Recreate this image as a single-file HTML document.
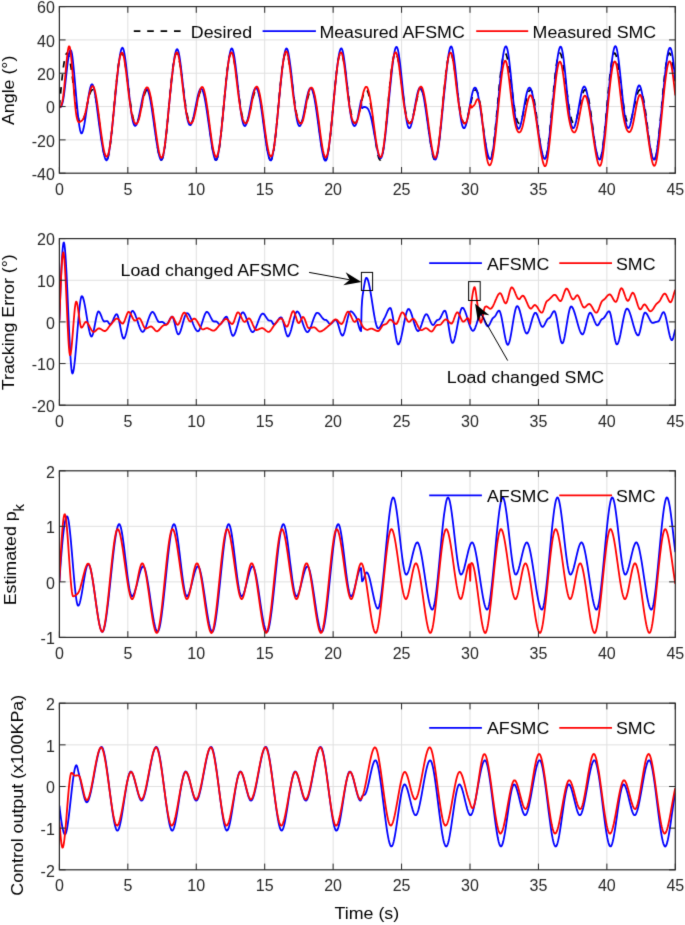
<!DOCTYPE html>
<html><head><meta charset="utf-8"><style>
html,body{margin:0;padding:0;background:#fff;overflow:hidden}
svg{display:block;will-change:transform;font-family:"Liberation Sans",sans-serif}
</style></head><body>
<svg width="685" height="925" viewBox="0 0 685 925">
<filter id="bl" x="0" y="0" width="685" height="925" filterUnits="userSpaceOnUse" color-interpolation-filters="sRGB"><feConvolveMatrix order="3" kernelMatrix="0.01134 0.08382 0.01134 0.08382 0.61935 0.08382 0.01134 0.08382 0.01134" edgeMode="duplicate" preserveAlpha="true"/></filter>
<rect width="685" height="925" fill="#fff"/><g filter="url(#bl)"><rect width="685" height="925" fill="#fff"/>
<defs><clipPath id="c0"><rect x="59.40" y="6.60" width="615.90" height="166.60"/></clipPath></defs>
<path d="M127.83 6.60V173.20M196.27 6.60V173.20M264.70 6.60V173.20M333.13 6.60V173.20M401.57 6.60V173.20M470.00 6.60V173.20M538.43 6.60V173.20M606.87 6.60V173.20M59.40 139.88H675.30M59.40 106.56H675.30M59.40 73.24H675.30M59.40 39.92H675.30" stroke="#e0e0e0" stroke-width="1" fill="none"/>
<path d="M59.4,106.6 L59.9,101.0 L60.4,95.5 L60.9,90.2 L61.4,85.0 L61.9,80.0 L62.4,75.4 L62.9,71.1 L63.4,67.2 L63.9,63.7 L64.4,60.7 L64.9,58.1 L65.4,56.1 L65.9,54.6 L66.4,53.6 L66.9,53.2 L67.4,53.3 L67.9,53.9 L68.4,54.9 L68.9,56.5 L69.4,58.5 L69.9,60.9 L70.4,63.7 L70.9,66.7 L71.4,70.1 L71.9,73.6 L72.4,77.4 L72.9,81.3 L73.4,85.2 L73.9,89.1 L74.4,93.0 L74.9,96.9 L75.4,100.6 L75.9,104.1 L76.4,107.4 L76.9,110.5 L77.4,113.2 L77.9,115.7 L78.4,117.9 L78.9,119.7 L79.4,121.1 L79.9,122.2 L80.4,122.9 L80.9,123.2 L81.4,123.2 L81.9,122.9 L82.4,122.2 L82.9,121.2 L83.4,119.9 L83.9,118.4 L84.4,116.6 L84.9,114.7 L85.4,112.6 L85.9,110.4 L86.4,108.2 L86.9,105.9 L87.4,103.6 L87.9,101.4 L88.4,99.3 L88.9,97.3 L89.4,95.4 L89.9,93.8 L90.4,92.4 L90.9,91.3 L91.4,90.5 L91.9,90.0 L92.4,89.8 L92.9,90.0 L93.4,90.6 L93.9,91.5 L94.4,92.8 L94.9,94.4 L95.4,96.4 L95.9,98.8 L96.4,101.4 L96.9,104.4 L97.4,107.6 L97.9,111.0 L98.4,114.7 L98.9,118.5 L99.4,122.3 L99.9,126.3 L100.4,130.2 L100.9,134.1 L101.4,137.9 L101.9,141.6 L102.4,145.0 L102.9,148.2 L103.4,151.1 L103.9,153.7 L104.4,155.8 L104.9,157.6 L105.4,158.9 L105.9,159.7 L106.4,160.0 L106.9,159.8 L107.4,159.0 L107.9,157.7 L108.4,155.9 L108.9,153.6 L109.4,150.8 L109.9,147.5 L110.4,143.7 L110.9,139.6 L111.4,135.1 L111.9,130.3 L112.4,125.2 L112.9,119.9 L113.4,114.4 L113.9,108.9 L114.4,103.4 L114.9,97.8 L115.4,92.4 L115.9,87.1 L116.4,82.1 L116.9,77.3 L117.4,72.9 L117.9,68.8 L118.4,65.1 L118.9,61.9 L119.4,59.1 L119.9,56.9 L120.4,55.2 L120.9,54.0 L121.4,53.3 L121.9,53.2 L122.4,53.5 L122.9,54.4 L123.4,55.8 L123.9,57.6 L124.4,59.8 L124.9,62.4 L125.4,65.4 L125.9,68.6 L126.4,72.1 L126.9,75.8 L127.4,79.6 L127.9,83.5 L128.4,87.5 L128.9,91.4 L129.4,95.3 L129.9,99.0 L130.4,102.6 L130.9,106.0 L131.4,109.2 L131.9,112.1 L132.4,114.7 L132.9,117.0 L133.4,119.0 L133.9,120.6 L134.4,121.8 L134.9,122.6 L135.4,123.1 L135.9,123.3 L136.5,123.1 L137.0,122.5 L137.5,121.6 L138.0,120.5 L138.5,119.1 L139.0,117.4 L139.5,115.5 L140.0,113.5 L140.5,111.4 L141.0,109.1 L141.5,106.9 L142.0,104.6 L142.5,102.3 L143.0,100.2 L143.5,98.1 L144.0,96.2 L144.5,94.5 L145.0,93.0 L145.5,91.8 L146.0,90.8 L146.5,90.2 L147.0,89.9 L147.5,89.9 L148.0,90.3 L148.5,91.1 L149.0,92.2 L149.5,93.7 L150.0,95.6 L150.5,97.8 L151.0,100.3 L151.5,103.1 L152.0,106.2 L152.5,109.6 L153.0,113.1 L153.5,116.8 L154.0,120.7 L154.5,124.6 L155.0,128.6 L155.5,132.5 L156.0,136.3 L156.5,140.0 L157.0,143.6 L157.5,146.9 L158.0,149.9 L158.5,152.6 L159.0,155.0 L159.5,156.9 L160.0,158.4 L160.5,159.4 L161.0,159.9 L161.5,159.9 L162.0,159.4 L162.5,158.3 L163.0,156.7 L163.5,154.6 L164.0,152.0 L164.5,148.9 L165.0,145.4 L165.5,141.4 L166.0,137.0 L166.5,132.3 L167.0,127.3 L167.5,122.1 L168.0,116.7 L168.5,111.2 L169.0,105.7 L169.5,100.2 L170.0,94.7 L170.5,89.3 L171.0,84.2 L171.5,79.3 L172.0,74.7 L172.5,70.5 L173.0,66.6 L173.5,63.2 L174.0,60.2 L174.5,57.8 L175.0,55.8 L175.5,54.4 L176.0,53.5 L176.5,53.2 L177.0,53.3 L177.5,54.0 L178.0,55.2 L178.5,56.8 L179.0,58.8 L179.5,61.3 L180.0,64.1 L180.5,67.2 L181.0,70.6 L181.5,74.2 L182.0,78.0 L182.5,81.9 L183.0,85.8 L183.5,89.7 L184.0,93.6 L184.5,97.4 L185.0,101.1 L185.5,104.6 L186.0,107.9 L186.5,110.9 L187.0,113.7 L187.5,116.1 L188.0,118.2 L188.5,119.9 L189.0,121.3 L189.5,122.3 L190.0,123.0 L190.5,123.3 L191.0,123.2 L191.5,122.8 L192.0,122.0 L192.5,121.0 L193.0,119.7 L193.5,118.1 L194.0,116.4 L194.5,114.4 L195.0,112.3 L195.5,110.1 L196.0,107.8 L196.5,105.5 L197.0,103.3 L197.5,101.1 L198.0,98.9 L198.5,97.0 L199.0,95.2 L199.5,93.6 L200.0,92.2 L200.5,91.2 L201.0,90.4 L201.5,90.0 L202.0,89.9 L202.5,90.1 L203.0,90.7 L203.5,91.7 L204.0,93.0 L204.5,94.7 L205.0,96.8 L205.5,99.2 L206.0,101.9 L206.5,104.9 L207.0,108.1 L207.5,111.6 L208.0,115.3 L208.5,119.1 L209.0,122.9 L209.5,126.9 L210.0,130.8 L210.5,134.7 L211.0,138.5 L211.5,142.1 L212.0,145.5 L212.5,148.7 L213.0,151.5 L213.5,154.0 L214.0,156.1 L214.5,157.8 L215.0,159.0 L215.5,159.8 L216.0,160.0 L216.5,159.7 L217.0,158.8 L217.5,157.5 L218.0,155.6 L218.5,153.2 L219.0,150.3 L219.5,146.9 L220.0,143.1 L220.5,138.9 L221.0,134.3 L221.5,129.5 L222.0,124.4 L222.5,119.0 L223.0,113.6 L223.5,108.0 L224.0,102.5 L224.5,97.0 L225.0,91.6 L225.5,86.3 L226.0,81.3 L226.5,76.6 L227.0,72.2 L227.5,68.2 L228.0,64.6 L228.5,61.4 L229.0,58.7 L229.5,56.6 L230.0,54.9 L230.5,53.8 L231.0,53.2 L231.5,53.2 L232.0,53.6 L232.5,54.6 L233.0,56.0 L233.5,57.9 L234.0,60.2 L234.5,62.9 L235.0,65.9 L235.5,69.2 L236.0,72.7 L236.5,76.4 L237.0,80.2 L237.5,84.1 L238.0,88.1 L238.5,92.0 L239.0,95.9 L239.5,99.6 L240.0,103.2 L240.5,106.5 L241.0,109.7 L241.5,112.5 L242.0,115.1 L242.5,117.3 L243.0,119.2 L243.5,120.8 L244.0,121.9 L244.5,122.7 L245.0,123.2 L245.5,123.3 L246.0,123.0 L246.5,122.4 L247.0,121.5 L247.5,120.3 L248.0,118.8 L248.5,117.1 L249.0,115.2 L249.5,113.2 L250.0,111.0 L250.5,108.8 L251.0,106.5 L251.5,104.2 L252.0,102.0 L252.5,99.8 L253.0,97.8 L253.5,95.9 L254.0,94.2 L254.5,92.8 L255.0,91.6 L255.5,90.7 L256.0,90.1 L256.5,89.9 L257.0,89.9 L257.5,90.4 L258.0,91.2 L258.5,92.4 L259.0,94.0 L259.5,95.9 L260.0,98.1 L260.5,100.7 L261.0,103.6 L261.5,106.7 L262.0,110.1 L262.5,113.7 L263.0,117.4 L263.5,121.3 L264.0,125.2 L264.5,129.2 L265.0,133.1 L265.5,136.9 L266.0,140.6 L266.5,144.1 L267.0,147.4 L267.5,150.4 L268.0,153.0 L268.5,155.3 L269.0,157.2 L269.5,158.6 L270.0,159.5 L270.5,159.9 L271.0,159.9 L271.5,159.3 L272.0,158.1 L272.5,156.5 L273.0,154.3 L273.5,151.6 L274.0,148.4 L274.5,144.8 L275.0,140.7 L275.5,136.3 L276.0,131.6 L276.5,126.5 L277.0,121.3 L277.5,115.9 L278.0,110.4 L278.5,104.8 L279.0,99.3 L279.5,93.8 L280.0,88.5 L280.5,83.4 L281.0,78.6 L281.5,74.0 L282.0,69.8 L282.5,66.0 L283.0,62.7 L283.5,59.8 L284.0,57.4 L284.5,55.6 L285.0,54.2 L285.5,53.4 L286.0,53.1 L286.5,53.4 L287.0,54.1 L287.5,55.4 L288.0,57.1 L288.5,59.2 L289.0,61.7 L289.5,64.6 L290.0,67.7 L290.6,71.2 L291.1,74.8 L291.6,78.6 L292.1,82.5 L292.6,86.4 L293.1,90.3 L293.6,94.2 L294.1,98.0 L294.6,101.7 L295.1,105.1 L295.6,108.4 L296.1,111.4 L296.6,114.1 L297.1,116.4 L297.6,118.5 L298.1,120.2 L298.6,121.5 L299.1,122.4 L299.6,123.0 L300.1,123.3 L300.6,123.1 L301.1,122.7 L301.6,121.9 L302.1,120.8 L302.6,119.5 L303.1,117.9 L303.6,116.1 L304.1,114.1 L304.6,112.0 L305.1,109.7 L305.6,107.5 L306.1,105.2 L306.6,102.9 L307.1,100.7 L307.6,98.6 L308.1,96.7 L308.6,94.9 L309.1,93.4 L309.6,92.1 L310.1,91.0 L310.6,90.3 L311.1,89.9 L311.6,89.9 L312.1,90.2 L312.6,90.8 L313.1,91.9 L313.6,93.3 L314.1,95.0 L314.6,97.1 L315.1,99.6 L315.6,102.3 L316.1,105.4 L316.6,108.7 L317.1,112.2 L317.6,115.8 L318.1,119.7 L318.6,123.6 L319.1,127.5 L319.6,131.4 L320.1,135.3 L320.6,139.1 L321.1,142.7 L321.6,146.0 L322.1,149.1 L322.6,151.9 L323.1,154.4 L323.6,156.4 L324.1,158.0 L324.6,159.2 L325.1,159.8 L325.6,160.0 L326.1,159.6 L326.6,158.7 L327.1,157.2 L327.6,155.2 L328.1,152.8 L328.6,149.8 L329.1,146.4 L329.6,142.5 L330.1,138.2 L330.6,133.6 L331.1,128.7 L331.6,123.5 L332.1,118.2 L332.6,112.7 L333.1,107.2 L333.6,101.6 L334.1,96.1 L334.6,90.8 L335.1,85.5 L335.6,80.6 L336.1,75.9 L336.6,71.6 L337.1,67.6 L337.6,64.1 L338.1,61.0 L338.6,58.4 L339.1,56.3 L339.6,54.7 L340.1,53.7 L340.6,53.2 L341.1,53.2 L341.6,53.8 L342.1,54.8 L342.6,56.3 L343.1,58.3 L343.6,60.6 L344.1,63.3 L344.6,66.4 L345.1,69.7 L345.6,73.2 L346.1,77.0 L346.6,80.8 L347.1,84.7 L347.6,88.7 L348.1,92.6 L348.6,96.4 L349.1,100.2 L349.6,103.7 L350.1,107.0 L350.6,110.1 L351.1,113.0 L351.6,115.5 L352.1,117.7 L352.6,119.5 L353.1,121.0 L353.6,122.1 L354.1,122.8 L354.6,123.2 L355.1,123.2 L355.6,122.9 L356.1,122.3 L356.6,121.3 L357.1,120.1 L357.6,118.6 L358.1,116.8 L358.6,114.9 L359.1,112.9 L359.6,110.7 L360.1,108.4 L360.6,106.2 L361.1,103.9 L361.6,101.6 L362.1,99.5 L362.6,97.5 L363.1,95.6 L363.6,94.0 L364.1,92.6 L364.6,91.4 L365.1,90.6 L365.6,90.0 L366.1,89.8 L366.6,90.0 L367.1,90.5 L367.6,91.4 L368.1,92.6 L368.6,94.2 L369.1,96.2 L369.6,98.5 L370.1,101.1 L370.6,104.1 L371.1,107.2 L371.6,110.7 L372.1,114.3 L372.6,118.0 L373.1,121.9 L373.6,125.8 L374.1,129.8 L374.6,133.7 L375.1,137.5 L375.6,141.2 L376.1,144.6 L376.6,147.9 L377.1,150.8 L377.6,153.4 L378.1,155.6 L378.6,157.4 L379.1,158.7 L379.6,159.6 L380.1,160.0 L380.6,159.8 L381.1,159.1 L381.6,157.9 L382.1,156.1 L382.6,153.9 L383.1,151.1 L383.6,147.9 L384.1,144.2 L384.6,140.1 L385.1,135.6 L385.6,130.8 L386.1,125.7 L386.6,120.5 L387.1,115.0 L387.6,109.5 L388.1,104.0 L388.6,98.4 L389.1,93.0 L389.6,87.7 L390.1,82.6 L390.6,77.8 L391.1,73.3 L391.6,69.2 L392.1,65.5 L392.6,62.2 L393.1,59.4 L393.6,57.1 L394.1,55.3 L394.6,54.1 L395.1,53.3 L395.6,53.1 L396.1,53.5 L396.6,54.3 L397.1,55.6 L397.6,57.4 L398.1,59.6 L398.6,62.1 L399.1,65.1 L399.6,68.3 L400.1,71.7 L400.6,75.4 L401.1,79.2 L401.6,83.1 L402.1,87.0 L402.6,91.0 L403.1,94.8 L403.6,98.6 L404.1,102.2 L404.6,105.7 L405.1,108.9 L405.6,111.8 L406.1,114.4 L406.6,116.8 L407.1,118.8 L407.6,120.4 L408.1,121.7 L408.6,122.6 L409.1,123.1 L409.6,123.3 L410.1,123.1 L410.6,122.6 L411.1,121.8 L411.6,120.6 L412.1,119.2 L412.6,117.6 L413.1,115.8 L413.6,113.8 L414.1,111.6 L414.6,109.4 L415.1,107.1 L415.6,104.8 L416.1,102.6 L416.6,100.4 L417.1,98.3 L417.6,96.4 L418.1,94.7 L418.6,93.1 L419.1,91.9 L419.6,90.9 L420.1,90.2 L420.6,89.9 L421.1,89.9 L421.6,90.2 L422.1,91.0 L422.6,92.1 L423.1,93.5 L423.6,95.3 L424.1,97.5 L424.6,100.0 L425.1,102.8 L425.6,105.9 L426.1,109.2 L426.6,112.7 L427.1,116.4 L427.6,120.3 L428.1,124.2 L428.6,128.1 L429.1,132.0 L429.6,135.9 L430.1,139.6 L430.6,143.2 L431.1,146.5 L431.6,149.6 L432.1,152.3 L432.6,154.7 L433.1,156.7 L433.6,158.2 L434.1,159.3 L434.6,159.9 L435.1,159.9 L435.6,159.5 L436.1,158.5 L436.6,156.9 L437.1,154.9 L437.6,152.3 L438.1,149.3 L438.6,145.8 L439.1,141.8 L439.6,137.5 L440.1,132.9 L440.6,127.9 L441.1,122.7 L441.6,117.4 L442.1,111.9 L442.6,106.3 L443.1,100.8 L443.6,95.3 L444.1,89.9 L444.7,84.8 L445.2,79.8 L445.7,75.2 L446.2,70.9 L446.7,67.0 L447.2,63.5 L447.7,60.5 L448.2,58.0 L448.7,56.0 L449.2,54.5 L449.7,53.6 L450.2,53.2 L450.7,53.3 L451.2,53.9 L451.7,55.0 L452.2,56.6 L452.7,58.6 L453.2,61.0 L453.7,63.8 L454.2,66.9 L454.7,70.2 L455.2,73.8 L455.7,77.6 L456.2,81.4 L456.7,85.4 L457.2,89.3 L457.7,93.2 L458.2,97.0 L458.7,100.7 L459.2,104.2 L459.7,107.5 L460.2,110.6 L460.7,113.4 L461.2,115.8 L461.7,118.0 L462.2,119.7 L462.7,121.2 L463.2,122.2 L463.7,122.9 L464.2,123.2 L464.7,123.2 L465.2,122.8 L465.7,122.1 L466.2,121.1 L466.7,119.9 L467.2,118.3 L467.7,116.6 L468.2,114.6 L468.7,112.5 L469.2,110.3 L469.7,108.1 L470.2,105.8 L470.7,103.5 L471.2,101.3 L471.7,99.2 L472.2,97.2 L472.7,95.4 L473.2,93.8 L473.7,92.4 L474.2,91.3 L474.7,90.5 L475.2,90.0 L475.7,89.8 L476.2,90.1 L476.7,90.6 L477.2,91.6 L477.7,92.9 L478.2,94.5 L478.7,96.5 L479.2,98.9 L479.7,101.6 L480.2,104.5 L480.7,107.8 L481.2,111.2 L481.7,114.8 L482.2,118.6 L482.7,122.5 L483.2,126.4 L483.7,130.4 L484.2,134.3 L484.7,138.1 L485.2,141.7 L485.7,145.2 L486.2,148.3 L486.7,151.2 L487.2,153.8 L487.7,155.9 L488.2,157.6 L488.7,158.9 L489.2,159.7 L489.7,160.0 L490.2,159.7 L490.7,159.0 L491.2,157.7 L491.7,155.8 L492.2,153.5 L492.7,150.6 L493.2,147.3 L493.7,143.6 L494.2,139.4 L494.7,134.9 L495.2,130.0 L495.7,124.9 L496.2,119.6 L496.7,114.2 L497.2,108.7 L497.7,103.1 L498.2,97.6 L498.7,92.2 L499.2,86.9 L499.7,81.9 L500.2,77.1 L500.7,72.7 L501.2,68.6 L501.7,65.0 L502.2,61.7 L502.7,59.0 L503.2,56.8 L503.7,55.1 L504.2,53.9 L504.7,53.3 L505.2,53.2 L505.7,53.6 L506.2,54.5 L506.7,55.9 L507.2,57.7 L507.7,59.9 L508.2,62.6 L508.7,65.5 L509.2,68.8 L509.7,72.3 L510.2,76.0 L510.7,79.8 L511.2,83.7 L511.7,87.6 L512.2,91.6 L512.7,95.4 L513.2,99.2 L513.7,102.8 L514.2,106.2 L514.7,109.3 L515.2,112.2 L515.7,114.8 L516.2,117.1 L516.7,119.0 L517.2,120.6 L517.7,121.8 L518.2,122.7 L518.7,123.2 L519.2,123.3 L519.7,123.0 L520.2,122.5 L520.7,121.6 L521.2,120.4 L521.7,119.0 L522.2,117.3 L522.7,115.5 L523.2,113.4 L523.7,111.3 L524.2,109.0 L524.7,106.8 L525.2,104.5 L525.7,102.2 L526.2,100.1 L526.7,98.0 L527.2,96.1 L527.7,94.4 L528.2,92.9 L528.7,91.7 L529.2,90.8 L529.7,90.2 L530.2,89.9 L530.7,89.9 L531.2,90.3 L531.7,91.1 L532.2,92.3 L532.7,93.8 L533.2,95.6 L533.7,97.9 L534.2,100.4 L534.7,103.2 L535.2,106.4 L535.7,109.7 L536.2,113.3 L536.7,117.0 L537.2,120.9 L537.7,124.8 L538.2,128.7 L538.7,132.6 L539.2,136.5 L539.7,140.2 L540.2,143.7 L540.7,147.0 L541.2,150.0 L541.7,152.7 L542.2,155.1 L542.7,157.0 L543.2,158.4 L543.7,159.4 L544.2,159.9 L544.7,159.9 L545.2,159.4 L545.7,158.3 L546.2,156.7 L546.7,154.5 L547.2,151.9 L547.7,148.8 L548.2,145.2 L548.7,141.2 L549.2,136.8 L549.7,132.1 L550.2,127.1 L550.7,121.9 L551.2,116.5 L551.7,111.0 L552.2,105.4 L552.7,99.9 L553.2,94.4 L553.7,89.1 L554.2,84.0 L554.7,79.1 L555.2,74.5 L555.7,70.3 L556.2,66.4 L556.7,63.0 L557.2,60.1 L557.7,57.7 L558.2,55.7 L558.7,54.4 L559.2,53.5 L559.7,53.1 L560.2,53.3 L560.7,54.0 L561.2,55.2 L561.7,56.9 L562.2,58.9 L562.7,61.4 L563.2,64.2 L563.7,67.4 L564.2,70.8 L564.7,74.4 L565.2,78.2 L565.7,82.0 L566.2,86.0 L566.7,89.9 L567.2,93.8 L567.7,97.6 L568.2,101.3 L568.7,104.8 L569.2,108.0 L569.7,111.0 L570.2,113.8 L570.7,116.2 L571.2,118.3 L571.7,120.0 L572.2,121.4 L572.7,122.4 L573.2,123.0 L573.7,123.3 L574.2,123.2 L574.7,122.8 L575.2,122.0 L575.7,121.0 L576.2,119.6 L576.7,118.1 L577.2,116.3 L577.7,114.3 L578.2,112.2 L578.7,110.0 L579.2,107.7 L579.7,105.4 L580.2,103.2 L580.7,101.0 L581.2,98.9 L581.7,96.9 L582.2,95.1 L582.7,93.5 L583.2,92.2 L583.7,91.1 L584.2,90.4 L584.7,89.9 L585.2,89.9 L585.7,90.1 L586.2,90.7 L586.7,91.7 L587.2,93.1 L587.7,94.8 L588.2,96.9 L588.7,99.3 L589.2,102.0 L589.7,105.0 L590.2,108.3 L590.7,111.8 L591.2,115.4 L591.7,119.2 L592.2,123.1 L592.7,127.1 L593.2,131.0 L593.7,134.9 L594.2,138.7 L594.7,142.3 L595.2,145.7 L595.7,148.8 L596.2,151.6 L596.7,154.1 L597.2,156.2 L597.7,157.9 L598.2,159.1 L598.8,159.8 L599.3,160.0 L599.8,159.6 L600.3,158.8 L600.8,157.4 L601.3,155.5 L601.8,153.1 L602.3,150.1 L602.8,146.8 L603.3,142.9 L603.8,138.7 L604.3,134.1 L604.8,129.3 L605.3,124.1 L605.8,118.8 L606.3,113.3 L606.8,107.8 L607.3,102.2 L607.8,96.7 L608.3,91.3 L608.8,86.1 L609.3,81.1 L609.8,76.4 L610.3,72.0 L610.8,68.0 L611.3,64.4 L611.8,61.3 L612.3,58.6 L612.8,56.5 L613.3,54.9 L613.8,53.8 L614.3,53.2 L614.8,53.2 L615.3,53.7 L615.8,54.7 L616.3,56.1 L616.8,58.0 L617.3,60.3 L617.8,63.0 L618.3,66.0 L618.8,69.3 L619.3,72.8 L619.8,76.5 L620.3,80.4 L620.8,84.3 L621.3,88.3 L621.8,92.2 L622.3,96.0 L622.8,99.8 L623.3,103.3 L623.8,106.7 L624.3,109.8 L624.8,112.7 L625.3,115.2 L625.8,117.4 L626.3,119.3 L626.8,120.8 L627.3,122.0 L627.8,122.8 L628.3,123.2 L628.8,123.3 L629.3,123.0 L629.8,122.4 L630.3,121.4 L630.8,120.2 L631.3,118.7 L631.8,117.0 L632.3,115.2 L632.8,113.1 L633.3,110.9 L633.8,108.7 L634.3,106.4 L634.8,104.1 L635.3,101.9 L635.8,99.7 L636.3,97.7 L636.8,95.8 L637.3,94.2 L637.8,92.7 L638.3,91.5 L638.8,90.7 L639.3,90.1 L639.8,89.9 L640.3,90.0 L640.8,90.4 L641.3,91.3 L641.8,92.5 L642.3,94.0 L642.8,96.0 L643.3,98.2 L643.8,100.8 L644.3,103.7 L644.8,106.9 L645.3,110.3 L645.8,113.9 L646.3,117.6 L646.8,121.5 L647.3,125.4 L647.8,129.3 L648.3,133.3 L648.8,137.1 L649.3,140.8 L649.8,144.3 L650.3,147.5 L650.8,150.5 L651.3,153.1 L651.8,155.4 L652.3,157.2 L652.8,158.6 L653.3,159.5 L653.8,160.0 L654.3,159.9 L654.8,159.2 L655.3,158.1 L655.8,156.4 L656.3,154.2 L656.8,151.4 L657.3,148.2 L657.8,144.6 L658.3,140.5 L658.8,136.1 L659.3,131.4 L659.8,126.3 L660.3,121.1 L660.8,115.7 L661.3,110.1 L661.8,104.6 L662.3,99.1 L662.8,93.6 L663.3,88.3 L663.8,83.2 L664.3,78.4 L664.8,73.8 L665.3,69.7 L665.8,65.9 L666.3,62.6 L666.8,59.7 L667.3,57.3 L667.8,55.5 L668.3,54.2 L668.8,53.4 L669.3,53.1 L669.8,53.4 L670.3,54.2 L670.8,55.4 L671.3,57.2 L671.8,59.3 L672.3,61.8 L672.8,64.7 L673.3,67.9 L673.8,71.3 L674.3,75.0 L674.8,78.8 L675.3,82.6" stroke="#000000" stroke-width="1.70" fill="none" stroke-linejoin="round" clip-path="url(#c0)" stroke-dasharray="6.5,6.6"/>
<path d="M59.4,107.2 L59.9,107.3 L60.4,107.2 L60.9,106.8 L61.4,106.0 L61.9,104.9 L62.4,103.3 L62.9,101.3 L63.4,98.7 L63.9,95.5 L64.4,91.7 L64.9,87.5 L65.4,83.0 L65.9,78.4 L66.4,73.8 L66.9,69.3 L67.4,65.0 L67.9,61.1 L68.4,57.7 L68.9,54.7 L69.4,52.4 L69.9,50.9 L70.4,50.1 L70.9,50.3 L71.4,51.4 L71.9,53.5 L72.4,56.7 L72.9,60.9 L73.4,65.5 L73.9,70.6 L74.4,76.0 L74.9,81.6 L75.4,87.3 L75.9,93.1 L76.4,98.8 L76.9,104.3 L77.4,109.5 L77.9,114.4 L78.4,118.9 L78.9,122.9 L79.4,126.3 L79.9,129.2 L80.4,131.3 L80.9,132.7 L81.4,133.4 L81.9,133.2 L82.4,132.3 L82.9,131.0 L83.4,129.1 L83.9,126.8 L84.4,124.2 L84.9,121.2 L85.4,118.0 L85.9,114.6 L86.4,111.2 L86.9,107.6 L87.4,104.1 L87.9,100.7 L88.4,97.4 L88.9,94.4 L89.4,91.6 L89.9,89.2 L90.4,87.2 L90.9,85.7 L91.4,84.7 L91.9,84.3 L92.4,84.4 L92.9,85.2 L93.4,86.5 L93.9,88.3 L94.4,90.6 L94.9,93.3 L95.4,96.4 L95.9,99.8 L96.4,103.4 L96.9,107.2 L97.4,111.1 L97.9,115.0 L98.4,118.8 L98.9,122.6 L99.4,126.3 L99.9,129.9 L100.4,133.4 L100.9,136.8 L101.4,140.1 L101.9,143.3 L102.4,146.2 L102.9,149.0 L103.4,151.6 L103.9,153.9 L104.4,156.0 L104.9,157.8 L105.4,159.1 L105.9,159.9 L106.4,160.3 L106.9,160.1 L107.4,159.3 L107.9,157.8 L108.4,155.7 L108.9,153.1 L109.4,150.0 L109.9,146.5 L110.4,142.7 L110.9,138.7 L111.4,134.5 L111.9,130.0 L112.4,125.3 L112.9,120.4 L113.4,115.5 L113.9,110.4 L114.4,105.3 L114.9,100.2 L115.4,95.1 L115.9,90.1 L116.4,85.2 L116.9,80.4 L117.4,75.7 L117.9,71.1 L118.4,66.7 L118.9,62.7 L119.4,59.0 L119.9,55.7 L120.4,52.9 L120.9,50.7 L121.4,49.1 L121.9,48.1 L122.4,47.7 L122.9,48.1 L123.4,49.2 L123.9,51.0 L124.4,53.4 L124.9,56.4 L125.4,59.8 L125.9,63.7 L126.4,68.0 L126.9,72.5 L127.4,77.2 L127.9,82.1 L128.4,87.0 L128.9,91.8 L129.4,96.6 L129.9,101.2 L130.4,105.5 L130.9,109.5 L131.4,113.2 L131.9,116.4 L132.4,119.1 L132.9,121.4 L133.4,123.1 L133.9,124.5 L134.4,125.4 L134.9,125.8 L135.4,125.8 L135.9,125.4 L136.5,124.6 L137.0,123.5 L137.5,122.0 L138.0,120.2 L138.5,118.2 L139.0,115.9 L139.5,113.5 L140.0,111.0 L140.5,108.4 L141.0,105.8 L141.5,103.2 L142.0,100.7 L142.5,98.3 L143.0,96.2 L143.5,94.3 L144.0,92.6 L144.5,91.2 L145.0,90.1 L145.5,89.4 L146.0,89.0 L146.5,88.9 L147.0,89.2 L147.5,89.8 L148.0,90.8 L148.5,92.2 L149.0,93.9 L149.5,95.9 L150.0,98.3 L150.5,100.9 L151.0,103.8 L151.5,106.9 L152.0,110.2 L152.5,113.6 L153.0,117.1 L153.5,120.6 L154.0,124.2 L154.5,127.8 L155.0,131.3 L155.5,134.8 L156.0,138.2 L156.5,141.5 L157.0,144.6 L157.5,147.5 L158.0,150.2 L158.5,152.7 L159.0,154.9 L159.5,156.8 L160.0,158.3 L160.5,159.3 L161.0,159.9 L161.5,159.9 L162.0,159.4 L162.5,158.3 L163.0,156.6 L163.5,154.3 L164.0,151.6 L164.5,148.3 L165.0,144.6 L165.5,140.5 L166.0,136.0 L166.5,131.3 L167.0,126.5 L167.5,121.5 L168.0,116.4 L168.5,111.2 L169.0,106.1 L169.5,100.9 L170.0,95.9 L170.5,90.9 L171.0,86.0 L171.5,81.3 L172.0,76.8 L172.5,72.4 L173.0,68.3 L173.5,64.3 L174.0,60.7 L174.5,57.5 L175.0,54.7 L175.5,52.5 L176.0,50.8 L176.5,49.6 L177.0,49.2 L177.5,49.4 L178.0,50.2 L178.5,51.8 L179.0,54.0 L179.5,56.7 L180.0,59.9 L180.5,63.5 L181.0,67.5 L181.5,71.8 L182.0,76.3 L182.5,80.9 L183.0,85.5 L183.5,90.2 L184.0,94.8 L184.5,99.2 L185.0,103.5 L185.5,107.5 L186.0,111.1 L186.5,114.3 L187.0,117.2 L187.5,119.5 L188.0,121.5 L188.5,123.0 L189.0,124.2 L189.5,124.8 L190.0,125.1 L190.5,125.0 L191.0,124.5 L191.5,123.6 L192.0,122.4 L192.5,120.8 L193.0,119.0 L193.5,117.0 L194.0,114.7 L194.5,112.3 L195.0,109.8 L195.5,107.3 L196.0,104.7 L196.5,102.1 L197.0,99.7 L197.5,97.3 L198.0,95.2 L198.5,93.3 L199.0,91.7 L199.5,90.5 L200.0,89.5 L200.5,89.0 L201.0,88.7 L201.5,88.9 L202.0,89.4 L202.5,90.3 L203.0,91.6 L203.5,93.2 L204.0,95.1 L204.5,97.3 L205.0,99.9 L205.5,102.6 L206.0,105.6 L206.5,108.8 L207.0,112.1 L207.5,115.5 L208.0,119.0 L208.5,122.6 L209.0,126.1 L209.5,129.7 L210.0,133.3 L210.5,136.7 L211.0,140.1 L211.5,143.3 L212.0,146.4 L212.5,149.3 L213.0,151.9 L213.5,154.2 L214.0,156.3 L214.5,158.0 L215.0,159.2 L215.5,159.9 L216.0,160.1 L216.5,159.8 L217.0,158.8 L217.5,157.3 L218.0,155.2 L218.5,152.5 L219.0,149.4 L219.5,145.9 L220.0,142.1 L220.5,138.0 L221.0,133.6 L221.5,129.0 L222.0,124.2 L222.5,119.2 L223.0,114.1 L223.5,108.9 L224.0,103.7 L224.5,98.5 L225.0,93.3 L225.5,88.3 L226.0,83.4 L226.5,78.7 L227.0,74.1 L227.5,69.7 L228.0,65.5 L228.5,61.6 L229.0,58.1 L229.5,55.1 L230.0,52.6 L230.5,50.6 L231.0,49.3 L231.5,48.5 L232.0,48.5 L232.5,49.1 L233.0,50.5 L233.5,52.4 L234.0,54.9 L234.5,57.9 L235.0,61.4 L235.5,65.2 L236.0,69.3 L236.5,73.6 L237.0,78.1 L237.5,82.7 L238.0,87.4 L238.5,92.0 L239.0,96.6 L239.5,101.0 L240.0,105.2 L240.5,109.1 L241.0,112.7 L241.5,115.9 L242.0,118.8 L242.5,121.1 L243.0,123.0 L243.5,124.5 L244.0,125.4 L244.5,125.9 L245.0,126.0 L245.5,125.6 L246.0,124.8 L246.5,123.7 L247.0,122.2 L247.5,120.4 L248.0,118.3 L248.5,116.1 L249.0,113.6 L249.5,111.0 L250.0,108.3 L250.5,105.7 L251.0,103.0 L251.5,100.4 L252.0,98.0 L252.5,95.7 L253.0,93.7 L253.5,92.0 L254.0,90.5 L254.5,89.4 L255.0,88.5 L255.5,88.1 L256.0,87.9 L256.5,88.2 L257.0,88.8 L257.5,89.8 L258.0,91.2 L258.5,92.9 L259.0,95.0 L259.5,97.4 L260.0,100.1 L260.5,103.1 L261.0,106.3 L261.5,109.7 L262.0,113.3 L262.5,117.0 L263.0,120.8 L263.5,124.5 L264.0,128.3 L264.5,132.0 L265.0,135.7 L265.5,139.2 L266.0,142.6 L266.5,145.8 L267.0,148.7 L267.5,151.4 L268.0,153.9 L268.5,155.9 L269.0,157.7 L269.5,159.1 L270.0,160.0 L270.5,160.4 L271.0,160.4 L271.5,159.6 L272.0,158.1 L272.5,156.1 L273.0,153.5 L273.5,150.6 L274.0,147.4 L274.5,143.8 L275.0,139.9 L275.5,135.7 L276.0,131.2 L276.5,126.4 L277.0,121.5 L277.5,116.3 L278.0,111.1 L278.5,105.8 L279.0,100.6 L279.5,95.3 L280.0,90.2 L280.5,85.2 L281.0,80.4 L281.5,75.8 L282.0,71.3 L282.5,67.0 L283.0,63.1 L283.5,59.5 L284.0,56.3 L284.5,53.6 L285.0,51.4 L285.5,49.8 L286.0,48.8 L286.5,48.4 L287.0,48.7 L287.5,49.6 L288.0,51.2 L288.5,53.5 L289.0,56.3 L289.5,59.5 L290.0,63.2 L290.6,67.3 L291.1,71.6 L291.6,76.1 L292.1,80.8 L292.6,85.6 L293.1,90.3 L293.6,95.0 L294.1,99.6 L294.6,103.9 L295.1,108.0 L295.6,111.8 L296.1,115.1 L296.6,118.1 L297.1,120.6 L297.6,122.6 L298.1,124.1 L298.6,125.2 L299.1,125.9 L299.6,126.0 L300.1,125.8 L300.6,125.2 L301.1,124.2 L301.6,122.8 L302.1,121.1 L302.6,119.2 L303.1,117.0 L303.6,114.6 L304.1,112.1 L304.6,109.4 L305.1,106.8 L305.6,104.1 L306.1,101.5 L306.6,99.0 L307.1,96.7 L307.6,94.6 L308.1,92.7 L308.6,91.1 L309.1,89.9 L309.6,88.9 L310.1,88.3 L310.6,88.1 L311.1,88.3 L311.6,88.8 L312.1,89.6 L312.6,90.9 L313.1,92.5 L313.6,94.5 L314.1,96.8 L314.6,99.4 L315.1,102.3 L315.6,105.4 L316.1,108.7 L316.6,112.2 L317.1,115.8 L317.6,119.5 L318.1,123.2 L318.6,127.0 L319.1,130.8 L319.6,134.5 L320.1,138.1 L320.6,141.6 L321.1,144.9 L321.6,148.0 L322.1,150.9 L322.6,153.4 L323.1,155.6 L323.6,157.5 L324.1,159.0 L324.6,160.0 L325.1,160.6 L325.6,160.7 L326.1,160.3 L326.6,159.3 L327.1,157.7 L327.6,155.4 L328.1,152.7 L328.6,149.4 L329.1,145.8 L329.6,141.7 L330.1,137.4 L330.6,132.8 L331.1,128.0 L331.6,123.0 L332.1,117.8 L332.6,112.6 L333.1,107.2 L333.6,101.9 L334.1,96.6 L334.6,91.4 L335.1,86.3 L335.6,81.4 L336.1,76.7 L336.6,72.1 L337.1,67.8 L337.6,63.7 L338.1,60.0 L338.6,56.8 L339.1,54.0 L339.6,51.7 L340.1,50.0 L340.6,48.9 L341.1,48.4 L341.6,48.5 L342.1,49.4 L342.6,50.8 L343.1,52.9 L343.6,55.6 L344.1,58.9 L344.6,62.6 L345.1,66.6 L345.6,71.0 L346.1,75.6 L346.6,80.4 L347.1,85.2 L347.6,90.0 L348.1,94.7 L348.6,99.3 L349.1,103.6 L349.6,107.6 L350.1,111.2 L350.6,114.4 L351.1,117.2 L351.6,119.6 L352.1,121.6 L352.6,123.3 L353.1,124.5 L353.6,125.4 L354.1,125.9 L354.6,126.0 L355.1,125.7 L355.6,125.1 L356.1,124.1 L356.6,122.6 L357.1,120.8 L357.6,118.6 L358.1,116.2 L358.6,113.5 L359.1,110.8 L359.6,108.0 L360.1,105.3 L360.6,102.6 L361.1,100.2 L361.6,107.1 L362.1,108.1 L362.6,108.0 L363.1,107.4 L363.6,107.1 L364.1,106.9 L364.6,106.9 L365.1,107.0 L365.6,107.2 L366.1,107.4 L366.6,107.6 L367.1,108.0 L367.6,108.4 L368.1,109.1 L368.6,110.0 L369.1,111.1 L369.6,112.5 L370.1,114.0 L370.6,115.8 L371.1,117.8 L371.6,119.9 L372.1,122.3 L372.6,124.7 L373.1,127.3 L373.6,130.0 L374.1,132.8 L374.6,135.5 L375.1,138.3 L375.6,141.0 L376.1,143.7 L376.6,146.2 L377.1,148.7 L377.6,150.9 L378.1,153.0 L378.6,154.9 L379.1,156.3 L379.6,157.4 L380.1,158.0 L380.6,158.2 L381.1,157.9 L381.6,157.1 L382.1,155.7 L382.6,153.9 L383.1,151.6 L383.6,148.7 L384.1,145.4 L384.6,141.7 L385.1,137.6 L385.6,133.2 L386.1,128.6 L386.6,123.8 L387.1,118.9 L387.6,113.8 L388.1,108.6 L388.6,103.5 L389.1,98.3 L389.6,93.2 L390.1,88.2 L390.6,83.3 L391.1,78.4 L391.6,73.6 L392.1,69.0 L392.6,64.7 L393.1,60.7 L393.6,57.1 L394.1,54.0 L394.6,51.4 L395.1,49.3 L395.6,47.9 L396.1,47.1 L396.6,46.9 L397.1,47.4 L397.6,48.7 L398.1,50.6 L398.6,53.2 L399.1,56.3 L399.6,59.9 L400.1,63.9 L400.6,68.3 L401.1,72.8 L401.6,77.6 L402.1,82.5 L402.6,87.4 L403.1,92.3 L403.6,97.1 L404.1,101.8 L404.6,106.2 L405.1,110.4 L405.6,114.2 L406.1,117.6 L406.6,120.6 L407.1,123.2 L407.6,125.2 L408.1,126.8 L408.6,127.7 L409.1,128.2 L409.6,128.1 L410.1,127.6 L410.6,126.7 L411.1,125.3 L411.6,123.6 L412.1,121.6 L412.6,119.3 L413.1,116.8 L413.6,114.1 L414.1,111.3 L414.6,108.4 L415.1,105.5 L415.6,102.7 L416.1,99.9 L416.6,97.3 L417.1,94.9 L417.6,92.8 L418.1,91.0 L418.6,89.6 L419.1,88.5 L419.6,87.8 L420.1,87.6 L420.6,87.7 L421.1,88.3 L421.6,89.2 L422.1,90.6 L422.6,92.3 L423.1,94.3 L423.6,96.7 L424.1,99.4 L424.6,102.3 L425.1,105.5 L425.6,108.8 L426.1,112.3 L426.6,115.8 L427.1,119.3 L427.6,122.9 L428.1,126.5 L428.6,130.0 L429.1,133.5 L429.6,136.9 L430.1,140.1 L430.6,143.2 L431.1,146.1 L431.6,148.8 L432.1,151.3 L432.6,153.5 L433.1,155.5 L433.6,157.1 L434.1,158.3 L434.6,159.2 L435.1,159.6 L435.6,159.4 L436.1,158.7 L436.6,157.4 L437.1,155.6 L437.6,153.1 L438.1,150.1 L438.6,146.7 L439.1,142.8 L439.6,138.7 L440.1,134.3 L440.6,129.7 L441.1,124.9 L441.6,119.9 L442.1,114.9 L442.6,109.8 L443.1,104.6 L443.6,99.4 L444.1,94.3 L444.7,89.2 L445.2,84.3 L445.7,79.3 L446.2,74.4 L446.7,69.6 L447.2,65.2 L447.7,61.0 L448.2,57.3 L448.7,54.0 L449.2,51.3 L449.7,49.1 L450.2,47.6 L450.7,46.7 L451.2,46.5 L451.7,47.0 L452.2,48.2 L452.7,50.2 L453.2,52.8 L453.7,55.9 L454.2,59.5 L454.7,63.6 L455.2,67.9 L455.7,72.6 L456.2,77.4 L456.7,82.4 L457.2,87.4 L457.7,92.4 L458.2,97.3 L458.7,102.0 L459.2,106.5 L459.7,110.7 L460.2,114.5 L460.7,117.9 L461.2,120.9 L461.7,123.4 L462.2,125.4 L462.7,126.8 L463.2,127.7 L463.7,128.2 L464.2,128.2 L464.7,127.8 L465.2,126.9 L465.7,125.7 L466.2,124.1 L466.7,122.2 L467.2,120.0 L467.7,117.6 L468.2,115.0 L468.7,112.3 L469.2,109.5 L469.7,106.7 L470.2,103.8 L470.7,101.1 L471.2,98.5 L471.7,96.0 L472.2,93.8 L472.7,91.8 L473.2,90.2 L473.7,88.9 L474.2,88.1 L474.7,87.7 L475.2,87.6 L475.7,88.0 L476.2,88.8 L476.7,90.0 L477.2,91.6 L477.7,93.5 L478.2,95.8 L478.7,98.4 L479.2,101.2 L479.7,104.3 L480.2,107.5 L480.7,110.9 L481.2,114.4 L481.7,117.9 L482.2,121.4 L482.7,124.9 L483.2,128.4 L483.7,131.8 L484.2,135.2 L484.7,138.5 L485.2,141.6 L485.7,144.5 L486.2,147.3 L486.7,149.8 L487.2,152.1 L487.7,154.2 L488.2,155.9 L488.7,157.4 L489.2,158.4 L489.7,159.1 L490.2,159.2 L490.7,158.9 L491.2,158.0 L491.7,156.6 L492.2,154.6 L492.7,152.1 L493.2,149.0 L493.7,145.4 L494.2,141.3 L494.7,137.0 L495.2,132.4 L495.7,127.6 L496.2,122.7 L496.7,117.6 L497.2,112.4 L497.7,107.2 L498.2,101.9 L498.7,96.6 L499.2,91.4 L499.7,86.1 L500.2,80.9 L500.7,75.9 L501.2,71.0 L501.7,66.4 L502.2,62.2 L502.7,58.3 L503.2,55.0 L503.7,52.1 L504.2,49.8 L504.7,48.0 L505.2,46.9 L505.7,46.4 L506.2,46.5 L506.7,47.3 L507.2,48.7 L507.7,50.8 L508.2,53.5 L508.7,56.8 L509.2,60.6 L509.7,64.8 L510.2,69.3 L510.7,74.1 L511.2,79.1 L511.7,84.3 L512.2,89.4 L512.7,94.5 L513.2,99.5 L513.7,104.2 L514.2,108.8 L514.7,112.9 L515.2,116.7 L515.7,120.1 L516.2,122.9 L516.7,125.2 L517.2,126.9 L517.7,128.1 L518.2,128.7 L518.7,128.8 L519.2,128.4 L519.7,127.5 L520.2,126.3 L520.7,124.6 L521.2,122.6 L521.7,120.4 L522.2,117.8 L522.7,115.1 L523.2,112.3 L523.7,109.3 L524.2,106.4 L524.7,103.4 L525.2,100.6 L525.7,98.0 L526.2,95.5 L526.7,93.3 L527.2,91.5 L527.7,90.0 L528.2,88.9 L528.7,88.1 L529.2,87.7 L529.7,87.7 L530.2,88.1 L530.7,88.8 L531.2,90.0 L531.7,91.5 L532.2,93.3 L532.7,95.5 L533.2,97.9 L533.7,100.7 L534.2,103.6 L534.7,106.8 L535.2,110.0 L535.7,113.4 L536.2,116.8 L536.7,120.2 L537.2,123.6 L537.7,127.1 L538.2,130.5 L538.7,133.8 L539.2,137.0 L539.7,140.2 L540.2,143.2 L540.7,146.0 L541.2,148.6 L541.7,150.9 L542.2,153.1 L542.7,155.0 L543.2,156.6 L543.7,157.8 L544.2,158.6 L544.7,158.9 L545.2,158.8 L545.7,158.1 L546.2,156.9 L546.7,155.1 L547.2,152.8 L547.7,149.9 L548.2,146.5 L548.7,142.6 L549.2,138.4 L549.7,133.8 L550.2,129.0 L550.7,124.1 L551.2,119.1 L551.7,114.0 L552.2,108.8 L552.7,103.6 L553.2,98.5 L553.7,93.3 L554.2,88.3 L554.7,83.3 L555.2,78.4 L555.7,73.5 L556.2,68.9 L556.7,64.5 L557.2,60.5 L557.7,56.9 L558.2,53.8 L558.7,51.1 L559.2,49.1 L559.7,47.7 L560.2,46.8 L560.7,46.7 L561.2,47.2 L561.7,48.4 L562.2,50.4 L562.7,53.0 L563.2,56.2 L563.7,59.9 L564.2,64.1 L564.7,68.6 L565.2,73.4 L565.7,78.5 L566.2,83.6 L566.7,88.8 L567.2,93.9 L567.7,98.9 L568.2,103.7 L568.7,108.3 L569.2,112.4 L569.7,116.2 L570.2,119.5 L570.7,122.3 L571.2,124.4 L571.7,126.1 L572.2,127.2 L572.7,127.9 L573.2,128.2 L573.7,128.0 L574.2,127.3 L574.7,126.3 L575.2,124.9 L575.7,123.1 L576.2,121.1 L576.7,118.8 L577.2,116.2 L577.7,113.6 L578.2,110.7 L578.7,107.9 L579.2,105.0 L579.7,102.1 L580.2,99.3 L580.7,96.7 L581.2,94.2 L581.7,92.0 L582.2,90.1 L582.7,88.6 L583.2,87.4 L583.7,86.7 L584.2,86.5 L584.7,86.7 L585.2,87.4 L585.7,88.4 L586.2,89.9 L586.7,91.8 L587.2,93.9 L587.7,96.4 L588.2,99.2 L588.7,102.2 L589.2,105.3 L589.7,108.6 L590.2,111.9 L590.7,115.3 L591.2,118.8 L591.7,122.3 L592.2,125.8 L592.7,129.3 L593.2,132.7 L593.7,136.1 L594.2,139.3 L594.7,142.4 L595.2,145.3 L595.7,148.1 L596.2,150.6 L596.7,152.8 L597.2,154.8 L597.7,156.5 L598.2,157.9 L598.8,158.9 L599.3,159.4 L599.8,159.5 L600.3,159.0 L600.8,158.0 L601.3,156.4 L601.8,154.1 L602.3,151.3 L602.8,148.0 L603.3,144.3 L603.8,140.3 L604.3,135.9 L604.8,131.3 L605.3,126.4 L605.8,121.4 L606.3,116.3 L606.8,111.1 L607.3,105.9 L607.8,100.7 L608.3,95.5 L608.8,90.3 L609.3,85.3 L609.8,80.3 L610.3,75.4 L610.8,70.6 L611.3,66.1 L611.8,61.9 L612.3,58.0 L612.8,54.6 L613.3,51.7 L613.8,49.4 L614.3,47.7 L614.8,46.6 L615.3,46.1 L615.8,46.4 L616.3,47.3 L616.8,49.0 L617.3,51.4 L617.8,54.3 L618.3,57.8 L618.8,61.6 L619.3,65.9 L619.8,70.4 L620.3,75.2 L620.8,80.1 L621.3,85.0 L621.8,90.0 L622.3,94.9 L622.8,99.7 L623.3,104.3 L623.8,108.6 L624.3,112.6 L624.8,116.2 L625.3,119.4 L625.8,122.2 L626.3,124.4 L626.8,126.1 L627.3,127.3 L627.8,127.9 L628.3,128.1 L628.8,127.8 L629.3,127.1 L629.8,126.0 L630.3,124.5 L630.8,122.6 L631.3,120.5 L631.8,118.1 L632.3,115.5 L632.8,112.7 L633.3,109.8 L633.8,106.9 L634.3,103.9 L634.8,101.0 L635.3,98.2 L635.8,95.5 L636.3,93.0 L636.8,90.8 L637.3,88.9 L637.8,87.3 L638.3,86.2 L638.8,85.5 L639.3,85.4 L639.8,85.8 L640.3,86.7 L640.8,88.1 L641.3,89.9 L641.8,92.1 L642.3,94.6 L642.8,97.4 L643.3,100.5 L643.8,103.8 L644.3,107.2 L644.8,110.6 L645.3,114.0 L645.8,117.5 L646.3,121.1 L646.8,124.7 L647.3,128.3 L647.8,131.8 L648.3,135.4 L648.8,138.8 L649.3,142.0 L649.8,145.1 L650.3,148.0 L650.8,150.7 L651.3,153.0 L651.8,155.1 L652.3,156.8 L652.8,158.2 L653.3,159.2 L653.8,159.6 L654.3,159.6 L654.8,159.0 L655.3,158.0 L655.8,156.3 L656.3,154.2 L656.8,151.5 L657.3,148.3 L657.8,144.7 L658.3,140.7 L658.8,136.5 L659.3,132.0 L659.8,127.4 L660.3,122.6 L660.8,117.7 L661.3,112.7 L661.8,107.6 L662.3,102.5 L662.8,97.3 L663.3,92.2 L663.8,87.1 L664.3,82.0 L664.8,77.0 L665.3,72.3 L665.8,67.8 L666.3,63.6 L666.8,59.8 L667.3,56.5 L667.8,53.6 L668.3,51.3 L668.8,49.5 L669.3,48.4 L669.8,47.8 L670.3,47.9 L670.8,48.6 L671.3,50.0 L671.8,52.0 L672.3,54.6 L672.8,57.9 L673.3,61.7 L673.8,65.9 L674.3,70.3 L674.8,75.0 L675.3,79.6" stroke="#0000ff" stroke-width="1.80" fill="none" stroke-linejoin="round" clip-path="url(#c0)"/>
<path d="M59.4,107.1 L59.9,107.2 L60.4,107.0 L60.9,106.4 L61.4,105.3 L61.9,103.6 L62.4,101.4 L62.9,98.5 L63.4,95.0 L63.9,90.6 L64.4,85.6 L64.9,80.1 L65.4,74.5 L65.9,68.9 L66.4,63.4 L66.9,58.4 L67.4,54.1 L67.9,50.5 L68.4,47.9 L68.9,46.4 L69.4,46.3 L69.9,47.6 L70.4,50.5 L70.9,54.5 L71.4,59.3 L71.9,64.9 L72.4,71.0 L72.9,77.4 L73.4,83.9 L73.9,90.4 L74.4,96.7 L74.9,102.5 L75.4,107.7 L75.9,112.1 L76.4,115.5 L76.9,118.1 L77.4,120.0 L77.9,121.3 L78.4,122.1 L78.9,122.4 L79.4,122.3 L79.9,122.0 L80.4,121.6 L80.9,121.2 L81.4,120.9 L81.9,120.6 L82.4,120.1 L82.9,119.4 L83.4,118.5 L83.9,117.4 L84.4,116.0 L84.9,114.4 L85.4,112.5 L85.9,110.4 L86.4,108.1 L86.9,105.7 L87.4,103.2 L87.9,100.7 L88.4,98.3 L88.9,95.9 L89.4,93.7 L89.9,91.7 L90.4,89.9 L90.9,88.5 L91.4,87.3 L91.9,86.5 L92.4,86.1 L92.9,86.1 L93.4,86.6 L93.9,87.5 L94.4,88.9 L94.9,90.7 L95.4,92.8 L95.9,95.4 L96.4,98.2 L96.9,101.4 L97.4,104.7 L97.9,108.3 L98.4,112.1 L98.9,115.9 L99.4,119.7 L99.9,123.6 L100.4,127.5 L100.9,131.2 L101.4,134.9 L101.9,138.4 L102.4,141.7 L102.9,144.8 L103.4,147.6 L103.9,150.1 L104.4,152.2 L104.9,153.9 L105.4,155.3 L105.9,156.2 L106.4,156.6 L106.9,156.6 L107.4,156.1 L107.9,155.1 L108.4,153.6 L108.9,151.6 L109.4,149.0 L109.9,146.0 L110.4,142.5 L110.9,138.6 L111.4,134.3 L111.9,129.7 L112.4,124.9 L112.9,119.8 L113.4,114.6 L113.9,109.4 L114.4,104.0 L114.9,98.7 L115.4,93.5 L115.9,88.3 L116.4,83.4 L116.9,78.6 L117.4,74.2 L117.9,70.0 L118.4,66.2 L118.9,62.7 L119.4,59.7 L119.9,57.2 L120.4,55.2 L120.9,53.7 L121.4,52.9 L121.9,52.6 L122.4,52.9 L122.9,53.8 L123.4,55.3 L123.9,57.5 L124.4,60.1 L124.9,63.3 L125.4,66.8 L125.9,70.6 L126.4,74.6 L126.9,78.8 L127.4,83.0 L127.9,87.3 L128.4,91.4 L128.9,95.4 L129.4,99.1 L129.9,102.7 L130.4,106.0 L130.9,109.0 L131.4,111.8 L131.9,114.3 L132.4,116.5 L132.9,118.4 L133.4,120.0 L133.9,121.3 L134.4,122.3 L134.9,123.1 L135.4,123.7 L135.9,123.9 L136.5,123.9 L137.0,123.5 L137.5,122.8 L138.0,121.8 L138.5,120.5 L139.0,118.9 L139.5,117.0 L140.0,114.8 L140.5,112.4 L141.0,109.8 L141.5,107.1 L142.0,104.4 L142.5,101.6 L143.0,99.0 L143.5,96.5 L144.0,94.2 L144.5,92.2 L145.0,90.4 L145.5,89.1 L146.0,88.2 L146.5,87.6 L147.0,87.3 L147.5,87.5 L148.0,88.0 L148.5,88.9 L149.0,90.1 L149.5,91.7 L150.0,93.6 L150.5,95.9 L151.0,98.5 L151.5,101.2 L152.0,104.2 L152.5,107.4 L153.0,110.8 L153.5,114.3 L154.0,117.9 L154.5,121.5 L155.0,125.3 L155.5,129.0 L156.0,132.7 L156.5,136.3 L157.0,139.8 L157.5,143.2 L158.0,146.3 L158.5,149.2 L159.0,151.7 L159.5,153.9 L160.0,155.6 L160.5,156.8 L161.0,157.6 L161.5,157.8 L162.0,157.5 L162.5,156.7 L163.0,155.2 L163.5,153.2 L164.0,150.7 L164.5,147.6 L165.0,144.1 L165.5,140.2 L166.0,135.9 L166.5,131.2 L167.0,126.3 L167.5,121.3 L168.0,116.2 L168.5,111.0 L169.0,105.8 L169.5,100.7 L170.0,95.7 L170.5,90.7 L171.0,85.9 L171.5,81.2 L172.0,76.8 L172.5,72.5 L173.0,68.5 L173.5,64.8 L174.0,61.5 L174.5,58.6 L175.0,56.2 L175.5,54.4 L176.0,53.1 L176.5,52.4 L177.0,52.3 L177.5,52.8 L178.0,54.0 L178.5,55.8 L179.0,58.2 L179.5,61.1 L180.0,64.4 L180.5,68.0 L181.0,72.0 L181.5,76.1 L182.0,80.4 L182.5,84.8 L183.0,89.1 L183.5,93.3 L184.0,97.4 L184.5,101.2 L185.0,104.7 L185.5,108.0 L186.0,110.9 L186.5,113.5 L187.0,115.8 L187.5,117.8 L188.0,119.5 L188.5,120.8 L189.0,121.9 L189.5,122.6 L190.0,123.2 L190.5,123.4 L191.0,123.5 L191.5,123.2 L192.0,122.7 L192.5,121.9 L193.0,120.8 L193.5,119.4 L194.0,117.7 L194.5,115.7 L195.0,113.5 L195.5,111.2 L196.0,108.7 L196.5,106.2 L197.0,103.6 L197.5,101.0 L198.0,98.6 L198.5,96.2 L199.0,94.0 L199.5,92.1 L200.0,90.4 L200.5,89.0 L201.0,88.0 L201.5,87.3 L202.0,87.0 L202.5,87.1 L203.0,87.7 L203.5,88.7 L204.0,90.1 L204.5,91.9 L205.0,94.1 L205.5,96.6 L206.0,99.3 L206.5,102.4 L207.0,105.6 L207.5,109.1 L208.0,112.7 L208.5,116.4 L209.0,120.2 L209.5,124.0 L210.0,127.9 L210.5,131.6 L211.0,135.3 L211.5,138.8 L212.0,142.2 L212.5,145.3 L213.0,148.1 L213.5,150.5 L214.0,152.6 L214.5,154.4 L215.0,155.7 L215.5,156.6 L216.0,157.0 L216.5,156.9 L217.0,156.4 L217.5,155.2 L218.0,153.6 L218.5,151.4 L219.0,148.8 L219.5,145.6 L220.0,142.0 L220.5,138.0 L221.0,133.7 L221.5,129.1 L222.0,124.2 L222.5,119.1 L223.0,113.9 L223.5,108.6 L224.0,103.2 L224.5,97.9 L225.0,92.6 L225.5,87.5 L226.0,82.5 L226.5,77.7 L227.0,73.3 L227.5,69.1 L228.0,65.3 L228.5,61.9 L229.0,59.0 L229.5,56.6 L230.0,54.7 L230.5,53.4 L231.0,52.6 L231.5,52.4 L232.0,52.8 L232.5,53.8 L233.0,55.4 L233.5,57.7 L234.0,60.4 L234.5,63.6 L235.0,67.2 L235.5,71.1 L236.0,75.2 L236.5,79.4 L237.0,83.7 L237.5,87.9 L238.0,91.9 L238.5,95.8 L239.0,99.4 L239.5,102.9 L240.0,106.1 L240.5,109.1 L241.0,111.8 L241.5,114.3 L242.0,116.4 L242.5,118.2 L243.0,119.8 L243.5,121.0 L244.0,122.0 L244.5,122.7 L245.0,123.2 L245.5,123.4 L246.0,123.4 L246.5,123.0 L247.0,122.3 L247.5,121.3 L248.0,120.1 L248.5,118.5 L249.0,116.7 L249.5,114.5 L250.0,112.2 L250.5,109.7 L251.0,107.0 L251.5,104.3 L252.0,101.7 L252.5,99.0 L253.0,96.5 L253.5,94.2 L254.0,92.1 L254.5,90.2 L255.0,88.7 L255.5,87.6 L256.0,86.9 L256.5,86.6 L257.0,86.7 L257.5,87.2 L258.0,88.1 L258.5,89.4 L259.0,91.1 L259.5,93.1 L260.0,95.4 L260.5,98.1 L261.0,101.0 L261.5,104.2 L262.0,107.6 L262.5,111.2 L263.0,114.9 L263.5,118.6 L264.0,122.4 L264.5,126.2 L265.0,129.9 L265.5,133.6 L266.0,137.1 L266.5,140.5 L267.0,143.6 L267.5,146.5 L268.0,149.1 L268.5,151.3 L269.0,153.2 L269.5,154.7 L270.0,155.8 L270.5,156.5 L271.0,156.6 L271.5,156.3 L272.0,155.5 L272.5,154.1 L273.0,152.3 L273.5,149.9 L274.0,147.0 L274.5,143.6 L275.0,139.8 L275.5,135.6 L276.0,131.1 L276.5,126.4 L277.0,121.4 L277.5,116.2 L278.0,111.0 L278.5,105.6 L279.0,100.3 L279.5,95.0 L280.0,89.8 L280.5,84.8 L281.0,80.0 L281.5,75.4 L282.0,71.0 L282.5,66.9 L283.0,63.2 L283.5,60.0 L284.0,57.1 L284.5,54.8 L285.0,53.1 L285.5,52.0 L286.0,51.4 L286.5,51.5 L287.0,52.2 L287.5,53.7 L288.0,55.7 L288.5,58.4 L289.0,61.5 L289.5,65.1 L290.0,69.0 L290.6,73.2 L291.1,77.5 L291.6,81.9 L292.1,86.3 L292.6,90.6 L293.1,94.7 L293.6,98.5 L294.1,102.0 L294.6,105.2 L295.1,108.2 L295.6,110.8 L296.1,113.1 L296.6,115.1 L297.1,116.9 L297.6,118.5 L298.1,119.8 L298.6,121.0 L299.1,122.0 L299.6,122.8 L300.1,123.4 L300.6,123.7 L301.1,123.6 L301.6,123.2 L302.1,122.5 L302.6,121.4 L303.1,119.9 L303.6,118.0 L304.1,115.7 L304.6,113.2 L305.1,110.5 L305.6,107.6 L306.1,104.7 L306.6,101.9 L307.1,99.2 L307.6,96.6 L308.1,94.4 L308.6,92.4 L309.1,90.9 L309.6,89.6 L310.1,88.6 L310.6,87.9 L311.1,87.6 L311.6,87.6 L312.1,87.9 L312.6,88.6 L313.1,89.7 L313.6,91.1 L314.1,92.9 L314.6,94.9 L315.1,97.3 L315.6,99.9 L316.1,102.7 L316.6,105.8 L317.1,109.1 L317.6,112.6 L318.1,116.2 L318.6,119.9 L319.1,123.7 L319.6,127.6 L320.1,131.5 L320.6,135.3 L321.1,138.9 L321.6,142.3 L322.1,145.5 L322.6,148.4 L323.1,151.0 L323.6,153.2 L324.1,154.9 L324.6,156.2 L325.1,157.1 L325.6,157.4 L326.1,157.2 L326.6,156.4 L327.1,155.2 L327.6,153.4 L328.1,151.0 L328.6,148.2 L329.1,145.0 L329.6,141.3 L330.1,137.2 L330.6,132.8 L331.1,128.1 L331.6,123.2 L332.1,118.1 L332.6,112.9 L333.1,107.5 L333.6,102.2 L334.1,96.9 L334.6,91.6 L335.1,86.5 L335.6,81.6 L336.1,76.9 L336.6,72.4 L337.1,68.3 L337.6,64.6 L338.1,61.3 L338.6,58.5 L339.1,56.2 L339.6,54.4 L340.1,53.1 L340.6,52.5 L341.1,52.4 L341.6,52.9 L342.1,54.1 L342.6,55.8 L343.1,58.2 L343.6,61.0 L344.1,64.2 L344.6,67.8 L345.1,71.7 L345.6,75.8 L346.1,80.0 L346.6,84.3 L347.1,88.5 L347.6,92.7 L348.1,96.7 L348.6,100.4 L349.1,104.0 L349.6,107.2 L350.1,110.2 L350.6,112.9 L351.1,115.2 L351.6,117.3 L352.1,119.0 L352.6,120.4 L353.1,121.5 L353.6,122.4 L354.1,122.9 L354.6,123.2 L355.1,123.3 L355.6,123.1 L356.1,122.7 L356.6,122.0 L357.1,121.0 L357.6,119.7 L358.1,118.0 L358.6,116.1 L359.1,113.8 L359.6,111.4 L360.1,108.8 L360.6,106.1 L361.1,103.4 L361.6,100.7 L362.1,98.1 L362.6,95.7 L363.1,93.5 L363.6,91.6 L364.1,90.1 L364.6,88.8 L365.1,87.8 L365.6,87.1 L366.1,86.8 L366.6,86.9 L367.1,87.3 L367.6,88.2 L368.1,89.5 L368.6,91.2 L369.1,93.3 L369.6,95.7 L370.1,98.4 L370.6,101.4 L371.1,104.6 L371.6,108.0 L372.1,111.5 L372.6,115.2 L373.1,119.0 L373.6,122.9 L374.1,126.7 L374.6,130.5 L375.1,134.2 L375.6,137.8 L376.1,141.2 L376.6,144.3 L377.1,147.2 L377.6,149.7 L378.1,151.9 L378.6,153.8 L379.1,155.3 L379.6,156.4 L380.1,157.0 L380.6,157.2 L381.1,156.8 L381.6,155.9 L382.1,154.5 L382.6,152.4 L383.1,149.8 L383.6,146.7 L384.1,143.1 L384.6,139.0 L385.1,134.6 L385.6,129.9 L386.1,124.9 L386.6,119.7 L387.1,114.5 L387.6,109.3 L388.1,104.0 L388.6,98.8 L389.1,93.6 L389.6,88.5 L390.1,83.6 L390.6,78.7 L391.1,74.1 L391.6,69.9 L392.1,66.0 L392.6,62.5 L393.1,59.5 L393.6,56.9 L394.1,55.0 L394.6,53.5 L395.1,52.6 L395.6,52.3 L396.1,52.6 L396.6,53.6 L397.1,55.1 L397.6,57.2 L398.1,59.9 L398.6,63.0 L399.1,66.4 L399.6,70.2 L400.1,74.2 L400.6,78.3 L401.1,82.5 L401.6,86.7 L402.1,90.8 L402.6,94.8 L403.1,98.5 L403.6,102.1 L404.1,105.4 L404.6,108.5 L405.1,111.3 L405.6,113.8 L406.1,116.0 L406.6,117.9 L407.1,119.5 L407.6,120.8 L408.1,121.8 L408.6,122.6 L409.1,123.1 L409.6,123.4 L410.1,123.3 L410.6,123.0 L411.1,122.4 L411.6,121.5 L412.1,120.3 L412.6,118.8 L413.1,117.0 L413.6,114.9 L414.1,112.7 L414.6,110.2 L415.1,107.6 L415.6,105.0 L416.1,102.4 L416.6,99.8 L417.1,97.3 L417.6,95.0 L418.1,92.8 L418.6,90.9 L419.1,89.3 L419.6,88.0 L420.1,87.1 L420.6,86.6 L421.1,86.6 L421.6,86.9 L422.1,87.7 L422.6,88.9 L423.1,90.5 L423.6,92.4 L424.1,94.7 L424.6,97.3 L425.1,100.2 L425.6,103.4 L426.1,106.7 L426.6,110.2 L427.1,113.8 L427.6,117.5 L428.1,121.2 L428.6,125.0 L429.1,128.7 L429.6,132.4 L430.1,136.0 L430.6,139.5 L431.1,142.7 L431.6,145.8 L432.1,148.6 L432.6,151.1 L433.1,153.4 L433.6,155.2 L434.1,156.6 L434.6,157.5 L435.1,157.9 L435.6,157.7 L436.1,157.0 L436.6,155.6 L437.1,153.6 L437.6,151.1 L438.1,148.1 L438.6,144.6 L439.1,140.7 L439.6,136.3 L440.1,131.7 L440.6,126.9 L441.1,121.9 L441.6,116.7 L442.1,111.5 L442.6,106.2 L443.1,100.9 L443.6,95.7 L444.1,90.5 L444.7,85.6 L445.2,80.8 L445.7,76.2 L446.2,71.9 L446.7,67.9 L447.2,64.3 L447.7,61.1 L448.2,58.4 L448.7,56.1 L449.2,54.4 L449.7,53.3 L450.2,52.7 L450.7,52.7 L451.2,53.2 L451.7,54.4 L452.2,56.1 L452.7,58.5 L453.2,61.3 L453.7,64.6 L454.2,68.3 L454.7,72.2 L455.2,76.3 L455.7,80.6 L456.2,84.8 L456.7,89.1 L457.2,93.1 L457.7,97.0 L458.2,100.6 L458.7,104.0 L459.2,107.2 L459.7,110.1 L460.2,112.7 L460.7,115.0 L461.2,117.0 L461.7,118.7 L462.2,120.2 L462.7,121.4 L463.2,122.3 L463.7,123.0 L464.2,123.5 L464.7,123.6 L465.2,123.4 L465.7,123.0 L466.2,122.2 L466.7,121.1 L467.2,119.7 L467.7,118.0 L468.2,116.1 L468.7,113.6 L469.2,110.7 L469.7,107.8 L470.2,105.0 L470.7,104.9 L471.2,107.6 L471.7,107.7 L472.2,107.2 L472.7,106.7 L473.2,106.2 L473.7,105.7 L474.2,105.1 L474.7,104.4 L475.2,103.3 L475.7,102.1 L476.2,100.9 L476.7,99.9 L477.2,99.2 L477.7,99.2 L478.2,99.6 L478.7,100.3 L479.2,101.2 L479.7,102.7 L480.2,104.7 L480.7,107.4 L481.2,111.0 L481.7,115.2 L482.2,119.8 L482.7,124.7 L483.2,129.7 L483.7,134.7 L484.2,139.5 L484.7,143.9 L485.2,147.7 L485.7,151.3 L486.2,154.5 L486.7,157.4 L487.2,159.8 L487.7,161.8 L488.2,163.4 L488.7,164.5 L489.2,165.1 L489.7,165.3 L490.2,165.0 L490.7,164.2 L491.2,163.0 L491.7,161.4 L492.2,159.3 L492.7,156.8 L493.2,153.8 L493.7,150.5 L494.2,146.7 L494.7,142.7 L495.2,138.3 L495.7,133.7 L496.2,128.9 L496.7,123.9 L497.2,118.8 L497.7,113.6 L498.2,108.4 L498.7,103.3 L499.2,98.3 L499.7,93.3 L500.2,88.6 L500.7,84.1 L501.2,79.7 L501.7,75.7 L502.2,72.0 L502.7,68.7 L503.2,66.0 L503.7,63.7 L504.2,62.1 L504.7,61.1 L505.2,60.7 L505.7,61.0 L506.2,62.0 L506.7,63.7 L507.2,66.1 L507.7,69.0 L508.2,72.3 L508.7,76.1 L509.2,80.1 L509.7,84.4 L510.2,88.7 L510.7,93.1 L511.2,97.4 L511.7,101.5 L512.2,105.3 L512.7,109.0 L513.2,112.5 L513.7,115.8 L514.2,118.7 L514.7,121.4 L515.2,123.9 L515.7,126.0 L516.2,127.8 L516.7,129.2 L517.2,130.4 L517.7,131.3 L518.2,131.9 L518.7,132.3 L519.2,132.4 L519.7,132.3 L520.2,131.9 L520.7,131.3 L521.2,130.4 L521.7,129.2 L522.2,127.8 L522.7,126.0 L523.2,123.9 L523.7,121.6 L524.2,119.1 L524.7,116.5 L525.2,113.8 L525.7,111.1 L526.2,108.5 L526.7,105.9 L527.2,103.6 L527.7,101.4 L528.2,99.5 L528.7,97.9 L529.2,96.6 L529.7,95.7 L530.2,95.3 L530.7,95.3 L531.2,95.7 L531.7,96.6 L532.2,98.0 L532.7,99.8 L533.2,101.9 L533.7,104.3 L534.2,107.1 L534.7,110.0 L535.2,113.1 L535.7,116.3 L536.2,119.7 L536.7,123.2 L537.2,126.8 L537.7,130.4 L538.2,134.0 L538.7,137.6 L539.2,141.1 L539.7,144.6 L540.2,147.8 L540.7,150.9 L541.2,153.8 L541.7,156.4 L542.2,158.8 L542.7,161.0 L543.2,162.9 L543.7,164.4 L544.2,165.5 L544.7,166.2 L545.2,166.2 L545.7,165.7 L546.2,164.6 L546.7,162.7 L547.2,160.3 L547.7,157.3 L548.2,153.9 L548.7,150.0 L549.2,145.8 L549.7,141.3 L550.2,136.5 L550.7,131.5 L551.2,126.4 L551.7,121.1 L552.2,115.7 L552.7,110.3 L553.2,105.0 L553.7,99.8 L554.2,94.8 L554.7,89.9 L555.2,85.3 L555.7,80.9 L556.2,76.9 L556.7,73.2 L557.2,70.0 L557.7,67.2 L558.2,65.0 L558.7,63.3 L559.2,62.1 L559.7,61.6 L560.2,61.7 L560.7,62.4 L561.2,63.8 L561.7,65.7 L562.2,68.3 L562.7,71.3 L563.2,74.7 L563.7,78.4 L564.2,82.4 L564.7,86.6 L565.2,90.8 L565.7,95.1 L566.2,99.2 L566.7,103.2 L567.2,107.0 L567.7,110.6 L568.2,114.0 L568.7,117.0 L569.2,119.9 L569.7,122.4 L570.2,124.6 L570.7,126.6 L571.2,128.2 L571.7,129.5 L572.2,130.6 L572.7,131.4 L573.2,132.0 L573.7,132.3 L574.2,132.4 L574.7,132.3 L575.2,131.8 L575.7,131.1 L576.2,130.0 L576.7,128.6 L577.2,126.9 L577.7,124.9 L578.2,122.6 L578.7,120.1 L579.2,117.4 L579.7,114.7 L580.2,111.9 L580.7,109.2 L581.2,106.5 L581.7,104.0 L582.2,101.8 L582.7,99.8 L583.2,98.2 L583.7,96.9 L584.2,96.1 L584.7,95.7 L585.2,95.8 L585.7,96.2 L586.2,97.0 L586.7,98.2 L587.2,99.8 L587.7,101.7 L588.2,103.9 L588.7,106.4 L589.2,109.2 L589.7,112.1 L590.2,115.2 L590.7,118.5 L591.2,121.9 L591.7,125.4 L592.2,129.0 L592.7,132.5 L593.2,136.1 L593.7,139.6 L594.2,143.1 L594.7,146.4 L595.2,149.6 L595.7,152.6 L596.2,155.3 L596.7,157.8 L597.2,160.1 L597.7,162.1 L598.2,163.7 L598.8,164.9 L599.3,165.6 L599.8,165.9 L600.3,165.6 L600.8,164.7 L601.3,163.3 L601.8,161.2 L602.3,158.5 L602.8,155.3 L603.3,151.7 L603.8,147.6 L604.3,143.2 L604.8,138.5 L605.3,133.6 L605.8,128.5 L606.3,123.3 L606.8,118.0 L607.3,112.6 L607.8,107.3 L608.3,102.1 L608.8,97.0 L609.3,92.1 L609.8,87.4 L610.3,82.9 L610.8,78.7 L611.3,74.9 L611.8,71.4 L612.3,68.4 L612.8,65.9 L613.3,64.0 L613.8,62.5 L614.3,61.7 L614.8,61.4 L615.3,61.7 L615.8,62.7 L616.3,64.2 L616.8,66.5 L617.3,69.3 L617.8,72.6 L618.3,76.3 L618.8,80.3 L619.3,84.6 L619.8,88.9 L620.3,93.3 L620.8,97.6 L621.3,101.7 L621.8,105.6 L622.3,109.3 L622.8,112.6 L623.3,115.8 L623.8,118.6 L624.3,121.1 L624.8,123.4 L625.3,125.4 L625.8,127.0 L626.3,128.5 L626.8,129.6 L627.3,130.5 L627.8,131.2 L628.3,131.7 L628.8,132.0 L629.3,132.1 L629.8,131.9 L630.3,131.5 L630.8,130.7 L631.3,129.7 L631.8,128.4 L632.3,126.7 L632.8,124.8 L633.3,122.5 L633.8,120.0 L634.3,117.3 L634.8,114.6 L635.3,111.8 L635.8,109.0 L636.3,106.3 L636.8,103.8 L637.3,101.5 L637.8,99.4 L638.3,97.7 L638.8,96.3 L639.3,95.4 L639.8,94.9 L640.3,95.0 L640.8,95.5 L641.3,96.6 L641.8,98.1 L642.3,100.0 L642.8,102.3 L643.3,104.9 L643.8,107.7 L644.3,110.7 L644.8,113.8 L645.3,117.1 L645.8,120.5 L646.3,123.9 L646.8,127.5 L647.3,131.1 L647.8,134.7 L648.3,138.3 L648.8,141.8 L649.3,145.3 L649.8,148.6 L650.3,151.8 L650.8,154.8 L651.3,157.5 L651.8,159.9 L652.3,162.0 L652.8,163.6 L653.3,164.8 L653.8,165.6 L654.3,165.8 L654.8,165.5 L655.3,164.6 L655.8,163.2 L656.3,161.3 L656.8,158.8 L657.3,155.7 L657.8,152.2 L658.3,148.3 L658.8,144.1 L659.3,139.5 L659.8,134.8 L660.3,129.9 L660.8,124.8 L661.3,119.7 L661.8,114.5 L662.3,109.3 L662.8,104.2 L663.3,99.2 L663.8,94.3 L664.3,89.6 L664.8,85.2 L665.3,80.9 L665.8,76.9 L666.3,73.3 L666.8,70.0 L667.3,67.2 L667.8,64.9 L668.3,63.2 L668.8,62.0 L669.3,61.4 L669.8,61.4 L670.3,62.0 L670.8,63.3 L671.3,65.3 L671.8,67.8 L672.3,70.9 L672.8,74.4 L673.3,78.2 L673.8,82.4 L674.3,86.7 L674.8,91.1 L675.3,95.5" stroke="#ff0000" stroke-width="1.80" fill="none" stroke-linejoin="round" clip-path="url(#c0)"/>
<path d="M59.40 173.20v-6.2M59.40 6.60v6.2M127.83 173.20v-6.2M127.83 6.60v6.2M196.27 173.20v-6.2M196.27 6.60v6.2M264.70 173.20v-6.2M264.70 6.60v6.2M333.13 173.20v-6.2M333.13 6.60v6.2M401.57 173.20v-6.2M401.57 6.60v6.2M470.00 173.20v-6.2M470.00 6.60v6.2M538.43 173.20v-6.2M538.43 6.60v6.2M606.87 173.20v-6.2M606.87 6.60v6.2M675.30 173.20v-6.2M675.30 6.60v6.2M59.40 173.20h6.2M675.30 173.20h-6.2M59.40 139.88h6.2M675.30 139.88h-6.2M59.40 106.56h6.2M675.30 106.56h-6.2M59.40 73.24h6.2M675.30 73.24h-6.2M59.40 39.92h6.2M675.30 39.92h-6.2M59.40 6.60h6.2M675.30 6.60h-6.2" stroke="#262626" stroke-width="1" fill="none"/>
<rect x="59.40" y="6.60" width="615.90" height="166.60" stroke="#262626" stroke-width="1.2" fill="none"/>
<text x="59.40" y="194.60" font-size="16.0" text-anchor="middle" fill="#262626">0</text>
<text x="127.83" y="194.60" font-size="16.0" text-anchor="middle" fill="#262626">5</text>
<text x="196.27" y="194.60" font-size="16.0" text-anchor="middle" fill="#262626">10</text>
<text x="264.70" y="194.60" font-size="16.0" text-anchor="middle" fill="#262626">15</text>
<text x="333.13" y="194.60" font-size="16.0" text-anchor="middle" fill="#262626">20</text>
<text x="401.57" y="194.60" font-size="16.0" text-anchor="middle" fill="#262626">25</text>
<text x="470.00" y="194.60" font-size="16.0" text-anchor="middle" fill="#262626">30</text>
<text x="538.43" y="194.60" font-size="16.0" text-anchor="middle" fill="#262626">35</text>
<text x="606.87" y="194.60" font-size="16.0" text-anchor="middle" fill="#262626">40</text>
<text x="675.30" y="194.60" font-size="16.0" text-anchor="middle" fill="#262626">45</text>
<text x="54.80" y="179.95" font-size="16.0" text-anchor="end" fill="#262626">-40</text>
<text x="54.80" y="146.63" font-size="16.0" text-anchor="end" fill="#262626">-20</text>
<text x="54.80" y="113.31" font-size="16.0" text-anchor="end" fill="#262626">0</text>
<text x="54.80" y="79.99" font-size="16.0" text-anchor="end" fill="#262626">20</text>
<text x="54.80" y="46.67" font-size="16.0" text-anchor="end" fill="#262626">40</text>
<text x="54.80" y="13.35" font-size="16.0" text-anchor="end" fill="#262626">60</text>
<defs><clipPath id="c1"><rect x="59.40" y="238.60" width="615.90" height="166.60"/></clipPath></defs>
<path d="M127.83 238.60V405.20M196.27 238.60V405.20M264.70 238.60V405.20M333.13 238.60V405.20M401.57 238.60V405.20M470.00 238.60V405.20M538.43 238.60V405.20M606.87 238.60V405.20M59.40 363.55H675.30M59.40 321.90H675.30M59.40 280.25H675.30" stroke="#e0e0e0" stroke-width="1" fill="none"/>
<path d="M59.4,320.2 L59.9,306.1 L60.4,292.7 L60.9,280.3 L61.4,269.3 L61.9,259.7 L62.4,252.0 L62.9,246.4 L63.4,243.1 L63.9,242.4 L64.4,244.3 L64.9,248.5 L65.4,254.6 L65.9,262.3 L66.4,271.4 L66.9,281.6 L67.4,292.4 L67.9,303.7 L68.4,315.1 L68.9,326.3 L69.4,337.0 L69.9,346.9 L70.4,355.7 L70.9,363.1 L71.4,368.7 L71.9,372.3 L72.4,373.5 L72.9,372.9 L73.4,371.1 L73.9,368.3 L74.4,364.5 L74.9,360.1 L75.4,355.0 L75.9,349.4 L76.4,343.5 L76.9,337.4 L77.4,331.3 L77.9,325.2 L78.4,319.4 L78.9,313.9 L79.4,308.9 L79.9,304.5 L80.4,300.9 L80.9,298.2 L81.4,296.5 L81.9,296.1 L82.4,296.5 L82.9,297.4 L83.4,298.9 L83.9,300.8 L84.4,303.1 L84.9,305.6 L85.4,308.4 L85.9,311.4 L86.4,314.5 L86.9,317.6 L87.4,320.7 L87.9,323.7 L88.4,326.5 L88.9,329.1 L89.4,331.4 L89.9,333.4 L90.4,334.9 L90.9,336.0 L91.4,336.5 L91.9,336.3 L92.4,335.4 L92.9,334.0 L93.4,332.1 L93.9,329.8 L94.4,327.3 L94.9,324.7 L95.4,322.0 L95.9,319.4 L96.4,317.0 L96.9,314.9 L97.4,313.2 L97.9,312.0 L98.4,311.5 L98.9,311.6 L99.4,312.1 L99.9,312.9 L100.4,313.9 L100.9,315.1 L101.4,316.3 L101.9,317.6 L102.4,318.8 L102.9,319.9 L103.4,320.7 L103.9,321.3 L104.4,321.5 L104.9,321.4 L105.4,321.3 L105.9,321.2 L106.4,321.1 L106.9,321.1 L107.4,321.2 L107.9,321.7 L108.4,322.5 L108.9,323.2 L109.4,323.9 L109.9,324.3 L110.4,324.4 L110.9,324.0 L111.4,323.4 L111.9,322.6 L112.4,321.6 L112.9,320.5 L113.4,319.4 L113.9,318.2 L114.4,317.1 L114.9,316.1 L115.4,315.3 L115.9,314.6 L116.4,314.3 L116.9,314.2 L117.4,314.9 L117.9,316.1 L118.4,317.8 L118.9,319.9 L119.4,322.3 L119.9,324.8 L120.4,327.4 L120.9,330.0 L121.4,332.4 L121.9,334.6 L122.4,336.4 L122.9,337.7 L123.4,338.4 L123.9,338.5 L124.4,338.0 L124.9,337.1 L125.4,335.8 L125.9,334.1 L126.4,332.2 L126.9,330.1 L127.4,327.8 L127.9,325.5 L128.4,323.1 L128.9,320.8 L129.4,318.6 L129.9,316.5 L130.4,314.7 L130.9,313.2 L131.4,312.0 L131.9,311.2 L132.4,310.9 L132.9,311.0 L133.4,311.4 L133.9,312.1 L134.4,313.0 L134.9,314.0 L135.4,315.2 L135.9,316.6 L136.5,318.0 L137.0,319.5 L137.5,321.1 L138.0,322.6 L138.5,324.2 L139.0,325.6 L139.5,327.0 L140.0,328.3 L140.5,329.4 L141.0,330.4 L141.5,331.1 L142.0,331.6 L142.5,331.9 L143.0,331.8 L143.5,331.5 L144.0,330.9 L144.5,330.1 L145.0,329.0 L145.5,327.9 L146.0,326.6 L146.5,325.2 L147.0,323.7 L147.5,322.2 L148.0,320.6 L148.5,319.1 L149.0,317.7 L149.5,316.4 L150.0,315.1 L150.5,314.1 L151.0,313.2 L151.5,312.5 L152.0,312.1 L152.5,311.9 L153.0,312.1 L153.5,312.5 L154.0,313.2 L154.5,314.0 L155.0,315.0 L155.5,316.1 L156.0,317.2 L156.5,318.3 L157.0,319.4 L157.5,320.3 L158.0,321.2 L158.5,321.8 L159.0,322.1 L159.5,322.2 L160.0,322.1 L160.5,322.1 L161.0,322.0 L161.5,321.9 L162.0,321.9 L162.5,322.0 L163.0,322.3 L163.5,322.6 L164.0,323.0 L164.5,323.5 L165.0,323.9 L165.5,324.2 L166.0,324.4 L166.5,324.4 L167.0,324.1 L167.5,323.6 L168.0,322.8 L168.5,321.9 L169.0,320.9 L169.5,319.9 L170.0,319.0 L170.5,318.1 L171.0,317.4 L171.5,316.9 L172.0,316.7 L172.5,316.9 L173.0,317.7 L173.5,319.0 L174.0,320.7 L174.5,322.6 L175.0,324.6 L175.5,326.7 L176.0,328.8 L176.5,330.7 L177.0,332.3 L177.5,333.5 L178.0,334.2 L178.5,334.4 L179.0,334.1 L179.5,333.4 L180.0,332.4 L180.5,331.1 L181.0,329.6 L181.5,328.0 L182.0,326.2 L182.5,324.4 L183.0,322.6 L183.5,320.7 L184.0,319.0 L184.5,317.4 L185.0,316.0 L185.5,314.8 L186.0,313.9 L186.5,313.3 L187.0,313.2 L187.5,313.3 L188.0,313.6 L188.5,314.1 L189.0,314.8 L189.5,315.6 L190.0,316.5 L190.5,317.6 L191.0,318.7 L191.5,319.9 L192.0,321.1 L192.5,322.3 L193.0,323.6 L193.5,324.8 L194.0,326.0 L194.5,327.1 L195.0,328.1 L195.5,329.0 L196.0,329.8 L196.5,330.4 L197.0,330.9 L197.5,331.2 L198.0,331.3 L198.5,331.0 L199.0,330.5 L199.5,329.7 L200.0,328.7 L200.5,327.4 L201.0,326.0 L201.5,324.5 L202.0,323.0 L202.5,321.4 L203.0,319.8 L203.5,318.2 L204.0,316.7 L204.5,315.4 L205.0,314.2 L205.5,313.2 L206.0,312.5 L206.5,312.0 L207.0,311.9 L207.5,312.1 L208.0,312.5 L208.5,313.1 L209.0,313.9 L209.5,314.8 L210.0,315.8 L210.5,316.8 L211.0,317.8 L211.5,318.8 L212.0,319.7 L212.5,320.5 L213.0,321.0 L213.5,321.4 L214.0,321.5 L214.5,321.5 L215.0,321.5 L215.5,321.5 L216.0,321.5 L216.5,321.6 L217.0,321.9 L217.5,322.4 L218.0,323.0 L218.5,323.6 L219.0,324.0 L219.5,324.3 L220.0,324.4 L220.5,324.2 L221.0,323.7 L221.5,323.1 L222.0,322.4 L222.5,321.6 L223.0,320.7 L223.5,319.8 L224.0,319.0 L224.5,318.2 L225.0,317.6 L225.5,317.1 L226.0,316.8 L226.5,316.7 L227.0,317.2 L227.5,318.2 L228.0,319.7 L228.5,321.4 L229.0,323.5 L229.5,325.6 L230.0,327.8 L230.5,329.9 L231.0,331.8 L231.5,333.5 L232.0,334.8 L232.5,335.6 L233.0,335.8 L233.5,335.6 L234.0,335.1 L234.5,334.3 L235.0,333.2 L235.5,331.9 L236.0,330.4 L236.5,328.8 L237.0,327.1 L237.5,325.4 L238.0,323.6 L238.5,321.8 L239.0,320.1 L239.5,318.4 L240.0,316.9 L240.5,315.5 L241.0,314.4 L241.5,313.4 L242.0,312.7 L242.5,312.4 L243.0,312.3 L243.5,312.6 L244.0,313.2 L244.5,313.9 L245.0,314.9 L245.5,316.0 L246.0,317.3 L246.5,318.7 L247.0,320.1 L247.5,321.6 L248.0,323.1 L248.5,324.6 L249.0,326.0 L249.5,327.4 L250.0,328.6 L250.5,329.7 L251.0,330.7 L251.5,331.4 L252.0,331.9 L252.5,332.1 L253.0,332.0 L253.5,331.7 L254.0,331.2 L254.5,330.4 L255.0,329.5 L255.5,328.5 L256.0,327.3 L256.5,326.0 L257.0,324.7 L257.5,323.4 L258.0,322.0 L258.5,320.6 L259.0,319.3 L259.5,318.1 L260.0,316.9 L260.5,315.9 L261.0,315.0 L261.5,314.4 L262.0,313.9 L262.5,313.6 L263.0,313.6 L263.5,313.8 L264.0,314.2 L264.5,314.8 L265.0,315.4 L265.5,316.2 L266.0,316.9 L266.5,317.7 L267.0,318.5 L267.5,319.2 L268.0,319.8 L268.5,320.3 L269.0,320.6 L269.5,320.7 L270.0,320.7 L270.5,320.7 L271.0,320.7 L271.5,321.1 L272.0,321.9 L272.5,322.8 L273.0,323.7 L273.5,324.3 L274.0,324.4 L274.5,324.2 L275.0,323.9 L275.5,323.4 L276.0,322.9 L276.5,322.2 L277.0,321.5 L277.5,320.8 L278.0,320.1 L278.5,319.4 L279.0,318.7 L279.5,318.2 L280.0,317.7 L280.5,317.4 L281.0,317.3 L281.5,317.5 L282.0,318.3 L282.5,319.5 L283.0,321.0 L283.5,322.8 L284.0,324.8 L284.5,326.9 L285.0,329.0 L285.5,331.0 L286.0,332.8 L286.5,334.3 L287.0,335.5 L287.5,336.3 L288.0,336.5 L288.5,336.2 L289.0,335.5 L289.5,334.5 L290.0,333.2 L290.6,331.6 L291.1,329.9 L291.6,328.0 L292.1,326.0 L292.6,324.0 L293.1,321.9 L293.6,320.0 L294.1,318.1 L294.6,316.3 L295.1,314.8 L295.6,313.5 L296.1,312.5 L296.6,311.8 L297.1,311.5 L297.6,311.6 L298.1,312.0 L298.6,312.6 L299.1,313.4 L299.6,314.4 L300.1,315.5 L300.6,316.8 L301.1,318.2 L301.6,319.7 L302.1,321.2 L302.6,322.7 L303.1,324.2 L303.6,325.6 L304.1,327.0 L304.6,328.2 L305.1,329.4 L305.6,330.3 L306.1,331.1 L306.6,331.7 L307.1,332.0 L307.6,332.1 L308.1,331.9 L308.6,331.4 L309.1,330.6 L309.6,329.7 L310.1,328.6 L310.6,327.4 L311.1,326.1 L311.6,324.7 L312.1,323.2 L312.6,321.7 L313.1,320.3 L313.6,318.9 L314.1,317.5 L314.6,316.3 L315.1,315.2 L315.6,314.3 L316.1,313.5 L316.6,313.0 L317.1,312.8 L317.6,312.8 L318.1,313.0 L318.6,313.3 L319.1,313.7 L319.6,314.3 L320.1,314.9 L320.6,315.5 L321.1,316.2 L321.6,316.9 L322.1,317.6 L322.6,318.2 L323.1,318.8 L323.6,319.2 L324.1,319.6 L324.6,319.8 L325.1,319.9 L325.6,319.9 L326.1,320.0 L326.6,320.3 L327.1,320.8 L327.6,321.4 L328.1,322.1 L328.6,322.8 L329.1,323.4 L329.6,323.8 L330.1,324.0 L330.6,323.9 L331.1,323.7 L331.6,323.3 L332.1,322.8 L332.6,322.3 L333.1,321.7 L333.6,321.2 L334.1,320.7 L334.6,320.3 L335.1,320.0 L335.6,319.8 L336.1,319.9 L336.6,320.5 L337.1,321.5 L337.6,322.8 L338.1,324.3 L338.6,326.0 L339.1,327.7 L339.6,329.5 L340.1,331.2 L340.6,332.7 L341.1,334.0 L341.6,334.9 L342.1,335.5 L342.6,335.6 L343.1,335.2 L343.6,334.3 L344.1,333.0 L344.6,331.4 L345.1,329.5 L345.6,327.4 L346.1,325.2 L346.6,323.0 L347.1,320.7 L347.6,318.6 L348.1,316.6 L348.6,314.8 L349.1,313.3 L349.6,312.2 L350.1,311.5 L350.6,311.3 L351.1,311.4 L351.6,311.6 L352.1,312.0 L352.6,312.4 L353.1,313.0 L353.6,313.6 L354.1,314.3 L354.6,315.0 L355.1,315.8 L355.6,316.5 L356.1,317.4 L356.6,318.6 L357.1,320.1 L357.6,321.8 L358.1,323.6 L358.6,325.4 L359.1,327.1 L359.6,328.6 L360.1,329.8 L360.6,330.7 L361.1,331.1 L361.6,308.3 L362.1,300.4 L362.6,295.7 L363.1,292.4 L363.6,289.2 L364.1,286.1 L364.6,283.3 L365.1,280.8 L365.6,279.0 L366.1,277.9 L366.6,277.8 L367.1,278.3 L367.6,279.2 L368.1,280.6 L368.6,282.4 L369.1,284.6 L369.6,287.0 L370.1,289.7 L370.6,292.5 L371.1,295.6 L371.6,298.7 L372.1,301.9 L372.6,305.2 L373.1,308.3 L373.6,311.5 L374.1,314.5 L374.6,317.3 L375.1,319.9 L375.6,322.2 L376.1,324.3 L376.6,325.9 L377.1,327.2 L377.6,328.0 L378.1,328.4 L378.6,328.3 L379.1,327.9 L379.6,327.4 L380.1,326.7 L380.6,325.9 L381.1,325.0 L381.6,324.0 L382.1,322.9 L382.6,321.8 L383.1,320.8 L383.6,319.7 L384.1,318.8 L384.6,317.9 L385.1,316.9 L385.6,315.8 L386.1,314.7 L386.6,313.5 L387.1,312.3 L387.6,311.2 L388.1,310.2 L388.6,309.3 L389.1,308.6 L389.6,308.2 L390.1,308.0 L390.6,308.2 L391.1,309.2 L391.6,310.9 L392.1,313.1 L392.6,315.7 L393.1,318.7 L393.6,322.0 L394.1,325.3 L394.6,328.7 L395.1,332.0 L395.6,335.1 L396.1,337.9 L396.6,340.4 L397.1,342.3 L397.6,343.7 L398.1,344.3 L398.6,344.3 L399.1,343.7 L399.6,342.7 L400.1,341.4 L400.6,339.7 L401.1,337.8 L401.6,335.6 L402.1,333.2 L402.6,330.8 L403.1,328.2 L403.6,325.6 L404.1,323.0 L404.6,320.5 L405.1,318.2 L405.6,316.0 L406.1,314.0 L406.6,312.2 L407.1,310.8 L407.6,309.8 L408.1,309.2 L408.6,309.0 L409.1,309.2 L409.6,309.8 L410.1,310.6 L410.6,311.7 L411.1,312.9 L411.6,314.4 L412.1,315.9 L412.6,317.6 L413.1,319.3 L413.6,321.0 L414.1,322.7 L414.6,324.4 L415.1,325.9 L415.6,327.3 L416.1,328.6 L416.6,329.6 L417.1,330.4 L417.6,330.9 L418.1,331.1 L418.6,330.9 L419.1,330.4 L419.6,329.6 L420.1,328.5 L420.6,327.3 L421.1,325.9 L421.6,324.5 L422.1,322.9 L422.6,321.4 L423.1,319.9 L423.6,318.5 L424.1,317.2 L424.6,316.1 L425.1,315.2 L425.6,314.5 L426.1,314.2 L426.6,314.3 L427.1,314.6 L427.6,315.3 L428.1,316.1 L428.6,317.1 L429.1,318.3 L429.6,319.5 L430.1,320.7 L430.6,321.8 L431.1,322.9 L431.6,323.8 L432.1,324.5 L432.6,324.9 L433.1,325.0 L433.6,324.8 L434.1,324.3 L434.6,323.6 L435.1,322.8 L435.6,322.0 L436.1,321.3 L436.6,320.7 L437.1,320.2 L437.6,320.0 L438.1,319.8 L438.6,319.7 L439.1,319.4 L439.6,319.0 L440.1,318.4 L440.6,317.5 L441.1,316.5 L441.6,315.4 L442.1,314.3 L442.6,313.3 L443.1,312.3 L443.6,311.5 L444.1,311.0 L444.7,310.7 L445.2,310.8 L445.7,311.7 L446.2,313.2 L446.7,315.3 L447.2,317.8 L447.7,320.6 L448.2,323.7 L448.7,326.8 L449.2,330.0 L449.7,333.0 L450.2,335.8 L450.7,338.3 L451.2,340.4 L451.7,341.9 L452.2,342.8 L452.7,342.9 L453.2,342.5 L453.7,341.6 L454.2,340.2 L454.7,338.5 L455.2,336.6 L455.7,334.3 L456.2,331.9 L456.7,329.3 L457.2,326.7 L457.7,324.0 L458.2,321.3 L458.7,318.8 L459.2,316.3 L459.7,314.1 L460.2,312.1 L460.7,310.4 L461.2,309.1 L461.7,308.2 L462.2,307.8 L462.7,307.8 L463.2,308.1 L463.7,308.7 L464.2,309.5 L464.7,310.6 L465.2,311.7 L465.7,313.1 L466.2,314.5 L466.7,316.1 L467.2,317.7 L467.7,319.3 L468.2,320.9 L468.7,322.5 L469.2,324.0 L469.7,325.5 L470.2,326.8 L470.7,328.0 L471.2,329.0 L471.7,329.8 L472.2,330.4 L472.7,330.8 L473.2,330.8 L473.7,330.5 L474.2,329.9 L474.7,329.0 L475.2,327.8 L475.7,326.4 L476.2,325.0 L476.7,323.4 L477.2,321.8 L477.7,320.2 L478.2,318.7 L478.7,317.4 L479.2,316.1 L479.7,315.2 L480.2,314.4 L480.7,314.0 L481.2,314.0 L481.7,314.4 L482.2,315.0 L482.7,315.9 L483.2,317.0 L483.7,318.3 L484.2,319.6 L484.7,320.9 L485.2,322.3 L485.7,323.5 L486.2,324.5 L486.7,325.4 L487.2,326.0 L487.7,326.3 L488.2,326.2 L488.7,325.8 L489.2,325.1 L489.7,324.2 L490.2,323.2 L490.7,322.1 L491.2,321.0 L491.7,320.0 L492.2,319.1 L492.7,318.3 L493.2,317.8 L493.7,317.4 L494.2,317.1 L494.7,316.6 L495.2,316.0 L495.7,315.3 L496.2,314.4 L496.7,313.4 L497.2,312.5 L497.7,311.7 L498.2,311.1 L498.7,310.7 L499.2,310.7 L499.7,311.2 L500.2,312.3 L500.7,313.9 L501.2,315.9 L501.7,318.2 L502.2,320.8 L502.7,323.6 L503.2,326.5 L503.7,329.4 L504.2,332.3 L504.7,335.1 L505.2,337.6 L505.7,339.9 L506.2,341.9 L506.7,343.4 L507.2,344.4 L507.7,344.8 L508.2,344.6 L508.7,343.8 L509.2,342.5 L509.7,340.7 L510.2,338.5 L510.7,336.0 L511.2,333.3 L511.7,330.3 L512.2,327.3 L512.7,324.2 L513.2,321.2 L513.7,318.2 L514.2,315.4 L514.7,312.9 L515.2,310.6 L515.7,308.8 L516.2,307.3 L516.7,306.4 L517.2,306.1 L517.7,306.3 L518.2,306.9 L518.7,307.8 L519.2,309.1 L519.7,310.6 L520.2,312.4 L520.7,314.3 L521.2,316.4 L521.7,318.5 L522.2,320.6 L522.7,322.8 L523.2,324.8 L523.7,326.8 L524.2,328.6 L524.7,330.2 L525.2,331.5 L525.7,332.6 L526.2,333.3 L526.7,333.6 L527.2,333.4 L527.7,332.9 L528.2,332.1 L528.7,331.0 L529.2,329.6 L529.7,328.1 L530.2,326.4 L530.7,324.6 L531.2,322.8 L531.7,321.0 L532.2,319.3 L532.7,317.6 L533.2,316.2 L533.7,314.9 L534.2,313.9 L534.7,313.1 L535.2,312.8 L535.7,312.8 L536.2,313.2 L536.7,314.0 L537.2,315.0 L537.7,316.2 L538.2,317.6 L538.7,319.0 L539.2,320.5 L539.7,322.0 L540.2,323.3 L540.7,324.6 L541.2,325.6 L541.7,326.4 L542.2,326.8 L542.7,326.9 L543.2,326.6 L543.7,326.0 L544.2,325.3 L544.7,324.4 L545.2,323.3 L545.7,322.3 L546.2,321.3 L546.7,320.4 L547.2,319.6 L547.7,319.0 L548.2,318.6 L548.7,318.3 L549.2,318.1 L549.7,317.7 L550.2,317.1 L550.7,316.3 L551.2,315.4 L551.7,314.4 L552.2,313.5 L552.7,312.6 L553.2,311.8 L553.7,311.3 L554.2,311.1 L554.7,311.3 L555.2,312.3 L555.7,313.8 L556.2,315.8 L556.7,318.2 L557.2,320.9 L557.7,323.8 L558.2,326.9 L558.7,329.9 L559.2,332.9 L559.7,335.6 L560.2,338.1 L560.7,340.2 L561.2,341.9 L561.7,342.9 L562.2,343.3 L562.7,343.0 L563.2,342.1 L563.7,340.6 L564.2,338.7 L564.7,336.4 L565.2,333.7 L565.7,330.8 L566.2,327.8 L566.7,324.7 L567.2,321.6 L567.7,318.6 L568.2,315.8 L568.7,313.2 L569.2,310.9 L569.7,309.0 L570.2,307.6 L570.7,306.7 L571.2,306.5 L571.7,306.7 L572.2,307.2 L572.7,308.0 L573.2,309.0 L573.7,310.2 L574.2,311.6 L574.7,313.1 L575.2,314.7 L575.7,316.5 L576.2,318.3 L576.7,320.1 L577.2,322.0 L577.7,323.8 L578.2,325.5 L578.7,327.2 L579.2,328.8 L579.7,330.2 L580.2,331.5 L580.7,332.6 L581.2,333.4 L581.7,334.0 L582.2,334.4 L582.7,334.3 L583.2,333.8 L583.7,332.9 L584.2,331.6 L584.7,329.9 L585.2,328.1 L585.7,326.1 L586.2,324.0 L586.7,321.9 L587.2,319.8 L587.7,317.9 L588.2,316.2 L588.7,314.7 L589.2,313.6 L589.7,312.9 L590.2,312.7 L590.7,313.0 L591.2,313.5 L591.7,314.3 L592.2,315.3 L592.7,316.4 L593.2,317.7 L593.7,319.0 L594.2,320.3 L594.7,321.5 L595.2,322.7 L595.7,323.7 L596.2,324.5 L596.7,325.1 L597.2,325.4 L597.7,325.4 L598.2,324.9 L598.8,324.2 L599.3,323.3 L599.8,322.3 L600.3,321.3 L600.8,320.4 L601.3,319.7 L601.8,319.3 L602.3,319.0 L602.8,318.7 L603.3,318.4 L603.8,318.0 L604.3,317.5 L604.8,316.9 L605.3,316.1 L605.8,315.3 L606.3,314.4 L606.8,313.6 L607.3,312.8 L607.8,312.1 L608.3,311.6 L608.8,311.3 L609.3,311.3 L609.8,312.0 L610.3,313.4 L610.8,315.3 L611.3,317.7 L611.8,320.4 L612.3,323.4 L612.8,326.6 L613.3,329.8 L613.8,332.9 L614.3,335.8 L614.8,338.5 L615.3,340.8 L615.8,342.6 L616.3,343.8 L616.8,344.4 L617.3,344.2 L617.8,343.6 L618.3,342.5 L618.8,341.1 L619.3,339.3 L619.8,337.2 L620.3,335.0 L620.8,332.5 L621.3,329.9 L621.8,327.3 L622.3,324.7 L622.8,322.0 L623.3,319.5 L623.8,317.1 L624.3,314.9 L624.8,313.0 L625.3,311.3 L625.8,310.0 L626.3,309.1 L626.8,308.6 L627.3,308.6 L627.8,309.0 L628.3,309.6 L628.8,310.4 L629.3,311.5 L629.8,312.8 L630.3,314.2 L630.8,315.8 L631.3,317.5 L631.8,319.3 L632.3,321.1 L632.8,322.9 L633.3,324.7 L633.8,326.4 L634.3,328.1 L634.8,329.7 L635.3,331.2 L635.8,332.5 L636.3,333.5 L636.8,334.4 L637.3,335.0 L637.8,335.4 L638.3,335.4 L638.8,334.8 L639.3,333.6 L639.8,332.0 L640.3,330.0 L640.8,327.8 L641.3,325.4 L641.8,322.9 L642.3,320.5 L642.8,318.2 L643.3,316.2 L643.8,314.5 L644.3,313.3 L644.8,312.6 L645.3,312.6 L645.8,312.8 L646.3,313.3 L646.8,313.9 L647.3,314.7 L647.8,315.6 L648.3,316.6 L648.8,317.7 L649.3,318.7 L649.8,319.7 L650.3,320.6 L650.8,321.4 L651.3,322.1 L651.8,322.6 L652.3,322.9 L652.8,322.9 L653.3,322.9 L653.8,322.7 L654.3,322.6 L654.8,322.4 L655.3,322.2 L655.8,322.0 L656.3,321.9 L656.8,321.8 L657.3,321.7 L657.8,321.6 L658.3,321.4 L658.8,321.0 L659.3,320.2 L659.8,319.2 L660.3,318.0 L660.8,316.8 L661.3,315.5 L661.8,314.3 L662.3,313.3 L662.8,312.6 L663.3,312.2 L663.8,312.2 L664.3,312.8 L664.8,313.8 L665.3,315.3 L665.8,317.2 L666.3,319.3 L666.8,321.6 L667.3,324.1 L667.8,326.6 L668.3,329.1 L668.8,331.6 L669.3,333.8 L669.8,335.9 L670.3,337.6 L670.8,338.9 L671.3,339.8 L671.8,340.2 L672.3,339.9 L672.8,339.0 L673.3,337.4 L673.8,335.5 L674.3,333.5 L674.8,331.4 L675.3,329.4" stroke="#0000ff" stroke-width="1.80" fill="none" stroke-linejoin="round" clip-path="url(#c1)"/>
<path d="M59.4,320.7 L59.9,306.4 L60.4,293.2 L60.9,281.4 L61.4,271.2 L61.9,262.9 L62.4,256.9 L62.9,253.3 L63.4,252.4 L63.9,254.6 L64.4,259.6 L64.9,266.9 L65.4,275.9 L65.9,286.2 L66.4,297.3 L66.9,308.7 L67.4,319.9 L67.9,330.3 L68.4,339.6 L68.9,347.1 L69.4,352.4 L69.9,355.0 L70.4,354.8 L70.9,352.5 L71.4,348.8 L71.9,343.8 L72.4,337.9 L72.9,331.6 L73.4,325.0 L73.9,318.7 L74.4,312.8 L74.9,307.9 L75.4,304.1 L75.9,301.9 L76.4,301.6 L76.9,302.7 L77.4,304.9 L77.9,307.9 L78.4,311.4 L78.9,315.2 L79.4,318.9 L79.9,322.3 L80.4,325.1 L80.9,327.0 L81.4,327.7 L81.9,327.5 L82.4,327.0 L82.9,326.3 L83.4,325.4 L83.9,324.4 L84.4,323.5 L84.9,322.7 L85.4,322.1 L85.9,321.9 L86.4,322.0 L86.9,322.3 L87.4,322.9 L87.9,323.5 L88.4,324.3 L88.9,325.2 L89.4,326.2 L89.9,327.2 L90.4,328.1 L90.9,329.1 L91.4,329.9 L91.9,330.6 L92.4,331.2 L92.9,331.7 L93.4,331.9 L93.9,331.9 L94.4,331.7 L94.9,331.4 L95.4,331.0 L95.9,330.5 L96.4,330.0 L96.9,329.5 L97.4,329.1 L97.9,328.7 L98.4,328.5 L98.9,328.4 L99.4,328.4 L99.9,328.6 L100.4,328.8 L100.9,329.1 L101.4,329.4 L101.9,329.7 L102.4,330.1 L102.9,330.4 L103.4,330.7 L103.9,330.9 L104.4,331.0 L104.9,331.1 L105.4,330.9 L105.9,330.6 L106.4,330.2 L106.9,329.7 L107.4,329.1 L107.9,328.4 L108.4,327.6 L108.9,326.9 L109.4,326.2 L109.9,325.6 L110.4,325.0 L110.9,324.5 L111.4,323.9 L111.9,323.3 L112.4,322.6 L112.9,322.0 L113.4,321.4 L113.9,320.8 L114.4,320.2 L114.9,319.7 L115.4,319.3 L115.9,318.9 L116.4,318.7 L116.9,318.6 L117.4,318.6 L117.9,318.8 L118.4,319.3 L118.9,319.8 L119.4,320.4 L119.9,321.1 L120.4,321.8 L120.9,322.4 L121.4,323.0 L121.9,323.3 L122.4,323.5 L122.9,323.5 L123.4,323.0 L123.9,322.2 L124.4,321.1 L124.9,319.9 L125.4,318.5 L125.9,317.1 L126.4,315.7 L126.9,314.4 L127.4,313.3 L127.9,312.5 L128.4,312.0 L128.9,311.9 L129.4,312.2 L129.9,312.7 L130.4,313.5 L130.9,314.4 L131.4,315.4 L131.9,316.4 L132.4,317.5 L132.9,318.5 L133.4,319.3 L133.9,320.0 L134.4,320.5 L134.9,320.7 L135.4,320.5 L135.9,320.3 L136.5,319.9 L137.0,319.4 L137.5,319.0 L138.0,318.6 L138.5,318.3 L139.0,318.2 L139.5,318.3 L140.0,318.7 L140.5,319.4 L141.0,320.3 L141.5,321.3 L142.0,322.4 L142.5,323.6 L143.0,324.8 L143.5,325.9 L144.0,326.9 L144.5,327.7 L145.0,328.3 L145.5,328.5 L146.0,328.5 L146.5,328.4 L147.0,328.2 L147.5,328.0 L148.0,327.7 L148.5,327.4 L149.0,327.1 L149.5,326.9 L150.0,326.7 L150.5,326.5 L151.0,326.5 L151.5,326.6 L152.0,326.8 L152.5,327.3 L153.0,327.8 L153.5,328.3 L154.0,328.9 L154.5,329.5 L155.0,330.1 L155.5,330.6 L156.0,331.0 L156.5,331.2 L157.0,331.3 L157.5,331.1 L158.0,330.9 L158.5,330.5 L159.0,330.0 L159.5,329.5 L160.0,328.9 L160.5,328.3 L161.0,327.7 L161.5,327.1 L162.0,326.5 L162.5,326.1 L163.0,325.7 L163.5,325.4 L164.0,325.2 L164.5,325.1 L165.0,325.0 L165.5,324.9 L166.0,324.8 L166.5,324.6 L167.0,324.4 L167.5,324.0 L168.0,323.4 L168.5,322.5 L169.0,321.5 L169.5,320.5 L170.0,319.4 L170.5,318.5 L171.0,317.6 L171.5,317.0 L172.0,316.7 L172.5,316.8 L173.0,317.2 L173.5,317.8 L174.0,318.7 L174.5,319.8 L175.0,320.9 L175.5,322.0 L176.0,323.0 L176.5,323.9 L177.0,324.5 L177.5,324.8 L178.0,324.7 L178.5,324.3 L179.0,323.5 L179.5,322.5 L180.0,321.3 L180.5,320.0 L181.0,318.6 L181.5,317.2 L182.0,315.8 L182.5,314.7 L183.0,313.7 L183.5,313.0 L184.0,312.6 L184.5,312.6 L185.0,312.9 L185.5,313.5 L186.0,314.4 L186.5,315.4 L187.0,316.4 L187.5,317.6 L188.0,318.6 L188.5,319.6 L189.0,320.5 L189.5,321.1 L190.0,321.4 L190.5,321.5 L191.0,321.2 L191.5,320.8 L192.0,320.3 L192.5,319.7 L193.0,319.2 L193.5,318.8 L194.0,318.6 L194.5,318.6 L195.0,318.8 L195.5,319.2 L196.0,319.7 L196.5,320.4 L197.0,321.1 L197.5,322.0 L198.0,322.9 L198.5,323.8 L199.0,324.7 L199.5,325.6 L200.0,326.5 L200.5,327.3 L201.0,328.0 L201.5,328.6 L202.0,329.0 L202.5,329.3 L203.0,329.4 L203.5,329.3 L204.0,329.2 L204.5,328.9 L205.0,328.7 L205.5,328.4 L206.0,328.3 L206.5,328.2 L207.0,328.2 L207.5,328.2 L208.0,328.4 L208.5,328.6 L209.0,328.8 L209.5,329.0 L210.0,329.3 L210.5,329.6 L211.0,329.8 L211.5,330.1 L212.0,330.3 L212.5,330.5 L213.0,330.6 L213.5,330.6 L214.0,330.6 L214.5,330.4 L215.0,330.1 L215.5,329.7 L216.0,329.3 L216.5,328.7 L217.0,328.1 L217.5,327.5 L218.0,326.9 L218.5,326.2 L219.0,325.7 L219.5,325.1 L220.0,324.6 L220.5,324.1 L221.0,323.5 L221.5,322.9 L222.0,322.3 L222.5,321.7 L223.0,321.1 L223.5,320.6 L224.0,320.1 L224.5,319.6 L225.0,319.3 L225.5,319.1 L226.0,319.0 L226.5,319.0 L227.0,319.3 L227.5,319.6 L228.0,320.1 L228.5,320.7 L229.0,321.3 L229.5,321.9 L230.0,322.5 L230.5,323.0 L231.0,323.4 L231.5,323.8 L232.0,324.0 L232.5,323.9 L233.0,323.4 L233.5,322.6 L234.0,321.4 L234.5,320.0 L235.0,318.5 L235.5,317.0 L236.0,315.6 L236.5,314.3 L237.0,313.2 L237.5,312.6 L238.0,312.3 L238.5,312.5 L239.0,312.9 L239.5,313.6 L240.0,314.5 L240.5,315.4 L241.0,316.5 L241.5,317.6 L242.0,318.7 L242.5,319.7 L243.0,320.5 L243.5,321.2 L244.0,321.7 L244.5,321.9 L245.0,321.8 L245.5,321.5 L246.0,321.0 L246.5,320.4 L247.0,319.8 L247.5,319.3 L248.0,318.8 L248.5,318.5 L249.0,318.4 L249.5,318.6 L250.0,319.0 L250.5,319.7 L251.0,320.6 L251.5,321.6 L252.0,322.7 L252.5,323.9 L253.0,325.1 L253.5,326.2 L254.0,327.3 L254.5,328.2 L255.0,329.0 L255.5,329.6 L256.0,330.0 L256.5,330.0 L257.0,329.9 L257.5,329.8 L258.0,329.6 L258.5,329.4 L259.0,329.2 L259.5,328.9 L260.0,328.7 L260.5,328.5 L261.0,328.3 L261.5,328.2 L262.0,328.1 L262.5,328.2 L263.0,328.4 L263.5,328.6 L264.0,328.9 L264.5,329.3 L265.0,329.7 L265.5,330.1 L266.0,330.6 L266.5,331.0 L267.0,331.3 L267.5,331.6 L268.0,331.8 L268.5,331.9 L269.0,331.8 L269.5,331.6 L270.0,331.2 L270.5,330.6 L271.0,330.0 L271.5,329.2 L272.0,328.5 L272.5,327.7 L273.0,326.9 L273.5,326.2 L274.0,325.5 L274.5,324.9 L275.0,324.3 L275.5,323.7 L276.0,323.0 L276.5,322.4 L277.0,321.7 L277.5,321.1 L278.0,320.5 L278.5,319.9 L279.0,319.4 L279.5,319.0 L280.0,318.7 L280.5,318.5 L281.0,318.4 L281.5,318.5 L282.0,318.9 L282.5,319.6 L283.0,320.5 L283.5,321.5 L284.0,322.6 L284.5,323.7 L285.0,324.7 L285.5,325.6 L286.0,326.2 L286.5,326.6 L287.0,326.7 L287.5,326.2 L288.0,325.3 L288.5,324.0 L289.0,322.4 L289.5,320.6 L290.0,318.8 L290.6,316.9 L291.1,315.2 L291.6,313.6 L292.1,312.4 L292.6,311.5 L293.1,311.1 L293.6,311.2 L294.1,311.9 L294.6,313.0 L295.1,314.4 L295.6,316.0 L296.1,317.6 L296.6,319.2 L297.1,320.7 L297.6,321.9 L298.1,322.8 L298.6,323.1 L299.1,323.0 L299.6,322.4 L300.1,321.6 L300.6,320.6 L301.1,319.5 L301.6,318.5 L302.1,317.7 L302.6,317.1 L303.1,316.9 L303.6,317.2 L304.1,317.9 L304.6,318.9 L305.1,320.1 L305.6,321.5 L306.1,323.0 L306.6,324.4 L307.1,325.8 L307.6,326.9 L308.1,327.7 L308.6,328.1 L309.1,328.1 L309.6,328.1 L310.1,328.0 L310.6,327.9 L311.1,327.8 L311.6,327.7 L312.1,327.6 L312.6,327.5 L313.1,327.4 L313.6,327.3 L314.1,327.3 L314.6,327.4 L315.1,327.7 L315.6,328.1 L316.1,328.5 L316.6,329.0 L317.1,329.6 L317.6,330.1 L318.1,330.6 L318.6,331.0 L319.1,331.3 L319.6,331.5 L320.1,331.5 L320.6,331.4 L321.1,331.3 L321.6,331.1 L322.1,330.9 L322.6,330.6 L323.1,330.3 L323.6,330.0 L324.1,329.6 L324.6,329.2 L325.1,328.8 L325.6,328.4 L326.1,328.0 L326.6,327.5 L327.1,327.1 L327.6,326.6 L328.1,326.2 L328.6,325.8 L329.1,325.4 L329.6,325.0 L330.1,324.5 L330.6,323.9 L331.1,323.3 L331.6,322.7 L332.1,322.1 L332.6,321.6 L333.1,321.0 L333.6,320.5 L334.1,320.1 L334.6,319.8 L335.1,319.5 L335.6,319.4 L336.1,319.4 L336.6,319.7 L337.1,320.0 L337.6,320.5 L338.1,321.1 L338.6,321.7 L339.1,322.3 L339.6,322.8 L340.1,323.3 L340.6,323.7 L341.1,323.9 L341.6,324.0 L342.1,323.7 L342.6,323.1 L343.1,322.1 L343.6,321.0 L344.1,319.7 L344.6,318.3 L345.1,316.9 L345.6,315.6 L346.1,314.3 L346.6,313.3 L347.1,312.4 L347.6,311.9 L348.1,311.7 L348.6,311.9 L349.1,312.4 L349.6,313.1 L350.1,314.0 L350.6,315.1 L351.1,316.2 L351.6,317.4 L352.1,318.5 L352.6,319.6 L353.1,320.5 L353.6,321.2 L354.1,321.7 L354.6,321.9 L355.1,321.8 L355.6,321.4 L356.1,320.8 L356.6,320.2 L357.1,319.6 L357.6,319.2 L358.1,319.0 L358.6,319.1 L359.1,319.5 L359.6,320.2 L360.1,321.1 L360.6,322.1 L361.1,323.2 L361.6,324.3 L362.1,325.4 L362.6,326.3 L363.1,327.2 L363.6,327.8 L364.1,328.2 L364.6,328.6 L365.1,328.9 L365.6,329.2 L366.1,329.5 L366.6,329.7 L367.1,329.8 L367.6,329.8 L368.1,329.7 L368.6,329.5 L369.1,329.2 L369.6,329.0 L370.1,328.8 L370.6,328.6 L371.1,328.6 L371.6,328.6 L372.1,328.7 L372.6,328.9 L373.1,329.1 L373.6,329.3 L374.1,329.6 L374.6,329.8 L375.1,330.1 L375.6,330.3 L376.1,330.6 L376.6,330.8 L377.1,330.9 L377.6,331.0 L378.1,331.1 L378.6,330.9 L379.1,330.6 L379.6,330.0 L380.1,329.3 L380.6,328.5 L381.1,327.7 L381.6,326.9 L382.1,326.1 L382.6,325.5 L383.1,325.1 L383.6,324.8 L384.1,324.7 L384.6,324.5 L385.1,324.4 L385.6,324.2 L386.1,324.0 L386.6,323.7 L387.1,323.2 L387.6,322.5 L388.1,321.7 L388.6,321.0 L389.1,320.3 L389.6,319.8 L390.1,319.6 L390.6,319.7 L391.1,319.9 L391.6,320.2 L392.1,320.7 L392.6,321.2 L393.1,321.8 L393.6,322.3 L394.1,322.8 L394.6,323.3 L395.1,323.7 L395.6,323.9 L396.1,324.0 L396.6,323.8 L397.1,323.2 L397.6,322.3 L398.1,321.1 L398.6,319.9 L399.1,318.5 L399.6,317.1 L400.1,315.8 L400.6,314.6 L401.1,313.5 L401.6,312.8 L402.1,312.4 L402.6,312.4 L403.1,312.7 L403.6,313.2 L404.1,314.0 L404.6,314.9 L405.1,315.9 L405.6,317.0 L406.1,318.1 L406.6,319.1 L407.1,320.1 L407.6,320.9 L408.1,321.5 L408.6,321.8 L409.1,321.9 L409.6,321.7 L410.1,321.3 L410.6,320.8 L411.1,320.2 L411.6,319.7 L412.1,319.2 L412.6,318.9 L413.1,318.8 L413.6,318.9 L414.1,319.3 L414.6,319.9 L415.1,320.6 L415.6,321.4 L416.1,322.4 L416.6,323.4 L417.1,324.4 L417.6,325.5 L418.1,326.5 L418.6,327.4 L419.1,328.3 L419.6,329.0 L420.1,329.6 L420.6,330.0 L421.1,330.2 L421.6,330.2 L422.1,330.0 L422.6,329.8 L423.1,329.5 L423.6,329.2 L424.1,328.8 L424.6,328.5 L425.1,328.3 L425.6,328.2 L426.1,328.2 L426.6,328.3 L427.1,328.5 L427.6,328.9 L428.1,329.3 L428.6,329.7 L429.1,330.2 L429.6,330.6 L430.1,331.0 L430.6,331.3 L431.1,331.4 L431.6,331.5 L432.1,331.3 L432.6,330.9 L433.1,330.2 L433.6,329.5 L434.1,328.7 L434.6,327.8 L435.1,327.0 L435.6,326.3 L436.1,325.7 L436.6,325.2 L437.1,325.0 L437.6,325.0 L438.1,324.9 L438.6,324.9 L439.1,324.9 L439.6,324.8 L440.1,324.8 L440.6,324.5 L441.1,324.1 L441.6,323.5 L442.1,322.9 L442.6,322.3 L443.1,321.6 L443.6,320.9 L444.1,320.4 L444.7,319.9 L445.2,319.6 L445.7,319.4 L446.2,319.5 L446.7,319.7 L447.2,320.0 L447.7,320.5 L448.2,321.0 L448.7,321.6 L449.2,322.1 L449.7,322.6 L450.2,323.1 L450.7,323.4 L451.2,323.5 L451.7,323.5 L452.2,323.0 L452.7,322.2 L453.2,321.1 L453.7,319.8 L454.2,318.4 L454.7,317.0 L455.2,315.6 L455.7,314.4 L456.2,313.4 L456.7,312.7 L457.2,312.3 L457.7,312.4 L458.2,312.9 L458.7,313.6 L459.2,314.5 L459.7,315.6 L460.2,316.7 L460.7,317.9 L461.2,319.0 L461.7,320.0 L462.2,320.8 L462.7,321.4 L463.2,321.7 L463.7,321.6 L464.2,321.4 L464.7,321.0 L465.2,320.4 L465.7,319.9 L466.2,319.3 L466.7,318.8 L467.2,318.4 L467.7,318.2 L468.2,318.3 L468.7,319.4 L469.2,321.0 L469.7,322.7 L470.2,323.8 L470.7,318.4 L471.2,306.2 L471.7,300.5 L472.2,296.9 L472.7,293.7 L473.2,290.9 L473.7,288.7 L474.2,287.4 L474.7,287.2 L475.2,288.6 L475.7,291.3 L476.2,294.8 L476.7,298.8 L477.2,302.7 L477.7,306.1 L478.2,309.2 L478.7,312.6 L479.2,316.0 L479.7,319.2 L480.2,321.5 L480.7,322.7 L481.2,322.4 L481.7,321.1 L482.2,319.0 L482.7,316.5 L483.2,313.8 L483.7,311.2 L484.2,309.0 L484.7,307.4 L485.2,306.8 L485.7,306.6 L486.2,306.5 L486.7,306.5 L487.2,306.8 L487.7,307.1 L488.2,307.5 L488.7,307.9 L489.2,308.3 L489.7,308.6 L490.2,308.8 L490.7,308.7 L491.2,308.5 L491.7,308.0 L492.2,307.4 L492.7,306.6 L493.2,305.7 L493.7,304.6 L494.2,303.5 L494.7,302.3 L495.2,301.1 L495.7,299.9 L496.2,298.8 L496.7,297.6 L497.2,296.6 L497.7,295.6 L498.2,294.8 L498.7,294.1 L499.2,293.6 L499.7,293.2 L500.2,293.2 L500.7,293.5 L501.2,294.1 L501.7,295.1 L502.2,296.3 L502.7,297.6 L503.2,299.0 L503.7,300.3 L504.2,301.5 L504.7,302.5 L505.2,303.1 L505.7,303.4 L506.2,303.1 L506.7,302.3 L507.2,301.0 L507.7,299.3 L508.2,297.5 L508.7,295.5 L509.2,293.5 L509.7,291.6 L510.2,290.0 L510.7,288.6 L511.2,287.7 L511.7,287.3 L512.2,287.5 L512.7,287.9 L513.2,288.6 L513.7,289.4 L514.2,290.5 L514.7,291.6 L515.2,292.8 L515.7,294.1 L516.2,295.3 L516.7,296.4 L517.2,297.4 L517.7,298.2 L518.2,298.8 L518.7,299.1 L519.2,299.2 L519.7,298.9 L520.2,298.3 L520.7,297.6 L521.2,296.9 L521.7,296.3 L522.2,295.8 L522.7,295.7 L523.2,295.8 L523.7,296.2 L524.2,296.8 L524.7,297.7 L525.2,298.6 L525.7,299.7 L526.2,300.9 L526.7,302.0 L527.2,303.2 L527.7,304.4 L528.2,305.5 L528.7,306.5 L529.2,307.3 L529.7,308.0 L530.2,308.4 L530.7,308.6 L531.2,308.5 L531.7,308.1 L532.2,307.6 L532.7,306.9 L533.2,306.3 L533.7,305.7 L534.2,305.3 L534.7,305.0 L535.2,305.1 L535.7,305.3 L536.2,305.8 L536.7,306.3 L537.2,307.0 L537.7,307.8 L538.2,308.6 L538.7,309.5 L539.2,310.3 L539.7,311.0 L540.2,311.7 L540.7,312.2 L541.2,312.6 L541.7,312.7 L542.2,312.6 L542.7,311.9 L543.2,310.8 L543.7,309.5 L544.2,307.9 L544.7,306.3 L545.2,304.7 L545.7,303.3 L546.2,302.1 L546.7,301.4 L547.2,300.9 L547.7,300.5 L548.2,300.2 L548.7,299.8 L549.2,299.4 L549.7,298.9 L550.2,298.4 L550.7,297.8 L551.2,297.3 L551.7,296.8 L552.2,296.3 L552.7,295.8 L553.2,295.4 L553.7,295.1 L554.2,294.9 L554.7,294.8 L555.2,294.9 L555.7,295.2 L556.2,295.8 L556.7,296.4 L557.2,297.2 L557.7,298.1 L558.2,298.9 L558.7,299.6 L559.2,300.3 L559.7,300.8 L560.2,301.0 L560.7,301.0 L561.2,300.6 L561.7,299.7 L562.2,298.6 L562.7,297.3 L563.2,295.8 L563.7,294.3 L564.2,292.8 L564.7,291.4 L565.2,290.2 L565.7,289.3 L566.2,288.7 L566.7,288.6 L567.2,288.8 L567.7,289.4 L568.2,290.2 L568.7,291.2 L569.2,292.3 L569.7,293.5 L570.2,294.8 L570.7,296.0 L571.2,297.1 L571.7,298.0 L572.2,298.8 L572.7,299.3 L573.2,299.4 L573.7,299.2 L574.2,298.7 L574.7,298.1 L575.2,297.4 L575.7,296.6 L576.2,295.9 L576.7,295.5 L577.2,295.2 L577.7,295.4 L578.2,295.9 L578.7,296.6 L579.2,297.6 L579.7,298.8 L580.2,300.1 L580.7,301.4 L581.2,302.8 L581.7,304.0 L582.2,305.2 L582.7,306.2 L583.2,306.9 L583.7,307.4 L584.2,307.5 L584.7,307.4 L585.2,307.1 L585.7,306.7 L586.2,306.2 L586.7,305.7 L587.2,305.2 L587.7,304.7 L588.2,304.3 L588.7,304.1 L589.2,304.0 L589.7,304.1 L590.2,304.5 L590.7,305.0 L591.2,305.7 L591.7,306.4 L592.2,307.3 L592.7,308.2 L593.2,309.1 L593.7,310.0 L594.2,310.8 L594.7,311.5 L595.2,312.1 L595.7,312.5 L596.2,312.7 L596.7,312.7 L597.2,312.2 L597.7,311.4 L598.2,310.4 L598.8,309.1 L599.3,307.7 L599.8,306.3 L600.3,304.9 L600.8,303.6 L601.3,302.4 L601.8,301.5 L602.3,300.9 L602.8,300.4 L603.3,300.1 L603.8,299.7 L604.3,299.3 L604.8,298.8 L605.3,298.3 L605.8,297.7 L606.3,297.1 L606.8,296.5 L607.3,295.9 L607.8,295.4 L608.3,295.0 L608.8,294.6 L609.3,294.5 L609.8,294.4 L610.3,294.6 L610.8,295.1 L611.3,295.7 L611.8,296.5 L612.3,297.4 L612.8,298.3 L613.3,299.2 L613.8,300.0 L614.3,300.8 L614.8,301.4 L615.3,301.8 L615.8,301.9 L616.3,301.6 L616.8,300.8 L617.3,299.5 L617.8,297.9 L618.3,296.2 L618.8,294.3 L619.3,292.5 L619.8,290.9 L620.3,289.6 L620.8,288.6 L621.3,288.2 L621.8,288.3 L622.3,288.8 L622.8,289.7 L623.3,290.8 L623.8,292.1 L624.3,293.6 L624.8,295.0 L625.3,296.5 L625.8,297.8 L626.3,299.0 L626.8,300.0 L627.3,300.6 L627.8,300.9 L628.3,300.7 L628.8,300.1 L629.3,299.1 L629.8,298.0 L630.3,296.8 L630.8,295.6 L631.3,294.5 L631.8,293.6 L632.3,292.9 L632.8,292.7 L633.3,293.0 L633.8,293.6 L634.3,294.5 L634.8,295.8 L635.3,297.2 L635.8,298.7 L636.3,300.3 L636.8,302.0 L637.3,303.6 L637.8,305.2 L638.3,306.5 L638.8,307.7 L639.3,308.6 L639.8,309.2 L640.3,309.4 L640.8,309.2 L641.3,308.6 L641.8,307.9 L642.3,307.0 L642.8,306.1 L643.3,305.3 L643.8,304.7 L644.3,304.4 L644.8,304.5 L645.3,304.8 L645.8,305.4 L646.3,306.0 L646.8,306.8 L647.3,307.7 L647.8,308.5 L648.3,309.3 L648.8,310.1 L649.3,310.7 L649.8,311.1 L650.3,311.3 L650.8,311.2 L651.3,311.0 L651.8,310.6 L652.3,310.0 L652.8,309.4 L653.3,308.7 L653.8,307.9 L654.3,307.1 L654.8,306.3 L655.3,305.5 L655.8,304.8 L656.3,304.1 L656.8,303.6 L657.3,303.2 L657.8,302.8 L658.3,302.4 L658.8,302.0 L659.3,301.4 L659.8,300.7 L660.3,299.9 L660.8,299.0 L661.3,298.0 L661.8,297.1 L662.3,296.2 L662.8,295.3 L663.3,294.6 L663.8,294.0 L664.3,293.7 L664.8,293.6 L665.3,293.8 L665.8,294.3 L666.3,295.1 L666.8,296.1 L667.3,297.2 L667.8,298.3 L668.3,299.4 L668.8,300.5 L669.3,301.3 L669.8,302.0 L670.3,302.3 L670.8,302.2 L671.3,301.7 L671.8,300.7 L672.3,299.3 L672.8,297.8 L673.3,296.1 L673.8,294.3 L674.3,292.6 L674.8,291.1 L675.3,289.8" stroke="#ff0000" stroke-width="1.80" fill="none" stroke-linejoin="round" clip-path="url(#c1)"/>
<path d="M59.40 405.20v-6.2M59.40 238.60v6.2M127.83 405.20v-6.2M127.83 238.60v6.2M196.27 405.20v-6.2M196.27 238.60v6.2M264.70 405.20v-6.2M264.70 238.60v6.2M333.13 405.20v-6.2M333.13 238.60v6.2M401.57 405.20v-6.2M401.57 238.60v6.2M470.00 405.20v-6.2M470.00 238.60v6.2M538.43 405.20v-6.2M538.43 238.60v6.2M606.87 405.20v-6.2M606.87 238.60v6.2M675.30 405.20v-6.2M675.30 238.60v6.2M59.40 405.20h6.2M675.30 405.20h-6.2M59.40 363.55h6.2M675.30 363.55h-6.2M59.40 321.90h6.2M675.30 321.90h-6.2M59.40 280.25h6.2M675.30 280.25h-6.2M59.40 238.60h6.2M675.30 238.60h-6.2" stroke="#262626" stroke-width="1" fill="none"/>
<rect x="59.40" y="238.60" width="615.90" height="166.60" stroke="#262626" stroke-width="1.2" fill="none"/>
<text x="59.40" y="426.60" font-size="16.0" text-anchor="middle" fill="#262626">0</text>
<text x="127.83" y="426.60" font-size="16.0" text-anchor="middle" fill="#262626">5</text>
<text x="196.27" y="426.60" font-size="16.0" text-anchor="middle" fill="#262626">10</text>
<text x="264.70" y="426.60" font-size="16.0" text-anchor="middle" fill="#262626">15</text>
<text x="333.13" y="426.60" font-size="16.0" text-anchor="middle" fill="#262626">20</text>
<text x="401.57" y="426.60" font-size="16.0" text-anchor="middle" fill="#262626">25</text>
<text x="470.00" y="426.60" font-size="16.0" text-anchor="middle" fill="#262626">30</text>
<text x="538.43" y="426.60" font-size="16.0" text-anchor="middle" fill="#262626">35</text>
<text x="606.87" y="426.60" font-size="16.0" text-anchor="middle" fill="#262626">40</text>
<text x="675.30" y="426.60" font-size="16.0" text-anchor="middle" fill="#262626">45</text>
<text x="54.80" y="411.95" font-size="16.0" text-anchor="end" fill="#262626">-20</text>
<text x="54.80" y="370.30" font-size="16.0" text-anchor="end" fill="#262626">-10</text>
<text x="54.80" y="328.65" font-size="16.0" text-anchor="end" fill="#262626">0</text>
<text x="54.80" y="287.00" font-size="16.0" text-anchor="end" fill="#262626">10</text>
<text x="54.80" y="245.35" font-size="16.0" text-anchor="end" fill="#262626">20</text>
<defs><clipPath id="c2"><rect x="59.40" y="470.80" width="615.90" height="166.60"/></clipPath></defs>
<path d="M127.83 470.80V637.40M196.27 470.80V637.40M264.70 470.80V637.40M333.13 470.80V637.40M401.57 470.80V637.40M470.00 470.80V637.40M538.43 470.80V637.40M606.87 470.80V637.40M59.40 581.87H675.30M59.40 526.33H675.30" stroke="#e0e0e0" stroke-width="1" fill="none"/>
<path d="M59.4,581.9 L59.9,574.4 L60.4,567.2 L60.9,560.4 L61.4,554.0 L61.9,548.1 L62.4,542.5 L62.9,537.5 L63.4,532.9 L63.9,528.8 L64.4,525.3 L64.9,522.3 L65.4,519.9 L65.9,518.1 L66.4,516.9 L66.9,516.4 L67.4,516.6 L67.9,517.8 L68.4,519.9 L68.9,522.9 L69.4,526.6 L69.9,531.0 L70.4,535.8 L70.9,541.1 L71.4,546.8 L71.9,552.6 L72.4,558.6 L72.9,564.7 L73.4,570.7 L73.9,576.5 L74.4,582.1 L74.9,587.3 L75.4,592.1 L75.9,596.3 L76.4,599.8 L76.9,602.6 L77.4,604.6 L77.9,605.6 L78.4,605.7 L78.9,605.1 L79.4,604.0 L79.9,602.4 L80.4,600.4 L80.9,598.1 L81.4,595.6 L81.9,592.8 L82.4,589.8 L82.9,586.8 L83.4,583.7 L83.9,580.6 L84.4,577.6 L84.9,574.8 L85.4,572.2 L85.9,569.8 L86.4,567.8 L86.9,566.2 L87.4,564.9 L87.9,564.3 L88.4,564.1 L88.9,564.5 L89.4,565.4 L89.9,566.6 L90.4,568.3 L90.9,570.3 L91.4,572.7 L91.9,575.3 L92.4,578.2 L92.9,581.3 L93.4,584.6 L93.9,588.0 L94.4,591.5 L94.9,595.1 L95.4,598.7 L95.9,602.3 L96.4,605.8 L96.9,609.3 L97.4,612.6 L97.9,615.8 L98.4,618.9 L98.9,621.7 L99.4,624.2 L99.9,626.4 L100.4,628.3 L100.9,629.8 L101.4,631.0 L101.9,631.6 L102.4,631.8 L102.9,631.5 L103.4,630.6 L103.9,629.3 L104.4,627.4 L104.9,625.2 L105.4,622.5 L105.9,619.5 L106.4,616.1 L106.9,612.5 L107.4,608.5 L107.9,604.4 L108.4,600.1 L108.9,595.6 L109.4,590.9 L109.9,586.2 L110.4,581.4 L110.9,576.6 L111.4,571.8 L111.9,567.1 L112.4,562.4 L112.9,557.9 L113.4,553.5 L113.9,549.2 L114.4,545.2 L114.9,541.4 L115.4,537.9 L115.9,534.8 L116.4,531.9 L116.9,529.5 L117.4,527.4 L117.9,525.9 L118.4,524.8 L118.9,524.2 L119.4,524.2 L119.9,524.8 L120.4,526.0 L120.9,527.7 L121.4,529.9 L121.9,532.5 L122.4,535.5 L122.9,538.8 L123.4,542.4 L123.9,546.2 L124.4,550.2 L124.9,554.3 L125.4,558.5 L125.9,562.7 L126.4,566.9 L126.9,571.0 L127.4,575.0 L127.9,578.8 L128.4,582.3 L128.9,585.6 L129.4,588.5 L129.9,591.0 L130.4,593.1 L130.9,594.7 L131.4,595.8 L131.9,596.3 L132.4,596.2 L132.9,595.8 L133.4,595.0 L133.9,594.0 L134.4,592.8 L134.9,591.3 L135.4,589.7 L135.9,587.9 L136.5,586.0 L137.0,584.0 L137.5,582.0 L138.0,580.0 L138.5,578.0 L139.0,576.0 L139.5,574.1 L140.0,572.4 L140.5,570.8 L141.0,569.4 L141.5,568.2 L142.0,567.3 L142.5,566.7 L143.0,566.3 L143.5,566.4 L144.0,566.9 L144.5,567.8 L145.0,569.1 L145.5,570.8 L146.0,572.8 L146.5,575.1 L147.0,577.6 L147.5,580.4 L148.0,583.3 L148.5,586.5 L149.0,589.7 L149.5,593.0 L150.0,596.4 L150.5,599.8 L151.0,603.3 L151.5,606.6 L152.0,609.9 L152.5,613.1 L153.0,616.2 L153.5,619.0 L154.0,621.7 L154.5,624.1 L155.0,626.3 L155.5,628.2 L156.0,629.7 L156.5,630.8 L157.0,631.5 L157.5,631.8 L158.0,631.6 L158.5,630.8 L159.0,629.5 L159.5,627.7 L160.0,625.5 L160.5,622.8 L161.0,619.7 L161.5,616.3 L162.0,612.5 L162.5,608.5 L163.0,604.3 L163.5,599.8 L164.0,595.2 L164.5,590.4 L165.0,585.6 L165.5,580.7 L166.0,575.8 L166.5,570.9 L167.0,566.0 L167.5,561.3 L168.0,556.6 L168.5,552.1 L169.0,547.9 L169.5,543.8 L170.0,540.1 L170.5,536.6 L171.0,533.5 L171.5,530.8 L172.0,528.4 L172.5,526.6 L173.0,525.2 L173.5,524.4 L174.0,524.1 L174.5,524.5 L175.0,525.4 L175.5,526.9 L176.0,528.9 L176.5,531.3 L177.0,534.2 L177.5,537.4 L178.0,540.8 L178.5,544.6 L179.0,548.5 L179.5,552.6 L180.0,556.7 L180.5,561.0 L181.0,565.2 L181.5,569.3 L182.0,573.3 L182.5,577.2 L183.0,580.8 L183.5,584.2 L184.0,587.3 L184.5,590.0 L185.0,592.3 L185.5,594.1 L186.0,595.4 L186.5,596.2 L187.0,596.3 L187.5,596.0 L188.0,595.4 L188.5,594.5 L189.0,593.3 L189.5,591.9 L190.0,590.4 L190.5,588.6 L191.0,586.8 L191.5,584.9 L192.0,582.9 L192.5,580.8 L193.0,578.8 L193.5,576.8 L194.0,574.9 L194.5,573.1 L195.0,571.5 L195.5,570.0 L196.0,568.7 L196.5,567.7 L197.0,566.9 L197.5,566.4 L198.0,566.3 L198.5,566.6 L199.0,567.4 L199.5,568.5 L200.0,570.0 L200.5,571.9 L201.0,574.1 L201.5,576.5 L202.0,579.2 L202.5,582.1 L203.0,585.1 L203.5,588.3 L204.0,591.6 L204.5,595.0 L205.0,598.4 L205.5,601.8 L206.0,605.2 L206.5,608.5 L207.0,611.8 L207.5,614.9 L208.0,617.9 L208.5,620.6 L209.0,623.2 L209.5,625.4 L210.0,627.4 L210.5,629.1 L211.0,630.4 L211.5,631.3 L212.0,631.8 L212.5,631.8 L213.0,631.2 L213.5,630.2 L214.0,628.5 L214.5,626.5 L215.0,624.0 L215.5,621.0 L216.0,617.8 L216.5,614.1 L217.0,610.2 L217.5,606.1 L218.0,601.7 L218.5,597.2 L219.0,592.5 L219.5,587.7 L220.0,582.8 L220.5,577.9 L221.0,572.9 L221.5,568.1 L222.0,563.3 L222.5,558.6 L223.0,554.0 L223.5,549.7 L224.0,545.5 L224.5,541.6 L225.0,538.0 L225.5,534.8 L226.0,531.9 L226.5,529.4 L227.0,527.3 L227.5,525.7 L228.0,524.7 L228.5,524.2 L229.0,524.2 L229.5,524.9 L230.0,526.2 L230.5,528.0 L231.0,530.2 L231.5,532.9 L232.0,536.0 L232.5,539.3 L233.0,543.0 L233.5,546.8 L234.0,550.8 L234.5,555.0 L235.0,559.2 L235.5,563.4 L236.0,567.6 L236.5,571.6 L237.0,575.6 L237.5,579.3 L238.0,582.8 L238.5,586.0 L239.0,588.9 L239.5,591.4 L240.0,593.4 L240.5,594.9 L241.0,595.9 L241.5,596.3 L242.0,596.2 L242.5,595.7 L243.0,594.9 L243.5,593.8 L244.0,592.6 L244.5,591.1 L245.0,589.4 L245.5,587.6 L246.0,585.7 L246.5,583.7 L247.0,581.7 L247.5,579.7 L248.0,577.7 L248.5,575.7 L249.0,573.9 L249.5,572.1 L250.0,570.6 L250.5,569.2 L251.0,568.1 L251.5,567.2 L252.0,566.6 L252.5,566.3 L253.0,566.4 L253.5,567.0 L254.0,568.0 L254.5,569.4 L255.0,571.1 L255.5,573.1 L256.0,575.4 L256.5,578.0 L257.0,580.8 L257.5,583.8 L258.0,586.9 L258.5,590.2 L259.0,593.6 L259.5,597.0 L260.0,600.4 L260.5,603.8 L261.0,607.1 L261.5,610.4 L262.0,613.6 L262.5,616.6 L263.0,619.5 L263.5,622.1 L264.0,624.5 L264.5,626.6 L265.0,628.4 L265.5,629.9 L266.0,631.0 L266.5,631.6 L267.0,631.8 L267.5,631.5 L268.0,630.7 L268.5,629.3 L269.0,627.4 L269.5,625.1 L270.0,622.3 L270.5,619.2 L271.0,615.7 L271.5,611.9 L272.0,607.9 L272.5,603.6 L273.0,599.1 L273.5,594.5 L274.0,589.7 L274.5,584.8 L275.0,579.9 L275.5,575.0 L276.0,570.1 L276.5,565.3 L277.0,560.5 L277.5,555.9 L278.0,551.5 L278.5,547.2 L279.0,543.2 L279.5,539.5 L280.0,536.1 L280.5,533.0 L281.0,530.4 L281.5,528.1 L282.0,526.3 L282.5,525.1 L283.0,524.3 L283.5,524.1 L284.0,524.6 L284.5,525.6 L285.0,527.2 L285.5,529.2 L286.0,531.7 L286.5,534.6 L287.0,537.9 L287.5,541.4 L288.0,545.2 L288.5,549.1 L289.0,553.2 L289.5,557.4 L290.0,561.6 L290.6,565.8 L291.1,569.9 L291.6,573.9 L292.1,577.8 L292.6,581.4 L293.1,584.7 L293.6,587.7 L294.1,590.4 L294.6,592.6 L295.1,594.4 L295.6,595.6 L296.1,596.2 L296.6,596.3 L297.1,595.9 L297.6,595.3 L298.1,594.3 L298.6,593.1 L299.1,591.7 L299.6,590.1 L300.1,588.4 L300.6,586.5 L301.1,584.5 L301.6,582.5 L302.1,580.5 L302.6,578.5 L303.1,576.5 L303.6,574.6 L304.1,572.9 L304.6,571.2 L305.1,569.8 L305.6,568.5 L306.1,567.5 L306.6,566.8 L307.1,566.4 L307.6,566.3 L308.1,566.7 L308.6,567.5 L309.1,568.7 L309.6,570.3 L310.1,572.2 L310.6,574.4 L311.1,576.9 L311.6,579.6 L312.1,582.5 L312.6,585.6 L313.1,588.8 L313.6,592.1 L314.1,595.5 L314.6,598.9 L315.1,602.3 L315.6,605.7 L316.1,609.1 L316.6,612.3 L317.1,615.4 L317.6,618.3 L318.1,621.0 L318.6,623.5 L319.1,625.8 L319.6,627.7 L320.1,629.3 L320.6,630.5 L321.1,631.4 L321.6,631.8 L322.1,631.7 L322.6,631.1 L323.1,629.9 L323.6,628.3 L324.1,626.1 L324.6,623.5 L325.1,620.6 L325.6,617.2 L326.1,613.6 L326.6,609.6 L327.1,605.4 L327.6,601.0 L328.1,596.4 L328.6,591.7 L329.1,586.9 L329.6,582.0 L330.1,577.1 L330.6,572.2 L331.1,567.3 L331.6,562.5 L332.1,557.8 L332.6,553.3 L333.1,549.0 L333.6,544.9 L334.1,541.0 L334.6,537.5 L335.1,534.3 L335.6,531.5 L336.1,529.0 L336.6,527.0 L337.1,525.5 L337.6,524.6 L338.1,524.1 L338.6,524.3 L339.1,525.1 L339.6,526.4 L340.1,528.3 L340.6,530.6 L341.1,533.4 L341.6,536.5 L342.1,539.9 L342.6,543.6 L343.1,547.4 L343.6,551.5 L344.1,555.6 L344.6,559.8 L345.1,564.0 L345.6,568.2 L346.1,572.3 L346.6,576.2 L347.1,579.9 L347.6,583.3 L348.1,586.5 L348.6,589.3 L349.1,591.7 L349.6,593.7 L350.1,595.1 L350.6,596.0 L351.1,596.3 L351.6,596.1 L352.1,595.5 L352.6,594.5 L353.1,593.3 L353.6,591.8 L354.1,590.1 L354.6,588.2 L355.1,586.2 L355.6,584.1 L356.1,582.0 L356.6,579.9 L357.1,577.8 L357.6,575.8 L358.1,574.0 L358.6,572.3 L359.1,570.8 L359.6,569.6 L360.1,568.7 L360.6,568.2 L361.1,568.1 L361.6,576.0 L362.1,581.3 L362.6,580.9 L363.1,580.1 L363.6,578.9 L364.1,577.6 L364.6,576.1 L365.1,574.8 L365.6,573.6 L366.1,572.8 L366.6,572.4 L367.1,572.6 L367.6,573.1 L368.1,574.0 L368.6,575.3 L369.1,576.8 L369.6,578.5 L370.1,580.5 L370.6,582.6 L371.1,584.9 L371.6,587.2 L372.1,589.6 L372.6,592.0 L373.1,594.4 L373.6,596.8 L374.1,599.0 L374.6,601.1 L375.1,603.0 L375.6,604.6 L376.1,606.1 L376.6,607.2 L377.1,608.0 L377.6,608.5 L378.1,608.5 L378.6,607.8 L379.1,606.5 L379.6,604.6 L380.1,602.2 L380.6,599.3 L381.1,595.9 L381.6,592.1 L382.1,587.9 L382.6,583.4 L383.1,578.6 L383.6,573.7 L384.1,568.5 L384.6,563.2 L385.1,557.8 L385.6,552.4 L386.1,546.9 L386.6,541.6 L387.1,536.3 L387.6,531.1 L388.1,526.2 L388.6,521.5 L389.1,517.1 L389.6,513.0 L390.1,509.3 L390.6,506.0 L391.1,503.2 L391.6,500.8 L392.1,499.1 L392.6,498.0 L393.1,497.5 L393.6,497.7 L394.1,498.5 L394.6,499.9 L395.1,501.9 L395.6,504.4 L396.1,507.3 L396.6,510.5 L397.1,514.1 L397.6,518.0 L398.1,522.1 L398.6,526.4 L399.1,530.7 L399.6,535.2 L400.1,539.6 L400.6,544.0 L401.1,548.4 L401.6,552.5 L402.1,556.5 L402.6,560.2 L403.1,563.6 L403.6,566.6 L404.1,569.3 L404.6,571.4 L405.1,573.1 L405.6,574.2 L406.1,574.6 L406.6,574.5 L407.1,574.0 L407.6,573.2 L408.1,572.1 L408.6,570.8 L409.1,569.2 L409.6,567.4 L410.1,565.5 L410.6,563.4 L411.1,561.3 L411.6,559.1 L412.1,557.0 L412.6,554.8 L413.1,552.7 L413.6,550.7 L414.1,548.9 L414.6,547.2 L415.1,545.7 L415.6,544.4 L416.1,543.4 L416.6,542.8 L417.1,542.5 L417.6,542.5 L418.1,543.0 L418.6,543.9 L419.1,545.2 L419.6,546.8 L420.1,548.7 L420.6,550.8 L421.1,553.3 L421.6,555.9 L422.1,558.7 L422.6,561.7 L423.1,564.9 L423.6,568.1 L424.1,571.4 L424.6,574.7 L425.1,578.1 L425.6,581.4 L426.1,584.7 L426.6,587.9 L427.1,591.0 L427.6,593.9 L428.1,596.7 L428.6,599.3 L429.1,601.7 L429.6,603.8 L430.1,605.7 L430.6,607.2 L431.1,608.4 L431.6,609.2 L432.1,609.6 L432.6,609.5 L433.1,608.8 L433.6,607.5 L434.1,605.6 L434.6,603.1 L435.1,600.2 L435.6,596.8 L436.1,593.0 L436.6,588.9 L437.1,584.5 L437.6,579.8 L438.1,574.8 L438.6,569.7 L439.1,564.4 L439.6,559.1 L440.1,553.7 L440.6,548.3 L441.1,543.0 L441.6,537.7 L442.1,532.6 L442.6,527.6 L443.1,522.9 L443.6,518.4 L444.1,514.3 L444.7,510.5 L445.2,507.1 L445.7,504.1 L446.2,501.6 L446.7,499.7 L447.2,498.3 L447.7,497.6 L448.2,497.5 L448.7,498.1 L449.2,499.3 L449.7,501.0 L450.2,503.3 L450.7,506.0 L451.2,509.1 L451.7,512.6 L452.2,516.3 L452.7,520.3 L453.2,524.5 L453.7,528.9 L454.2,533.3 L454.7,537.8 L455.2,542.2 L455.7,546.5 L456.2,550.8 L456.7,554.8 L457.2,558.7 L457.7,562.2 L458.2,565.4 L458.7,568.2 L459.2,570.6 L459.7,572.5 L460.2,573.8 L460.7,574.5 L461.2,574.6 L461.7,574.3 L462.2,573.6 L462.7,572.6 L463.2,571.4 L463.7,569.9 L464.2,568.2 L464.7,566.3 L465.2,564.3 L465.7,562.2 L466.2,560.0 L466.7,557.9 L467.2,555.7 L467.7,553.6 L468.2,551.5 L468.7,549.6 L469.2,547.9 L469.7,546.3 L470.2,544.9 L470.7,543.8 L471.2,543.0 L471.7,542.6 L472.2,542.4 L472.7,542.8 L473.2,543.5 L473.7,544.6 L474.2,546.0 L474.7,547.8 L475.2,549.9 L475.7,552.2 L476.2,554.8 L476.7,557.5 L477.2,560.5 L477.7,563.5 L478.2,566.7 L478.7,570.0 L479.2,573.3 L479.7,576.7 L480.2,580.0 L480.7,583.3 L481.2,586.5 L481.7,589.7 L482.2,592.7 L482.7,595.6 L483.2,598.3 L483.7,600.7 L484.2,603.0 L484.7,604.9 L485.2,606.6 L485.7,607.9 L486.2,608.9 L486.7,609.5 L487.2,609.6 L487.7,609.2 L488.2,608.1 L488.7,606.5 L489.2,604.2 L489.7,601.5 L490.2,598.3 L490.7,594.7 L491.2,590.7 L491.7,586.4 L492.2,581.8 L492.7,576.9 L493.2,571.9 L493.7,566.7 L494.2,561.4 L494.7,556.0 L495.2,550.6 L495.7,545.2 L496.2,539.9 L496.7,534.7 L497.2,529.7 L497.7,524.9 L498.2,520.3 L498.7,516.0 L499.2,512.0 L499.7,508.5 L500.2,505.3 L500.7,502.6 L501.2,500.5 L501.7,498.8 L502.2,497.8 L502.7,497.5 L503.2,497.8 L503.7,498.7 L504.2,500.2 L504.7,502.3 L505.2,504.8 L505.7,507.8 L506.2,511.1 L506.7,514.7 L507.2,518.6 L507.7,522.8 L508.2,527.0 L508.7,531.4 L509.2,535.9 L509.7,540.3 L510.2,544.7 L510.7,549.0 L511.2,553.1 L511.7,557.1 L512.2,560.7 L512.7,564.1 L513.2,567.1 L513.7,569.6 L514.2,571.7 L514.7,573.3 L515.2,574.3 L515.7,574.6 L516.2,574.5 L516.7,573.9 L517.2,573.1 L517.7,571.9 L518.2,570.5 L518.7,568.9 L519.2,567.1 L519.7,565.2 L520.2,563.1 L520.7,561.0 L521.2,558.8 L521.7,556.6 L522.2,554.5 L522.7,552.4 L523.2,550.4 L523.7,548.6 L524.2,546.9 L524.7,545.5 L525.2,544.3 L525.7,543.3 L526.2,542.7 L526.7,542.4 L527.2,542.6 L527.7,543.1 L528.2,544.1 L528.7,545.4 L529.2,547.0 L529.7,549.0 L530.2,551.2 L530.7,553.7 L531.2,556.3 L531.7,559.2 L532.2,562.2 L532.7,565.4 L533.2,568.6 L533.7,571.9 L534.2,575.2 L534.7,578.6 L535.2,581.9 L535.7,585.2 L536.2,588.4 L536.7,591.5 L537.2,594.4 L537.7,597.2 L538.2,599.7 L538.7,602.1 L539.2,604.1 L539.7,605.9 L540.2,607.4 L540.7,608.5 L541.2,609.3 L541.7,609.6 L542.2,609.5 L542.7,608.7 L543.2,607.2 L543.7,605.2 L544.2,602.7 L544.7,599.7 L545.2,596.3 L545.7,592.4 L546.2,588.2 L546.7,583.7 L547.2,579.0 L547.7,574.0 L548.2,568.9 L548.7,563.6 L549.2,558.3 L549.7,552.9 L550.2,547.5 L550.7,542.2 L551.2,536.9 L551.7,531.8 L552.2,526.9 L552.7,522.2 L553.2,517.8 L553.7,513.7 L554.2,509.9 L554.7,506.6 L555.2,503.7 L555.7,501.3 L556.2,499.5 L556.7,498.2 L557.2,497.5 L557.7,497.6 L558.2,498.2 L558.7,499.5 L559.2,501.3 L559.7,503.7 L560.2,506.5 L560.7,509.6 L561.2,513.1 L561.7,517.0 L562.2,521.0 L562.7,525.2 L563.2,529.6 L563.7,534.0 L564.2,538.4 L564.7,542.9 L565.2,547.2 L565.7,551.4 L566.2,555.4 L566.7,559.2 L567.2,562.7 L567.7,565.9 L568.2,568.6 L568.7,570.9 L569.2,572.7 L569.7,573.9 L570.2,574.6 L570.7,574.6 L571.2,574.2 L571.7,573.5 L572.2,572.4 L572.7,571.1 L573.2,569.6 L573.7,567.9 L574.2,566.0 L574.7,564.0 L575.2,561.9 L575.7,559.7 L576.2,557.5 L576.7,555.4 L577.2,553.3 L577.7,551.2 L578.2,549.3 L578.7,547.6 L579.2,546.0 L579.7,544.7 L580.2,543.7 L580.7,542.9 L581.2,542.5 L581.7,542.5 L582.2,542.9 L582.7,543.6 L583.2,544.8 L583.7,546.3 L584.2,548.1 L584.7,550.2 L585.2,552.6 L585.7,555.2 L586.2,558.0 L586.7,560.9 L587.2,564.0 L587.7,567.2 L588.2,570.5 L588.7,573.8 L589.2,577.2 L589.7,580.5 L590.2,583.8 L590.7,587.0 L591.2,590.2 L591.7,593.2 L592.2,596.0 L592.7,598.7 L593.2,601.1 L593.7,603.3 L594.2,605.2 L594.7,606.8 L595.2,608.1 L595.7,609.0 L596.2,609.5 L596.7,609.6 L597.2,609.1 L597.7,607.9 L598.2,606.1 L598.8,603.8 L599.3,601.0 L599.8,597.8 L600.3,594.1 L600.8,590.0 L601.3,585.7 L601.8,581.0 L602.3,576.1 L602.8,571.1 L603.3,565.9 L603.8,560.5 L604.3,555.2 L604.8,549.8 L605.3,544.4 L605.8,539.1 L606.3,533.9 L606.8,528.9 L607.3,524.2 L607.8,519.6 L608.3,515.4 L608.8,511.5 L609.3,508.0 L609.8,504.9 L610.3,502.3 L610.8,500.2 L611.3,498.6 L611.8,497.7 L612.3,497.5 L612.8,497.9 L613.3,498.9 L613.8,500.5 L614.3,502.6 L614.8,505.2 L615.3,508.2 L615.8,511.6 L616.3,515.3 L616.8,519.3 L617.3,523.4 L617.8,527.7 L618.3,532.1 L618.8,536.6 L619.3,541.0 L619.8,545.4 L620.3,549.7 L620.8,553.8 L621.3,557.7 L621.8,561.3 L622.3,564.6 L622.8,567.5 L623.3,570.0 L623.8,572.0 L624.3,573.5 L624.8,574.4 L625.3,574.6 L625.8,574.4 L626.3,573.8 L626.8,572.9 L627.3,571.7 L627.8,570.3 L628.3,568.6 L628.8,566.8 L629.3,564.8 L629.8,562.8 L630.3,560.6 L630.8,558.5 L631.3,556.3 L631.8,554.1 L632.3,552.1 L632.8,550.1 L633.3,548.3 L633.8,546.7 L634.3,545.3 L634.8,544.1 L635.3,543.2 L635.8,542.6 L636.3,542.4 L636.8,542.6 L637.3,543.3 L637.8,544.3 L638.3,545.6 L638.8,547.3 L639.3,549.3 L639.8,551.6 L640.3,554.1 L640.8,556.8 L641.3,559.7 L641.8,562.7 L642.3,565.9 L642.8,569.1 L643.3,572.4 L643.8,575.8 L644.3,579.1 L644.8,582.4 L645.3,585.7 L645.8,588.9 L646.3,591.9 L646.8,594.8 L647.3,597.6 L647.8,600.1 L648.3,602.4 L648.8,604.4 L649.3,606.2 L649.8,607.6 L650.3,608.7 L650.8,609.4 L651.3,609.6 L651.8,609.4 L652.3,608.5 L652.8,607.0 L653.3,604.9 L653.8,602.3 L654.3,599.2 L654.8,595.7 L655.3,591.8 L655.8,587.6 L656.3,583.0 L656.8,578.2 L657.3,573.2 L657.8,568.1 L658.3,562.8 L658.8,557.4 L659.3,552.0 L659.8,546.7 L660.3,541.3 L660.8,536.1 L661.3,531.0 L661.8,526.1 L662.3,521.5 L662.8,517.1 L663.3,513.1 L663.8,509.4 L664.3,506.1 L664.8,503.3 L665.3,501.0 L665.8,499.2 L666.3,498.0 L666.8,497.5 L667.3,497.6 L667.8,498.4 L668.3,499.8 L668.8,501.7 L669.3,504.1 L669.8,506.9 L670.3,510.2 L670.8,513.7 L671.3,517.6 L671.8,521.6 L672.3,525.9 L672.8,530.2 L673.3,534.7 L673.8,539.1 L674.3,543.6 L674.8,547.9 L675.3,552.1" stroke="#0000ff" stroke-width="1.80" fill="none" stroke-linejoin="round" clip-path="url(#c2)"/>
<path d="M59.4,581.9 L59.9,571.4 L60.4,561.4 L60.9,552.1 L61.4,543.6 L61.9,536.0 L62.4,529.3 L62.9,523.7 L63.4,519.3 L63.9,516.2 L64.4,514.5 L64.9,514.2 L65.4,515.6 L65.9,518.5 L66.4,522.6 L66.9,527.9 L67.4,533.9 L67.9,540.6 L68.4,547.8 L68.9,555.1 L69.4,562.5 L69.9,569.6 L70.4,576.3 L70.9,582.4 L71.4,587.7 L71.9,591.9 L72.4,594.8 L72.9,596.2 L73.4,596.3 L73.9,596.2 L74.4,596.0 L74.9,595.8 L75.4,595.4 L75.9,595.1 L76.4,594.7 L76.9,594.3 L77.4,593.8 L77.9,593.4 L78.4,592.6 L78.9,591.7 L79.4,590.4 L79.9,589.0 L80.4,587.4 L80.9,585.6 L81.4,583.7 L81.9,581.8 L82.4,579.7 L82.9,577.7 L83.4,575.7 L83.9,573.7 L84.4,571.9 L84.9,570.1 L85.4,568.5 L85.9,567.0 L86.4,565.8 L86.9,564.8 L87.4,564.0 L87.9,563.6 L88.4,563.6 L88.9,564.0 L89.4,564.8 L89.9,566.2 L90.4,567.9 L90.9,570.0 L91.4,572.4 L91.9,575.1 L92.4,578.0 L92.9,581.2 L93.4,584.5 L93.9,588.0 L94.4,591.6 L94.9,595.2 L95.4,598.9 L95.9,602.6 L96.4,606.2 L96.9,609.7 L97.4,613.1 L97.9,616.3 L98.4,619.3 L98.9,622.1 L99.4,624.6 L99.9,626.8 L100.4,628.7 L100.9,630.1 L101.4,631.2 L101.9,631.7 L102.4,631.8 L102.9,631.3 L103.4,630.1 L103.9,628.4 L104.4,626.3 L104.9,623.6 L105.4,620.5 L105.9,617.1 L106.4,613.3 L106.9,609.2 L107.4,604.9 L107.9,600.3 L108.4,595.6 L108.9,590.8 L109.4,585.8 L109.9,580.9 L110.4,575.9 L110.9,570.9 L111.4,566.1 L111.9,561.3 L112.4,556.8 L112.9,552.4 L113.4,548.3 L113.9,544.4 L114.4,540.9 L114.9,537.8 L115.4,535.1 L115.9,532.8 L116.4,531.1 L116.9,529.8 L117.4,529.2 L117.9,529.2 L118.4,529.6 L118.9,530.5 L119.4,531.9 L119.9,533.6 L120.4,535.6 L120.9,538.0 L121.4,540.6 L121.9,543.5 L122.4,546.6 L122.9,549.9 L123.4,553.3 L123.9,556.8 L124.4,560.4 L124.9,564.0 L125.4,567.6 L125.9,571.2 L126.4,574.7 L126.9,578.1 L127.4,581.4 L127.9,584.5 L128.4,587.4 L128.9,590.0 L129.4,592.4 L129.9,594.5 L130.4,596.2 L130.9,597.6 L131.4,598.5 L131.9,599.0 L132.4,599.0 L132.9,598.5 L133.4,597.6 L133.9,596.2 L134.4,594.5 L134.9,592.5 L135.4,590.2 L135.9,587.8 L136.5,585.2 L137.0,582.6 L137.5,579.9 L138.0,577.2 L138.5,574.6 L139.0,572.2 L139.5,569.9 L140.0,567.9 L140.5,566.2 L141.0,564.8 L141.5,563.8 L142.0,563.3 L142.5,563.3 L143.0,563.8 L143.5,564.7 L144.0,566.1 L144.5,567.8 L145.0,569.8 L145.5,572.2 L146.0,574.8 L146.5,577.7 L147.0,580.8 L147.5,584.1 L148.0,587.5 L148.5,590.9 L149.0,594.5 L149.5,598.1 L150.0,601.7 L150.5,605.3 L151.0,608.8 L151.5,612.2 L152.0,615.4 L152.5,618.5 L153.0,621.4 L153.5,624.0 L154.0,626.4 L154.5,628.4 L155.0,630.2 L155.5,631.5 L156.0,632.4 L156.5,632.9 L157.0,632.9 L157.5,632.3 L158.0,631.1 L158.5,629.4 L159.0,627.2 L159.5,624.5 L160.0,621.5 L160.5,618.1 L161.0,614.3 L161.5,610.3 L162.0,606.0 L162.5,601.5 L163.0,596.8 L163.5,592.0 L164.0,587.1 L164.5,582.2 L165.0,577.2 L165.5,572.3 L166.0,567.4 L166.5,562.7 L167.0,558.1 L167.5,553.7 L168.0,549.6 L168.5,545.7 L169.0,542.1 L169.5,538.9 L170.0,536.0 L170.5,533.6 L171.0,531.7 L171.5,530.3 L172.0,529.4 L172.5,529.1 L173.0,529.4 L173.5,530.1 L174.0,531.3 L174.5,532.8 L175.0,534.7 L175.5,537.0 L176.0,539.5 L176.5,542.3 L177.0,545.3 L177.5,548.5 L178.0,551.8 L178.5,555.3 L179.0,558.8 L179.5,562.4 L180.0,566.1 L180.5,569.7 L181.0,573.2 L181.5,576.7 L182.0,580.0 L182.5,583.2 L183.0,586.2 L183.5,588.9 L184.0,591.4 L184.5,593.7 L185.0,595.5 L185.5,597.1 L186.0,598.2 L186.5,598.9 L187.0,599.1 L187.5,598.8 L188.0,598.0 L188.5,596.8 L189.0,595.3 L189.5,593.4 L190.0,591.2 L190.5,588.9 L191.0,586.3 L191.5,583.7 L192.0,581.0 L192.5,578.3 L193.0,575.7 L193.5,573.2 L194.0,570.8 L194.5,568.7 L195.0,566.9 L195.5,565.3 L196.0,564.2 L196.5,563.5 L197.0,563.3 L197.5,563.5 L198.0,564.3 L198.5,565.5 L199.0,567.0 L199.5,568.9 L200.0,571.2 L200.5,573.7 L201.0,576.5 L201.5,579.5 L202.0,582.7 L202.5,586.0 L203.0,589.5 L203.5,593.0 L204.0,596.6 L204.5,600.2 L205.0,603.8 L205.5,607.3 L206.0,610.7 L206.5,614.1 L207.0,617.2 L207.5,620.2 L208.0,622.9 L208.5,625.4 L209.0,627.6 L209.5,629.5 L210.0,631.0 L210.5,632.1 L211.0,632.8 L211.5,633.0 L212.0,632.6 L212.5,631.7 L213.0,630.2 L213.5,628.2 L214.0,625.7 L214.5,622.8 L215.0,619.5 L215.5,615.9 L216.0,612.0 L216.5,607.8 L217.0,603.4 L217.5,598.8 L218.0,594.0 L218.5,589.2 L219.0,584.2 L219.5,579.3 L220.0,574.4 L220.5,569.5 L221.0,564.7 L221.5,560.0 L222.0,555.6 L222.5,551.3 L223.0,547.3 L223.5,543.6 L224.0,540.2 L224.5,537.2 L225.0,534.6 L225.5,532.4 L226.0,530.8 L226.5,529.7 L227.0,529.2 L227.5,529.2 L228.0,529.7 L228.5,530.7 L229.0,532.1 L229.5,533.9 L230.0,536.0 L230.5,538.4 L231.0,541.1 L231.5,544.0 L232.0,547.1 L232.5,550.4 L233.0,553.8 L233.5,557.3 L234.0,560.9 L234.5,564.5 L235.0,568.2 L235.5,571.7 L236.0,575.2 L236.5,578.6 L237.0,581.9 L237.5,584.9 L238.0,587.8 L238.5,590.4 L239.0,592.8 L239.5,594.8 L240.0,596.5 L240.5,597.7 L241.0,598.6 L241.5,599.0 L242.0,599.0 L242.5,598.4 L243.0,597.4 L243.5,596.0 L244.0,594.2 L244.5,592.2 L245.0,589.9 L245.5,587.4 L246.0,584.8 L246.5,582.1 L247.0,579.5 L247.5,576.8 L248.0,574.2 L248.5,571.8 L249.0,569.6 L249.5,567.6 L250.0,565.9 L250.5,564.6 L251.0,563.7 L251.5,563.3 L252.0,563.4 L252.5,563.9 L253.0,564.9 L253.5,566.3 L254.0,568.1 L254.5,570.2 L255.0,572.6 L255.5,575.3 L256.0,578.2 L256.5,581.3 L257.0,584.6 L257.5,588.0 L258.0,591.5 L258.5,595.1 L259.0,598.7 L259.5,602.3 L260.0,605.8 L260.5,609.3 L261.0,612.7 L261.5,615.9 L262.0,619.0 L262.5,621.8 L263.0,624.4 L263.5,626.7 L264.0,628.7 L264.5,630.4 L265.0,631.7 L265.5,632.5 L266.0,632.9 L266.5,632.8 L267.0,632.1 L267.5,630.9 L268.0,629.1 L268.5,626.8 L269.0,624.1 L269.5,621.0 L270.0,617.5 L270.5,613.7 L271.0,609.6 L271.5,605.3 L272.0,600.7 L272.5,596.1 L273.0,591.2 L273.5,586.3 L274.0,581.4 L274.5,576.4 L275.0,571.5 L275.5,566.7 L276.0,562.0 L276.5,557.4 L277.0,553.1 L277.5,548.9 L278.0,545.1 L278.5,541.6 L279.0,538.4 L279.5,535.6 L280.0,533.3 L280.5,531.4 L281.0,530.1 L281.5,529.3 L282.0,529.1 L282.5,529.5 L283.0,530.3 L283.5,531.5 L284.0,533.1 L284.5,535.1 L285.0,537.3 L285.5,539.9 L286.0,542.7 L286.5,545.8 L287.0,549.0 L287.5,552.4 L288.0,555.8 L288.5,559.4 L289.0,563.0 L289.5,566.6 L290.0,570.2 L290.6,573.8 L291.1,577.2 L291.6,580.5 L292.1,583.7 L292.6,586.6 L293.1,589.3 L293.6,591.8 L294.1,594.0 L294.6,595.8 L295.1,597.3 L295.6,598.3 L296.1,598.9 L296.6,599.1 L297.1,598.7 L297.6,597.9 L298.1,596.6 L298.6,595.0 L299.1,593.1 L299.6,590.9 L300.1,588.5 L300.6,585.9 L301.1,583.3 L301.6,580.6 L302.1,577.9 L302.6,575.3 L303.1,572.8 L303.6,570.5 L304.1,568.4 L304.6,566.6 L305.1,565.1 L305.6,564.1 L306.1,563.4 L306.6,563.3 L307.1,563.6 L307.6,564.4 L308.1,565.7 L308.6,567.3 L309.1,569.3 L309.6,571.5 L310.1,574.1 L310.6,576.9 L311.1,580.0 L311.6,583.2 L312.1,586.5 L312.6,590.0 L313.1,593.6 L313.6,597.2 L314.1,600.8 L314.6,604.3 L315.1,607.8 L315.6,611.3 L316.1,614.6 L316.6,617.7 L317.1,620.6 L317.6,623.3 L318.1,625.8 L318.6,627.9 L319.1,629.7 L319.6,631.2 L320.1,632.2 L320.6,632.8 L321.1,632.9 L321.6,632.5 L322.1,631.5 L322.6,629.9 L323.1,627.8 L323.6,625.3 L324.1,622.3 L324.6,619.0 L325.1,615.3 L325.6,611.4 L326.1,607.1 L326.6,602.7 L327.1,598.1 L327.6,593.3 L328.1,588.4 L328.6,583.5 L329.1,578.5 L329.6,573.6 L330.1,568.7 L330.6,564.0 L331.1,559.3 L331.6,554.9 L332.1,550.7 L332.6,546.7 L333.1,543.0 L333.6,539.7 L334.1,536.7 L334.6,534.2 L335.1,532.2 L335.6,530.6 L336.1,529.6 L336.6,529.1 L337.1,529.3 L337.6,529.9 L338.1,530.9 L338.6,532.4 L339.1,534.2 L339.6,536.3 L340.1,538.8 L340.6,541.5 L341.1,544.5 L341.6,547.6 L342.1,550.9 L342.6,554.4 L343.1,557.9 L343.6,561.5 L344.1,565.1 L344.6,568.7 L345.1,572.3 L345.6,575.8 L346.1,579.1 L346.6,582.4 L347.1,585.4 L347.6,588.2 L348.1,590.8 L348.6,593.1 L349.1,595.1 L349.6,596.7 L350.1,597.9 L350.6,598.7 L351.1,599.1 L351.6,598.9 L352.1,598.3 L352.6,597.2 L353.1,595.7 L353.6,593.9 L354.1,591.8 L354.6,589.5 L355.1,587.0 L355.6,584.4 L356.1,581.7 L356.6,579.0 L357.1,576.4 L357.6,573.8 L358.1,571.5 L358.6,569.3 L359.1,567.3 L359.6,565.7 L360.1,564.5 L360.6,563.6 L361.1,563.3 L361.6,563.4 L362.1,564.0 L362.6,565.1 L363.1,566.6 L363.6,568.4 L364.1,570.5 L364.6,573.0 L365.1,575.7 L365.6,578.7 L366.1,581.8 L366.6,585.1 L367.1,588.5 L367.6,592.1 L368.1,595.6 L368.6,599.2 L369.1,602.8 L369.6,606.4 L370.1,609.8 L370.6,613.2 L371.1,616.4 L371.6,619.4 L372.1,622.2 L372.6,624.8 L373.1,627.1 L373.6,629.0 L374.1,630.6 L374.6,631.8 L375.1,632.6 L375.6,632.9 L376.1,632.8 L376.6,632.0 L377.1,630.6 L377.6,628.8 L378.1,626.4 L378.6,623.6 L379.1,620.5 L379.6,616.9 L380.1,613.1 L380.6,608.9 L381.1,604.6 L381.6,600.0 L382.1,595.3 L382.6,590.5 L383.1,585.6 L383.6,580.6 L384.1,575.7 L384.6,570.8 L385.1,566.0 L385.6,561.3 L386.1,556.7 L386.6,552.4 L387.1,548.3 L387.6,544.5 L388.1,541.1 L388.6,537.9 L389.1,535.2 L389.6,533.0 L390.1,531.2 L390.6,529.9 L391.1,529.2 L391.6,529.1 L392.1,529.6 L392.6,530.4 L393.1,531.7 L393.6,533.4 L394.1,535.4 L394.6,537.7 L395.1,540.3 L395.6,543.2 L396.1,546.3 L396.6,549.5 L397.1,552.9 L397.6,556.4 L398.1,560.0 L398.6,563.6 L399.1,567.2 L399.6,570.8 L400.1,574.3 L400.6,577.7 L401.1,581.0 L401.6,584.1 L402.1,587.1 L402.6,589.7 L403.1,592.2 L403.6,594.3 L404.1,596.0 L404.6,597.4 L405.1,598.4 L405.6,599.0 L406.1,599.0 L406.6,598.6 L407.1,597.7 L407.6,596.4 L408.1,594.7 L408.6,592.7 L409.1,590.5 L409.6,588.1 L410.1,585.5 L410.6,582.9 L411.1,580.2 L411.6,577.5 L412.1,574.9 L412.6,572.4 L413.1,570.2 L413.6,568.1 L414.1,566.4 L414.6,564.9 L415.1,563.9 L415.6,563.4 L416.1,563.3 L416.6,563.7 L417.1,564.6 L417.6,565.9 L418.1,567.6 L418.6,569.6 L419.1,571.9 L419.6,574.5 L420.1,577.4 L420.6,580.4 L421.1,583.7 L421.6,587.1 L422.1,590.6 L422.6,594.1 L423.1,597.7 L423.6,601.3 L424.1,604.9 L424.6,608.4 L425.1,611.8 L425.6,615.1 L426.1,618.2 L426.6,621.1 L427.1,623.7 L427.6,626.1 L428.1,628.2 L428.6,630.0 L429.1,631.4 L429.6,632.3 L430.1,632.9 L430.6,632.9 L431.1,632.4 L431.6,631.2 L432.1,629.6 L432.6,627.5 L433.1,624.9 L433.6,621.8 L434.1,618.5 L434.6,614.7 L435.1,610.7 L435.6,606.5 L436.1,602.0 L436.6,597.3 L437.1,592.5 L437.6,587.6 L438.1,582.7 L438.6,577.8 L439.1,572.8 L439.6,568.0 L440.1,563.2 L440.6,558.6 L441.1,554.2 L441.6,550.0 L442.1,546.1 L442.6,542.5 L443.1,539.2 L443.6,536.3 L444.1,533.9 L444.7,531.9 L445.2,530.4 L445.7,529.5 L446.2,529.1 L446.7,529.3 L447.2,530.0 L447.7,531.1 L448.2,532.6 L448.7,534.5 L449.2,536.7 L449.7,539.2 L450.2,542.0 L450.7,544.9 L451.2,548.1 L451.7,551.4 L452.2,554.9 L452.7,558.4 L453.2,562.0 L453.7,565.7 L454.2,569.3 L454.7,572.8 L455.2,576.3 L455.7,579.6 L456.2,582.8 L456.7,585.9 L457.2,588.6 L457.7,591.2 L458.2,593.4 L458.7,595.3 L459.2,596.9 L459.7,598.1 L460.2,598.8 L460.7,599.1 L461.2,598.8 L461.7,597.9 L462.2,596.5 L462.7,594.6 L463.2,592.3 L463.7,589.7 L464.2,587.0 L464.7,584.0 L465.2,581.0 L465.7,578.1 L466.2,575.2 L466.7,572.5 L467.2,570.0 L467.7,567.9 L468.2,566.1 L468.7,564.9 L469.2,564.2 L469.7,571.2 L470.2,580.8 L470.7,564.3 L471.2,563.3 L471.7,563.0 L472.2,563.3 L472.7,564.1 L473.2,565.4 L473.7,567.2 L474.2,569.4 L474.7,571.9 L475.2,574.7 L475.7,577.9 L476.2,581.2 L476.7,584.7 L477.2,588.4 L477.7,592.2 L478.2,596.1 L478.7,599.9 L479.2,603.8 L479.7,607.6 L480.2,611.3 L480.7,614.8 L481.2,618.1 L481.7,621.3 L482.2,624.1 L482.7,626.6 L483.2,628.8 L483.7,630.5 L484.2,631.8 L484.7,632.7 L485.2,633.0 L485.7,632.7 L486.2,631.8 L486.7,630.4 L487.2,628.4 L487.7,626.0 L488.2,623.2 L488.7,619.9 L489.2,616.3 L489.7,612.4 L490.2,608.3 L490.7,603.9 L491.2,599.3 L491.7,594.6 L492.2,589.7 L492.7,584.8 L493.2,579.8 L493.7,574.9 L494.2,570.0 L494.7,565.2 L495.2,560.6 L495.7,556.1 L496.2,551.8 L496.7,547.7 L497.2,544.0 L497.7,540.5 L498.2,537.5 L498.7,534.9 L499.2,532.7 L499.7,531.0 L500.2,529.8 L500.7,529.2 L501.2,529.2 L501.7,529.7 L502.2,530.6 L502.7,531.9 L503.2,533.7 L503.7,535.7 L504.2,538.1 L504.7,540.8 L505.2,543.7 L505.7,546.8 L506.2,550.0 L506.7,553.4 L507.2,556.9 L507.7,560.5 L508.2,564.1 L508.7,567.8 L509.2,571.3 L509.7,574.8 L510.2,578.2 L510.7,581.5 L511.2,584.6 L511.7,587.5 L512.2,590.1 L512.7,592.5 L513.2,594.6 L513.7,596.3 L514.2,597.6 L514.7,598.5 L515.2,599.0 L515.7,599.0 L516.2,598.5 L516.7,597.5 L517.2,596.1 L517.7,594.4 L518.2,592.4 L518.7,590.1 L519.2,587.7 L519.7,585.1 L520.2,582.4 L520.7,579.8 L521.2,577.1 L521.7,574.5 L522.2,572.1 L522.7,569.8 L523.2,567.8 L523.7,566.1 L524.2,564.8 L524.7,563.8 L525.2,563.3 L525.7,563.3 L526.2,563.8 L526.7,564.8 L527.2,566.1 L527.7,567.9 L528.2,569.9 L528.7,572.3 L529.2,575.0 L529.7,577.8 L530.2,580.9 L530.7,584.2 L531.2,587.6 L531.7,591.1 L532.2,594.7 L532.7,598.3 L533.2,601.9 L533.7,605.4 L534.2,608.9 L534.7,612.3 L535.2,615.6 L535.7,618.6 L536.2,621.5 L536.7,624.1 L537.2,626.5 L537.7,628.5 L538.2,630.2 L538.7,631.5 L539.2,632.4 L539.7,632.9 L540.2,632.9 L540.7,632.2 L541.2,631.0 L541.7,629.3 L542.2,627.1 L542.7,624.4 L543.2,621.3 L543.7,617.9 L544.2,614.1 L544.7,610.1 L545.2,605.8 L545.7,601.3 L546.2,596.6 L546.7,591.8 L547.2,586.9 L547.7,581.9 L548.2,577.0 L548.7,572.1 L549.2,567.2 L549.7,562.5 L550.2,557.9 L550.7,553.5 L551.2,549.4 L551.7,545.5 L552.2,541.9 L552.7,538.7 L553.2,535.9 L553.7,533.5 L554.2,531.6 L554.7,530.2 L555.2,529.4 L555.7,529.1 L556.2,529.4 L556.7,530.1 L557.2,531.3 L557.7,532.9 L558.2,534.8 L558.7,537.1 L559.2,539.6 L559.7,542.4 L560.2,545.4 L560.7,548.6 L561.2,552.0 L561.7,555.4 L562.2,559.0 L562.7,562.6 L563.2,566.2 L563.7,569.8 L564.2,573.4 L564.7,576.8 L565.2,580.2 L565.7,583.3 L566.2,586.3 L566.7,589.1 L567.2,591.5 L567.7,593.7 L568.2,595.6 L568.7,597.1 L569.2,598.2 L569.7,598.9 L570.2,599.1 L570.7,598.8 L571.2,598.0 L571.7,596.8 L572.2,595.2 L572.7,593.3 L573.2,591.1 L573.7,588.7 L574.2,586.2 L574.7,583.6 L575.2,580.9 L575.7,578.2 L576.2,575.6 L576.7,573.1 L577.2,570.7 L577.7,568.6 L578.2,566.8 L578.7,565.3 L579.2,564.2 L579.7,563.5 L580.2,563.3 L580.7,563.6 L581.2,564.3 L581.7,565.5 L582.2,567.1 L582.7,569.0 L583.2,571.3 L583.7,573.8 L584.2,576.6 L584.7,579.6 L585.2,582.8 L585.7,586.2 L586.2,589.6 L586.7,593.2 L587.2,596.8 L587.7,600.4 L588.2,603.9 L588.7,607.5 L589.2,610.9 L589.7,614.2 L590.2,617.4 L590.7,620.3 L591.2,623.1 L591.7,625.5 L592.2,627.7 L592.7,629.6 L593.2,631.0 L593.7,632.1 L594.2,632.8 L594.7,633.0 L595.2,632.6 L595.7,631.6 L596.2,630.1 L596.7,628.1 L597.2,625.6 L597.7,622.7 L598.2,619.4 L598.8,615.8 L599.3,611.8 L599.8,607.6 L600.3,603.2 L600.8,598.6 L601.3,593.8 L601.8,589.0 L602.3,584.0 L602.8,579.1 L603.3,574.1 L603.8,569.3 L604.3,564.5 L604.8,559.8 L605.3,555.4 L605.8,551.1 L606.3,547.1 L606.8,543.4 L607.3,540.0 L607.8,537.1 L608.3,534.5 L608.8,532.4 L609.3,530.7 L609.8,529.7 L610.3,529.1 L610.8,529.2 L611.3,529.8 L611.8,530.8 L612.3,532.2 L612.8,534.0 L613.3,536.1 L613.8,538.5 L614.3,541.2 L614.8,544.1 L615.3,547.2 L615.8,550.5 L616.3,554.0 L616.8,557.5 L617.3,561.1 L617.8,564.7 L618.3,568.3 L618.8,571.9 L619.3,575.4 L619.8,578.8 L620.3,582.0 L620.8,585.1 L621.3,587.9 L621.8,590.5 L622.3,592.9 L622.8,594.9 L623.3,596.5 L623.8,597.8 L624.3,598.7 L624.8,599.1 L625.3,599.0 L625.8,598.4 L626.3,597.3 L626.8,595.9 L627.3,594.1 L627.8,592.1 L628.3,589.8 L628.8,587.3 L629.3,584.7 L629.8,582.0 L630.3,579.3 L630.8,576.7 L631.3,574.1 L631.8,571.7 L632.3,569.5 L632.8,567.5 L633.3,565.9 L633.8,564.6 L634.3,563.7 L634.8,563.3 L635.3,563.4 L635.8,564.0 L636.3,565.0 L636.8,566.4 L637.3,568.2 L637.8,570.3 L638.3,572.7 L638.8,575.4 L639.3,578.3 L639.8,581.4 L640.3,584.7 L640.8,588.1 L641.3,591.7 L641.8,595.2 L642.3,598.8 L642.8,602.4 L643.3,606.0 L643.8,609.5 L644.3,612.8 L644.8,616.1 L645.3,619.1 L645.8,621.9 L646.3,624.5 L646.8,626.8 L647.3,628.8 L647.8,630.5 L648.3,631.7 L648.8,632.6 L649.3,632.9 L649.8,632.8 L650.3,632.1 L650.8,630.8 L651.3,629.0 L651.8,626.7 L652.3,624.0 L652.8,620.8 L653.3,617.3 L653.8,613.5 L654.3,609.4 L654.8,605.1 L655.3,600.5 L655.8,595.8 L656.3,591.0 L656.8,586.1 L657.3,581.2 L657.8,576.2 L658.3,571.3 L658.8,566.5 L659.3,561.8 L659.8,557.2 L660.3,552.9 L660.8,548.8 L661.3,544.9 L661.8,541.4 L662.3,538.3 L662.8,535.5 L663.3,533.2 L663.8,531.4 L664.3,530.0 L664.8,529.3 L665.3,529.1 L665.8,529.5 L666.3,530.3 L666.8,531.5 L667.3,533.2 L667.8,535.1 L668.3,537.4 L668.8,540.0 L669.3,542.9 L669.8,545.9 L670.3,549.1 L670.8,552.5 L671.3,556.0 L671.8,559.6 L672.3,563.2 L672.8,566.8 L673.3,570.4 L673.8,573.9 L674.3,577.3 L674.8,580.7 L675.3,583.8" stroke="#ff0000" stroke-width="1.80" fill="none" stroke-linejoin="round" clip-path="url(#c2)"/>
<path d="M59.40 637.40v-6.2M59.40 470.80v6.2M127.83 637.40v-6.2M127.83 470.80v6.2M196.27 637.40v-6.2M196.27 470.80v6.2M264.70 637.40v-6.2M264.70 470.80v6.2M333.13 637.40v-6.2M333.13 470.80v6.2M401.57 637.40v-6.2M401.57 470.80v6.2M470.00 637.40v-6.2M470.00 470.80v6.2M538.43 637.40v-6.2M538.43 470.80v6.2M606.87 637.40v-6.2M606.87 470.80v6.2M675.30 637.40v-6.2M675.30 470.80v6.2M59.40 637.40h6.2M675.30 637.40h-6.2M59.40 581.87h6.2M675.30 581.87h-6.2M59.40 526.33h6.2M675.30 526.33h-6.2M59.40 470.80h6.2M675.30 470.80h-6.2" stroke="#262626" stroke-width="1" fill="none"/>
<rect x="59.40" y="470.80" width="615.90" height="166.60" stroke="#262626" stroke-width="1.2" fill="none"/>
<text x="59.40" y="658.80" font-size="16.0" text-anchor="middle" fill="#262626">0</text>
<text x="127.83" y="658.80" font-size="16.0" text-anchor="middle" fill="#262626">5</text>
<text x="196.27" y="658.80" font-size="16.0" text-anchor="middle" fill="#262626">10</text>
<text x="264.70" y="658.80" font-size="16.0" text-anchor="middle" fill="#262626">15</text>
<text x="333.13" y="658.80" font-size="16.0" text-anchor="middle" fill="#262626">20</text>
<text x="401.57" y="658.80" font-size="16.0" text-anchor="middle" fill="#262626">25</text>
<text x="470.00" y="658.80" font-size="16.0" text-anchor="middle" fill="#262626">30</text>
<text x="538.43" y="658.80" font-size="16.0" text-anchor="middle" fill="#262626">35</text>
<text x="606.87" y="658.80" font-size="16.0" text-anchor="middle" fill="#262626">40</text>
<text x="675.30" y="658.80" font-size="16.0" text-anchor="middle" fill="#262626">45</text>
<text x="54.80" y="644.15" font-size="16.0" text-anchor="end" fill="#262626">-1</text>
<text x="54.80" y="588.62" font-size="16.0" text-anchor="end" fill="#262626">0</text>
<text x="54.80" y="533.08" font-size="16.0" text-anchor="end" fill="#262626">1</text>
<text x="54.80" y="477.55" font-size="16.0" text-anchor="end" fill="#262626">2</text>
<defs><clipPath id="c3"><rect x="59.40" y="703.20" width="615.90" height="166.60"/></clipPath></defs>
<path d="M127.83 703.20V869.80M196.27 703.20V869.80M264.70 703.20V869.80M333.13 703.20V869.80M401.57 703.20V869.80M470.00 703.20V869.80M538.43 703.20V869.80M606.87 703.20V869.80M59.40 828.15H675.30M59.40 786.50H675.30M59.40 744.85H675.30" stroke="#e0e0e0" stroke-width="1" fill="none"/>
<path d="M59.4,805.7 L59.9,810.0 L60.4,814.0 L60.9,817.8 L61.4,821.3 L61.9,824.5 L62.4,827.3 L62.9,829.6 L63.4,831.6 L63.9,833.0 L64.4,834.0 L64.9,834.4 L65.4,834.2 L65.9,833.2 L66.4,831.5 L66.9,829.3 L67.4,826.5 L67.9,823.2 L68.4,819.6 L68.9,815.6 L69.4,811.4 L69.9,806.9 L70.4,802.4 L70.9,797.9 L71.4,793.3 L71.9,788.9 L72.4,784.6 L72.9,780.6 L73.4,776.9 L73.9,773.6 L74.4,770.7 L74.9,768.4 L75.4,766.7 L75.9,765.6 L76.4,765.3 L76.9,765.9 L77.4,767.5 L77.9,769.6 L78.4,771.9 L78.9,774.1 L79.4,776.0 L79.9,778.0 L80.4,780.1 L80.9,782.4 L81.4,784.8 L81.9,787.2 L82.4,789.5 L82.9,791.9 L83.4,794.0 L83.9,796.1 L84.4,797.9 L84.9,799.5 L85.4,800.7 L85.9,801.7 L86.4,802.2 L86.9,802.3 L87.4,802.0 L87.9,801.4 L88.4,800.4 L88.9,799.2 L89.4,797.6 L89.9,795.9 L90.4,793.9 L90.9,791.7 L91.4,789.3 L91.9,786.9 L92.4,784.2 L92.9,781.5 L93.4,778.8 L93.9,776.0 L94.4,773.2 L94.9,770.4 L95.4,767.6 L95.9,764.9 L96.4,762.3 L96.9,759.8 L97.4,757.5 L97.9,755.3 L98.4,753.3 L98.9,751.6 L99.4,750.0 L99.9,748.8 L100.4,747.9 L100.9,747.2 L101.4,746.9 L101.9,747.1 L102.4,747.7 L102.9,748.7 L103.4,750.2 L103.9,752.0 L104.4,754.2 L104.9,756.7 L105.4,759.5 L105.9,762.5 L106.4,765.8 L106.9,769.2 L107.4,772.8 L107.9,776.6 L108.4,780.4 L108.9,784.4 L109.4,788.3 L109.9,792.3 L110.4,796.2 L110.9,800.1 L111.4,803.8 L111.9,807.5 L112.4,811.0 L112.9,814.3 L113.4,817.4 L113.9,820.3 L114.4,822.8 L114.9,825.1 L115.4,827.0 L115.9,828.6 L116.4,829.7 L116.9,830.4 L117.4,830.6 L117.9,830.4 L118.4,829.7 L118.9,828.6 L119.4,827.1 L119.9,825.2 L120.4,823.1 L120.9,820.6 L121.4,818.0 L121.9,815.1 L122.4,812.1 L122.9,808.9 L123.4,805.7 L123.9,802.4 L124.4,799.1 L124.9,795.8 L125.4,792.6 L125.9,789.4 L126.4,786.4 L126.9,783.6 L127.4,781.0 L127.9,778.6 L128.4,776.5 L128.9,774.7 L129.4,773.3 L129.9,772.3 L130.4,771.7 L130.9,771.5 L131.4,771.8 L131.9,772.4 L132.4,773.3 L132.9,774.5 L133.4,775.9 L133.9,777.5 L134.4,779.2 L134.9,781.1 L135.4,783.1 L135.9,785.1 L136.5,787.2 L137.0,789.2 L137.5,791.2 L138.0,793.1 L138.5,794.8 L139.0,796.4 L139.5,797.8 L140.0,799.0 L140.5,799.8 L141.0,800.4 L141.5,800.7 L142.0,800.5 L142.5,800.0 L143.0,799.2 L143.5,798.1 L144.0,796.8 L144.5,795.1 L145.0,793.3 L145.5,791.3 L146.0,789.0 L146.5,786.7 L147.0,784.2 L147.5,781.6 L148.0,779.0 L148.5,776.3 L149.0,773.5 L149.5,770.8 L150.0,768.1 L150.5,765.5 L151.0,762.9 L151.5,760.5 L152.0,758.1 L152.5,755.9 L153.0,753.9 L153.5,752.1 L154.0,750.5 L154.5,749.2 L155.0,748.2 L155.5,747.4 L156.0,747.0 L156.5,747.0 L157.0,747.4 L157.5,748.2 L158.0,749.5 L158.5,751.2 L159.0,753.2 L159.5,755.6 L160.0,758.2 L160.5,761.2 L161.0,764.4 L161.5,767.7 L162.0,771.3 L162.5,775.0 L163.0,778.8 L163.5,782.7 L164.0,786.6 L164.5,790.6 L165.0,794.5 L165.5,798.4 L166.0,802.3 L166.5,806.0 L167.0,809.5 L167.5,812.9 L168.0,816.1 L168.5,819.1 L169.0,821.8 L169.5,824.2 L170.0,826.2 L170.5,828.0 L171.0,829.3 L171.5,830.2 L172.0,830.6 L172.5,830.6 L173.0,830.0 L173.5,829.1 L174.0,827.8 L174.5,826.0 L175.0,824.0 L175.5,821.7 L176.0,819.1 L176.5,816.3 L177.0,813.4 L177.5,810.3 L178.0,807.0 L178.5,803.8 L179.0,800.5 L179.5,797.2 L180.0,793.9 L180.5,790.7 L181.0,787.7 L181.5,784.8 L182.0,782.1 L182.5,779.6 L183.0,777.4 L183.5,775.4 L184.0,773.9 L184.5,772.7 L185.0,771.9 L185.5,771.5 L186.0,771.6 L186.5,772.1 L187.0,772.9 L187.5,773.9 L188.0,775.2 L188.5,776.8 L189.0,778.5 L189.5,780.3 L190.0,782.3 L190.5,784.3 L191.0,786.3 L191.5,788.4 L192.0,790.4 L192.5,792.3 L193.0,794.1 L193.5,795.8 L194.0,797.2 L194.5,798.5 L195.0,799.5 L195.5,800.2 L196.0,800.6 L196.5,800.6 L197.0,800.3 L197.5,799.6 L198.0,798.6 L198.5,797.4 L199.0,795.9 L199.5,794.1 L200.0,792.1 L200.5,790.0 L201.0,787.7 L201.5,785.3 L202.0,782.7 L202.5,780.1 L203.0,777.4 L203.5,774.7 L204.0,772.0 L204.5,769.3 L205.0,766.6 L205.5,764.0 L206.0,761.5 L206.5,759.1 L207.0,756.8 L207.5,754.7 L208.0,752.9 L208.5,751.2 L209.0,749.7 L209.5,748.6 L210.0,747.7 L210.5,747.2 L211.0,746.9 L211.5,747.1 L212.0,747.8 L212.5,748.9 L213.0,750.4 L213.5,752.3 L214.0,754.5 L214.5,757.1 L215.0,759.9 L215.5,763.0 L216.0,766.3 L216.5,769.8 L217.0,773.4 L217.5,777.2 L218.0,781.1 L218.5,785.0 L219.0,788.9 L219.5,792.9 L220.0,796.8 L220.5,800.7 L221.0,804.4 L221.5,808.0 L222.0,811.5 L222.5,814.8 L223.0,817.9 L223.5,820.7 L224.0,823.2 L224.5,825.4 L225.0,827.3 L225.5,828.8 L226.0,829.8 L226.5,830.5 L227.0,830.6 L227.5,830.3 L228.0,829.6 L228.5,828.4 L229.0,826.8 L229.5,824.9 L230.0,822.7 L230.5,820.2 L231.0,817.5 L231.5,814.6 L232.0,811.6 L232.5,808.4 L233.0,805.2 L233.5,801.9 L234.0,798.6 L234.5,795.3 L235.0,792.1 L235.5,788.9 L236.0,786.0 L236.5,783.2 L237.0,780.6 L237.5,778.3 L238.0,776.2 L238.5,774.5 L239.0,773.1 L239.5,772.1 L240.0,771.6 L240.5,771.5 L241.0,771.8 L241.5,772.5 L242.0,773.4 L242.5,774.7 L243.0,776.1 L243.5,777.7 L244.0,779.5 L244.5,781.4 L245.0,783.4 L245.5,785.5 L246.0,787.5 L246.5,789.5 L247.0,791.5 L247.5,793.3 L248.0,795.1 L248.5,796.6 L249.0,798.0 L249.5,799.1 L250.0,800.0 L250.5,800.5 L251.0,800.7 L251.5,800.5 L252.0,799.9 L252.5,799.1 L253.0,797.9 L253.5,796.5 L254.0,794.9 L254.5,793.0 L255.0,790.9 L255.5,788.7 L256.0,786.3 L256.5,783.8 L257.0,781.2 L257.5,778.5 L258.0,775.8 L258.5,773.1 L259.0,770.4 L259.5,767.7 L260.0,765.1 L260.5,762.5 L261.0,760.1 L261.5,757.8 L262.0,755.6 L262.5,753.6 L263.0,751.9 L263.5,750.3 L264.0,749.0 L264.5,748.0 L265.0,747.3 L265.5,747.0 L266.0,747.0 L266.5,747.5 L267.0,748.4 L267.5,749.7 L268.0,751.5 L268.5,753.6 L269.0,756.0 L269.5,758.7 L270.0,761.7 L270.5,764.9 L271.0,768.3 L271.5,771.9 L272.0,775.6 L272.5,779.4 L273.0,783.3 L273.5,787.3 L274.0,791.2 L274.5,795.1 L275.0,799.0 L275.5,802.8 L276.0,806.5 L276.5,810.1 L277.0,813.4 L277.5,816.6 L278.0,819.5 L278.5,822.2 L279.0,824.5 L279.5,826.5 L280.0,828.2 L280.5,829.4 L281.0,830.3 L281.5,830.6 L282.0,830.5 L282.5,829.9 L283.0,828.9 L283.5,827.5 L284.0,825.7 L284.5,823.7 L285.0,821.3 L285.5,818.7 L286.0,815.9 L286.5,812.9 L287.0,809.8 L287.5,806.5 L288.0,803.3 L288.5,799.9 L289.0,796.7 L289.5,793.4 L290.0,790.2 L290.6,787.2 L291.1,784.3 L291.6,781.7 L292.1,779.2 L292.6,777.0 L293.1,775.2 L293.6,773.6 L294.1,772.5 L294.6,771.8 L295.1,771.5 L295.6,771.7 L296.1,772.2 L296.6,773.0 L297.1,774.1 L297.6,775.5 L298.1,777.0 L298.6,778.7 L299.1,780.6 L299.6,782.6 L300.1,784.6 L300.6,786.6 L301.1,788.7 L301.6,790.7 L302.1,792.6 L302.6,794.4 L303.1,796.0 L303.6,797.5 L304.1,798.7 L304.6,799.6 L305.1,800.3 L305.6,800.6 L306.1,800.6 L306.6,800.2 L307.1,799.5 L307.6,798.5 L308.1,797.2 L308.6,795.6 L309.1,793.8 L309.6,791.8 L310.1,789.7 L310.6,787.3 L311.1,784.9 L311.6,782.3 L312.1,779.7 L312.6,777.0 L313.1,774.3 L313.6,771.5 L314.1,768.8 L314.6,766.2 L315.1,763.6 L315.6,761.1 L316.1,758.7 L316.6,756.5 L317.1,754.4 L317.6,752.6 L318.1,750.9 L318.6,749.5 L319.1,748.4 L319.6,747.6 L320.1,747.1 L320.6,746.9 L321.1,747.2 L321.6,747.9 L322.1,749.1 L322.6,750.7 L323.1,752.6 L323.6,754.9 L324.1,757.5 L324.6,760.4 L325.1,763.5 L325.6,766.8 L326.1,770.3 L326.6,774.0 L327.1,777.8 L327.6,781.7 L328.1,785.6 L328.6,789.5 L329.1,793.5 L329.6,797.4 L330.1,801.2 L330.6,805.0 L331.1,808.6 L331.6,812.0 L332.1,815.3 L332.6,818.3 L333.1,821.1 L333.6,823.6 L334.1,825.7 L334.6,827.5 L335.1,829.0 L335.6,830.0 L336.1,830.5 L336.6,830.6 L337.1,830.2 L337.6,829.4 L338.1,828.1 L338.6,826.5 L339.1,824.6 L339.6,822.3 L340.1,819.8 L340.6,817.1 L341.1,814.2 L341.6,811.1 L342.1,807.9 L342.6,804.6 L343.1,801.3 L343.6,798.0 L344.1,794.8 L344.6,791.6 L345.1,788.5 L345.6,785.5 L346.1,782.8 L346.6,780.2 L347.1,777.9 L347.6,775.9 L348.1,774.2 L348.6,772.9 L349.1,772.0 L349.6,771.6 L350.1,771.6 L350.6,771.9 L351.1,772.6 L351.6,773.6 L352.1,774.9 L352.6,776.3 L353.1,778.0 L353.6,779.8 L354.1,781.7 L354.6,783.7 L355.1,785.8 L355.6,787.8 L356.1,789.8 L356.6,791.8 L357.1,793.6 L357.6,795.3 L358.1,796.9 L358.6,798.2 L359.1,799.3 L359.6,800.1 L360.1,800.5 L360.6,800.6 L361.1,799.7 L361.6,798.1 L362.1,796.5 L362.6,795.6 L363.1,795.4 L363.6,795.2 L364.1,795.1 L364.6,794.8 L365.1,794.4 L365.6,793.5 L366.1,792.4 L366.6,790.9 L367.1,789.3 L367.6,787.4 L368.1,785.4 L368.6,783.2 L369.1,781.0 L369.6,778.7 L370.1,776.3 L370.6,774.0 L371.1,771.8 L371.6,769.6 L372.1,767.6 L372.6,765.8 L373.1,764.1 L373.6,762.7 L374.1,761.6 L374.6,760.8 L375.1,760.3 L375.6,760.3 L376.1,760.7 L376.6,761.6 L377.1,762.9 L377.6,764.6 L378.1,766.7 L378.6,769.1 L379.1,771.8 L379.6,774.8 L380.1,778.1 L380.6,781.5 L381.1,785.1 L381.6,788.9 L382.1,792.8 L382.6,796.8 L383.1,800.8 L383.6,804.8 L384.1,808.8 L384.6,812.8 L385.1,816.7 L385.6,820.5 L386.1,824.2 L386.6,827.7 L387.1,831.0 L387.6,834.1 L388.1,836.9 L388.6,839.4 L389.1,841.6 L389.6,843.4 L390.1,844.8 L390.6,845.8 L391.1,846.4 L391.6,846.4 L392.1,846.0 L392.6,845.1 L393.1,843.7 L393.6,841.9 L394.1,839.8 L394.6,837.3 L395.1,834.6 L395.6,831.6 L396.1,828.5 L396.6,825.1 L397.1,821.7 L397.6,818.2 L398.1,814.7 L398.6,811.1 L399.1,807.6 L399.6,804.2 L400.1,801.0 L400.6,797.9 L401.1,795.0 L401.6,792.4 L402.1,790.1 L402.6,788.1 L403.1,786.5 L403.6,785.4 L404.1,784.6 L404.6,784.4 L405.1,784.6 L405.6,785.2 L406.1,786.1 L406.6,787.2 L407.1,788.6 L407.6,790.1 L408.1,791.9 L408.6,793.7 L409.1,795.7 L409.6,797.8 L410.1,799.9 L410.6,801.9 L411.1,804.0 L411.6,806.0 L412.1,807.8 L412.6,809.6 L413.1,811.1 L413.6,812.5 L414.1,813.6 L414.6,814.5 L415.1,815.0 L415.6,815.2 L416.1,815.1 L416.6,814.5 L417.1,813.7 L417.6,812.5 L418.1,811.0 L418.6,809.3 L419.1,807.3 L419.6,805.1 L420.1,802.8 L420.6,800.3 L421.1,797.7 L421.6,795.0 L422.1,792.2 L422.6,789.4 L423.1,786.5 L423.6,783.7 L424.1,780.9 L424.6,778.2 L425.1,775.5 L425.6,773.0 L426.1,770.6 L426.6,768.5 L427.1,766.5 L427.6,764.7 L428.1,763.2 L428.6,762.0 L429.1,761.1 L429.6,760.5 L430.1,760.3 L430.6,760.5 L431.1,761.2 L431.6,762.3 L432.1,763.9 L432.6,765.8 L433.1,768.1 L433.6,770.7 L434.1,773.5 L434.6,776.7 L435.1,780.0 L435.6,783.6 L436.1,787.3 L436.6,791.1 L437.1,795.1 L437.6,799.1 L438.1,803.1 L438.6,807.1 L439.1,811.1 L439.6,815.1 L440.1,818.9 L440.6,822.7 L441.1,826.2 L441.6,829.6 L442.1,832.8 L442.6,835.7 L443.1,838.4 L443.6,840.7 L444.1,842.7 L444.7,844.3 L445.2,845.4 L445.7,846.2 L446.2,846.5 L446.7,846.2 L447.2,845.5 L447.7,844.3 L448.2,842.7 L448.7,840.7 L449.2,838.4 L449.7,835.8 L450.2,832.9 L450.7,829.8 L451.2,826.6 L451.7,823.2 L452.2,819.7 L452.7,816.2 L453.2,812.6 L453.7,809.1 L454.2,805.7 L454.7,802.3 L455.2,799.2 L455.7,796.2 L456.2,793.5 L456.7,791.0 L457.2,788.9 L457.7,787.2 L458.2,785.8 L458.7,784.9 L459.2,784.4 L459.7,784.5 L460.2,784.9 L460.7,785.7 L461.2,786.7 L461.7,787.9 L462.2,789.4 L462.7,791.1 L463.2,792.9 L463.7,794.9 L464.2,796.9 L464.7,799.0 L465.2,801.1 L465.7,803.1 L466.2,805.1 L466.7,807.1 L467.2,808.9 L467.7,810.5 L468.2,812.0 L468.7,813.2 L469.2,814.2 L469.7,814.8 L470.2,815.2 L470.7,815.2 L471.2,814.8 L471.7,814.1 L472.2,813.0 L472.7,811.7 L473.2,810.0 L473.7,808.2 L474.2,806.1 L474.7,803.8 L475.2,801.4 L475.7,798.8 L476.2,796.1 L476.7,793.4 L477.2,790.5 L477.7,787.7 L478.2,784.9 L478.7,782.1 L479.2,779.3 L479.7,776.6 L480.2,774.1 L480.7,771.6 L481.2,769.4 L481.7,767.3 L482.2,765.4 L482.7,763.8 L483.2,762.5 L483.7,761.4 L484.2,760.7 L484.7,760.3 L485.2,760.3 L485.7,760.8 L486.2,761.8 L486.7,763.2 L487.2,764.9 L487.7,767.1 L488.2,769.5 L488.7,772.3 L489.2,775.3 L489.7,778.6 L490.2,782.1 L490.7,785.7 L491.2,789.5 L491.7,793.4 L492.2,797.4 L492.7,801.4 L493.2,805.4 L493.7,809.5 L494.2,813.4 L494.7,817.3 L495.2,821.1 L495.7,824.8 L496.2,828.2 L496.7,831.5 L497.2,834.5 L497.7,837.3 L498.2,839.7 L498.7,841.9 L499.2,843.6 L499.7,845.0 L500.2,845.9 L500.7,846.4 L501.2,846.4 L501.7,845.9 L502.2,844.9 L502.7,843.4 L503.2,841.6 L503.7,839.4 L504.2,836.9 L504.7,834.2 L505.2,831.2 L505.7,828.0 L506.2,824.6 L506.7,821.2 L507.2,817.6 L507.7,814.1 L508.2,810.6 L508.7,807.1 L509.2,803.7 L509.7,800.5 L510.2,797.4 L510.7,794.6 L511.2,792.0 L511.7,789.8 L512.2,787.9 L512.7,786.3 L513.2,785.2 L513.7,784.6 L514.2,784.4 L514.7,784.7 L515.2,785.3 L515.7,786.2 L516.2,787.4 L516.7,788.8 L517.2,790.4 L517.7,792.2 L518.2,794.1 L518.7,796.0 L519.2,798.1 L519.7,800.2 L520.2,802.3 L520.7,804.3 L521.2,806.3 L521.7,808.1 L522.2,809.8 L522.7,811.4 L523.2,812.7 L523.7,813.8 L524.2,814.6 L524.7,815.1 L525.2,815.2 L525.7,815.0 L526.2,814.4 L526.7,813.5 L527.2,812.3 L527.7,810.8 L528.2,809.0 L528.7,807.0 L529.2,804.8 L529.7,802.4 L530.2,799.9 L530.7,797.3 L531.2,794.5 L531.7,791.7 L532.2,788.9 L532.7,786.1 L533.2,783.2 L533.7,780.5 L534.2,777.7 L534.7,775.1 L535.2,772.6 L535.7,770.3 L536.2,768.1 L536.7,766.2 L537.2,764.4 L537.7,763.0 L538.2,761.8 L538.7,760.9 L539.2,760.4 L539.7,760.3 L540.2,760.6 L540.7,761.3 L541.2,762.5 L541.7,764.1 L542.2,766.1 L542.7,768.4 L543.2,771.1 L543.7,774.0 L544.2,777.2 L544.7,780.6 L545.2,784.2 L545.7,787.9 L546.2,791.7 L546.7,795.7 L547.2,799.7 L547.7,803.7 L548.2,807.8 L548.7,811.8 L549.2,815.7 L549.7,819.5 L550.2,823.2 L550.7,826.8 L551.2,830.1 L551.7,833.3 L552.2,836.1 L552.7,838.7 L553.2,841.0 L553.7,842.9 L554.2,844.5 L554.7,845.6 L555.2,846.3 L555.7,846.5 L556.2,846.2 L556.7,845.4 L557.2,844.1 L557.7,842.4 L558.2,840.4 L558.7,838.0 L559.2,835.4 L559.7,832.4 L560.2,829.3 L560.7,826.0 L561.2,822.6 L561.7,819.1 L562.2,815.6 L562.7,812.1 L563.2,808.6 L563.7,805.1 L564.2,801.8 L564.7,798.7 L565.2,795.8 L565.7,793.1 L566.2,790.7 L566.7,788.6 L567.2,786.9 L567.7,785.6 L568.2,784.8 L568.7,784.4 L569.2,784.5 L569.7,785.0 L570.2,785.8 L570.7,786.9 L571.2,788.2 L571.7,789.7 L572.2,791.4 L572.7,793.2 L573.2,795.2 L573.7,797.2 L574.2,799.3 L574.7,801.4 L575.2,803.4 L575.7,805.4 L576.2,807.3 L576.7,809.1 L577.2,810.7 L577.7,812.2 L578.2,813.4 L578.7,814.3 L579.2,814.9 L579.7,815.2 L580.2,815.2 L580.7,814.7 L581.2,813.9 L581.7,812.8 L582.2,811.4 L582.7,809.8 L583.2,807.9 L583.7,805.7 L584.2,803.4 L584.7,801.0 L585.2,798.4 L585.7,795.7 L586.2,792.9 L586.7,790.1 L587.2,787.3 L587.7,784.4 L588.2,781.6 L588.7,778.9 L589.2,776.2 L589.7,773.7 L590.2,771.3 L590.7,769.0 L591.2,767.0 L591.7,765.1 L592.2,763.6 L592.7,762.3 L593.2,761.3 L593.7,760.6 L594.2,760.3 L594.7,760.4 L595.2,760.9 L595.7,762.0 L596.2,763.4 L596.7,765.2 L597.2,767.4 L597.7,769.9 L598.2,772.7 L598.8,775.8 L599.3,779.1 L599.8,782.6 L600.3,786.3 L600.8,790.1 L601.3,794.0 L601.8,798.0 L602.3,802.0 L602.8,806.1 L603.3,810.1 L603.8,814.0 L604.3,817.9 L604.8,821.7 L605.3,825.3 L605.8,828.8 L606.3,832.0 L606.8,835.0 L607.3,837.7 L607.8,840.1 L608.3,842.2 L608.8,843.9 L609.3,845.2 L609.8,846.0 L610.3,846.4 L610.8,846.4 L611.3,845.8 L611.8,844.7 L612.3,843.2 L612.8,841.3 L613.3,839.1 L613.8,836.5 L614.3,833.7 L614.8,830.7 L615.3,827.4 L615.8,824.1 L616.3,820.6 L616.8,817.1 L617.3,813.6 L617.8,810.0 L618.3,806.6 L618.8,803.2 L619.3,800.0 L619.8,797.0 L620.3,794.2 L620.8,791.7 L621.3,789.5 L621.8,787.6 L622.3,786.1 L622.8,785.1 L623.3,784.5 L623.8,784.4 L624.3,784.8 L624.8,785.4 L625.3,786.4 L625.8,787.6 L626.3,789.0 L626.8,790.7 L627.3,792.4 L627.8,794.4 L628.3,796.4 L628.8,798.4 L629.3,800.5 L629.8,802.6 L630.3,804.6 L630.8,806.6 L631.3,808.4 L631.8,810.1 L632.3,811.6 L632.8,812.9 L633.3,813.9 L633.8,814.7 L634.3,815.1 L634.8,815.2 L635.3,814.9 L635.8,814.3 L636.3,813.3 L636.8,812.0 L637.3,810.5 L637.8,808.7 L638.3,806.7 L638.8,804.4 L639.3,802.0 L639.8,799.5 L640.3,796.8 L640.8,794.1 L641.3,791.3 L641.8,788.5 L642.3,785.6 L642.8,782.8 L643.3,780.0 L643.8,777.3 L644.3,774.7 L644.8,772.3 L645.3,769.9 L645.8,767.8 L646.3,765.9 L646.8,764.2 L647.3,762.8 L647.8,761.7 L648.3,760.8 L648.8,760.4 L649.3,760.3 L649.8,760.6 L650.3,761.5 L650.8,762.7 L651.3,764.4 L651.8,766.5 L652.3,768.8 L652.8,771.5 L653.3,774.5 L653.8,777.7 L654.3,781.1 L654.8,784.7 L655.3,788.5 L655.8,792.4 L656.3,796.3 L656.8,800.3 L657.3,804.4 L657.8,808.4 L658.3,812.4 L658.8,816.3 L659.3,820.1 L659.8,823.8 L660.3,827.3 L660.8,830.6 L661.3,833.7 L661.8,836.6 L662.3,839.1 L662.8,841.3 L663.3,843.2 L663.8,844.7 L664.3,845.7 L664.8,846.3 L665.3,846.5 L665.8,846.1 L666.3,845.2 L666.8,843.9 L667.3,842.1 L667.8,840.0 L668.3,837.6 L668.8,834.9 L669.3,832.0 L669.8,828.8 L670.3,825.5 L670.8,822.1 L671.3,818.6 L671.8,815.0 L672.3,811.5 L672.8,808.0 L673.3,804.6 L673.8,801.3 L674.3,798.2 L674.8,795.3 L675.3,792.7" stroke="#0000ff" stroke-width="1.80" fill="none" stroke-linejoin="round" clip-path="url(#c3)"/>
<path d="M59.4,821.9 L59.9,828.1 L60.4,833.9 L60.9,839.1 L61.4,843.3 L61.9,846.2 L62.4,847.6 L62.9,847.4 L63.4,845.8 L63.9,843.0 L64.4,839.3 L64.9,834.7 L65.4,829.5 L65.9,823.8 L66.4,817.7 L66.9,811.4 L67.4,805.1 L67.9,798.9 L68.4,793.0 L68.9,787.6 L69.4,782.8 L69.9,778.7 L70.4,775.6 L70.9,773.5 L71.4,772.8 L71.9,772.9 L72.4,773.3 L72.9,773.9 L73.4,774.5 L73.9,775.1 L74.4,775.5 L74.9,775.7 L75.4,775.6 L75.9,775.6 L76.4,775.5 L76.9,775.4 L77.4,775.3 L77.9,775.3 L78.4,775.3 L78.9,775.5 L79.4,776.2 L79.9,777.4 L80.4,778.8 L80.9,780.6 L81.4,782.6 L81.9,784.7 L82.4,786.9 L82.9,789.2 L83.4,791.4 L83.9,793.5 L84.4,795.4 L84.9,797.1 L85.4,798.5 L85.9,799.5 L86.4,800.1 L86.9,800.2 L87.4,799.9 L87.9,799.3 L88.4,798.3 L88.9,797.1 L89.4,795.5 L89.9,793.7 L90.4,791.8 L90.9,789.6 L91.4,787.2 L91.9,784.7 L92.4,782.2 L92.9,779.5 L93.4,776.8 L93.9,774.0 L94.4,771.2 L94.9,768.5 L95.4,765.8 L95.9,763.2 L96.4,760.7 L96.9,758.4 L97.4,756.1 L97.9,754.1 L98.4,752.3 L98.9,750.7 L99.4,749.4 L99.9,748.4 L100.4,747.7 L100.9,747.4 L101.4,747.4 L101.9,747.9 L102.4,748.8 L102.9,750.1 L103.4,751.7 L103.9,753.7 L104.4,756.0 L104.9,758.6 L105.4,761.4 L105.9,764.4 L106.4,767.6 L106.9,771.0 L107.4,774.5 L107.9,778.0 L108.4,781.7 L108.9,785.4 L109.4,789.1 L109.9,792.8 L110.4,796.4 L110.9,799.9 L111.4,803.4 L111.9,806.7 L112.4,809.8 L112.9,812.8 L113.4,815.5 L113.9,817.9 L114.4,820.1 L114.9,822.0 L115.4,823.5 L115.9,824.6 L116.4,825.3 L116.9,825.6 L117.4,825.5 L117.9,825.0 L118.4,824.1 L118.9,822.9 L119.4,821.5 L119.9,819.7 L120.4,817.7 L120.9,815.5 L121.4,813.1 L121.9,810.6 L122.4,807.9 L122.9,805.2 L123.4,802.4 L123.9,799.5 L124.4,796.7 L124.9,793.8 L125.4,791.0 L125.9,788.3 L126.4,785.7 L126.9,783.3 L127.4,781.0 L127.9,778.9 L128.4,777.0 L128.9,775.4 L129.4,774.0 L129.9,773.0 L130.4,772.3 L130.9,771.9 L131.4,772.0 L131.9,772.4 L132.4,773.2 L132.9,774.2 L133.4,775.5 L133.9,777.0 L134.4,778.7 L134.9,780.6 L135.4,782.5 L135.9,784.5 L136.5,786.5 L137.0,788.5 L137.5,790.4 L138.0,792.2 L138.5,794.0 L139.0,795.5 L139.5,796.9 L140.0,798.0 L140.5,798.8 L141.0,799.3 L141.5,799.4 L142.0,799.2 L142.5,798.6 L143.0,797.7 L143.5,796.6 L144.0,795.2 L144.5,793.5 L145.0,791.6 L145.5,789.6 L146.0,787.4 L146.5,785.0 L147.0,782.5 L147.5,780.0 L148.0,777.4 L148.5,774.7 L149.0,772.0 L149.5,769.4 L150.0,766.8 L150.5,764.2 L151.0,761.7 L151.5,759.4 L152.0,757.2 L152.5,755.1 L153.0,753.2 L153.5,751.6 L154.0,750.2 L154.5,749.0 L155.0,748.1 L155.5,747.6 L156.0,747.4 L156.5,747.5 L157.0,748.1 L157.5,749.2 L158.0,750.6 L158.5,752.4 L159.0,754.5 L159.5,756.9 L160.0,759.6 L160.5,762.5 L161.0,765.6 L161.5,768.9 L162.0,772.4 L162.5,775.9 L163.0,779.6 L163.5,783.3 L164.0,787.0 L164.5,790.8 L165.0,794.4 L165.5,798.1 L166.0,801.6 L166.5,805.0 L167.0,808.3 L167.5,811.3 L168.0,814.2 L168.5,816.8 L169.0,819.1 L169.5,821.1 L170.0,822.8 L170.5,824.1 L171.0,825.1 L171.5,825.6 L172.0,825.6 L172.5,825.3 L173.0,824.5 L173.5,823.5 L174.0,822.1 L174.5,820.5 L175.0,818.6 L175.5,816.5 L176.0,814.1 L176.5,811.7 L177.0,809.1 L177.5,806.4 L178.0,803.6 L178.5,800.7 L179.0,797.9 L179.5,795.0 L180.0,792.2 L180.5,789.5 L181.0,786.8 L181.5,784.3 L182.0,781.9 L182.5,779.7 L183.0,777.8 L183.5,776.0 L184.0,774.5 L184.5,773.4 L185.0,772.5 L185.5,772.0 L186.0,771.9 L186.5,772.2 L187.0,772.8 L187.5,773.8 L188.0,775.0 L188.5,776.4 L189.0,778.0 L189.5,779.8 L190.0,781.7 L190.5,783.6 L191.0,785.6 L191.5,787.6 L192.0,789.6 L192.5,791.5 L193.0,793.3 L193.5,794.9 L194.0,796.3 L194.5,797.5 L195.0,798.5 L195.5,799.1 L196.0,799.4 L196.5,799.3 L197.0,798.9 L197.5,798.1 L198.0,797.1 L198.5,795.8 L199.0,794.2 L199.5,792.4 L200.0,790.5 L200.5,788.3 L201.0,786.0 L201.5,783.6 L202.0,781.1 L202.5,778.5 L203.0,775.8 L203.5,773.2 L204.0,770.5 L204.5,767.9 L205.0,765.3 L205.5,762.8 L206.0,760.4 L206.5,758.1 L207.0,756.0 L207.5,754.0 L208.0,752.3 L208.5,750.7 L209.0,749.5 L209.5,748.5 L210.0,747.8 L210.5,747.4 L211.0,747.4 L211.5,747.8 L212.0,748.7 L212.5,750.0 L213.0,751.6 L213.5,753.6 L214.0,755.9 L214.5,758.4 L215.0,761.3 L215.5,764.3 L216.0,767.5 L216.5,770.9 L217.0,774.4 L217.5,778.0 L218.0,781.7 L218.5,785.4 L219.0,789.2 L219.5,792.9 L220.0,796.5 L220.5,800.1 L221.0,803.6 L221.5,806.9 L222.0,810.1 L222.5,813.0 L223.0,815.7 L223.5,818.2 L224.0,820.3 L224.5,822.2 L225.0,823.6 L225.5,824.7 L226.0,825.4 L226.5,825.7 L227.0,825.5 L227.5,824.9 L228.0,824.0 L228.5,822.7 L229.0,821.2 L229.5,819.4 L230.0,817.4 L230.5,815.1 L231.0,812.7 L231.5,810.2 L232.0,807.5 L232.5,804.7 L233.0,801.9 L233.5,799.1 L234.0,796.2 L234.5,793.4 L235.0,790.6 L235.5,787.9 L236.0,785.3 L236.5,782.9 L237.0,780.6 L237.5,778.6 L238.0,776.7 L238.5,775.1 L239.0,773.8 L239.5,772.8 L240.0,772.2 L240.5,771.9 L241.0,772.0 L241.5,772.5 L242.0,773.3 L242.5,774.4 L243.0,775.8 L243.5,777.3 L244.0,779.0 L244.5,780.8 L245.0,782.8 L245.5,784.8 L246.0,786.8 L246.5,788.8 L247.0,790.7 L247.5,792.5 L248.0,794.2 L248.5,795.7 L249.0,797.0 L249.5,798.1 L250.0,798.9 L250.5,799.3 L251.0,799.4 L251.5,799.1 L252.0,798.5 L252.5,797.6 L253.0,796.4 L253.5,794.9 L254.0,793.2 L254.5,791.3 L255.0,789.2 L255.5,787.0 L256.0,784.6 L256.5,782.1 L257.0,779.6 L257.5,776.9 L258.0,774.3 L258.5,771.6 L259.0,769.0 L259.5,766.4 L260.0,763.8 L260.5,761.4 L261.0,759.0 L261.5,756.8 L262.0,754.8 L262.5,753.0 L263.0,751.3 L263.5,750.0 L264.0,748.9 L264.5,748.0 L265.0,747.5 L265.5,747.3 L266.0,747.6 L266.5,748.3 L267.0,749.4 L267.5,750.9 L268.0,752.7 L268.5,754.9 L269.0,757.3 L269.5,760.0 L270.0,763.0 L270.5,766.1 L271.0,769.5 L271.5,772.9 L272.0,776.5 L272.5,780.2 L273.0,783.9 L273.5,787.6 L274.0,791.3 L274.5,795.0 L275.0,798.6 L275.5,802.1 L276.0,805.5 L276.5,808.8 L277.0,811.8 L277.5,814.6 L278.0,817.2 L278.5,819.5 L279.0,821.4 L279.5,823.1 L280.0,824.3 L280.5,825.2 L281.0,825.6 L281.5,825.6 L282.0,825.2 L282.5,824.4 L283.0,823.3 L283.5,821.9 L284.0,820.2 L284.5,818.3 L285.0,816.1 L285.5,813.8 L286.0,811.3 L286.5,808.6 L287.0,805.9 L287.5,803.1 L288.0,800.3 L288.5,797.4 L289.0,794.6 L289.5,791.8 L290.0,789.0 L290.6,786.4 L291.1,783.9 L291.6,781.6 L292.1,779.4 L292.6,777.5 L293.1,775.8 L293.6,774.3 L294.1,773.2 L294.6,772.4 L295.1,772.0 L295.6,772.0 L296.1,772.3 L296.6,773.0 L297.1,773.9 L297.6,775.2 L298.1,776.6 L298.6,778.3 L299.1,780.1 L299.6,782.0 L300.1,783.9 L300.6,785.9 L301.1,787.9 L301.6,789.9 L302.1,791.8 L302.6,793.5 L303.1,795.1 L303.6,796.5 L304.1,797.7 L304.6,798.6 L305.1,799.2 L305.6,799.4 L306.1,799.3 L306.6,798.8 L307.1,798.0 L307.6,796.9 L308.1,795.6 L308.6,794.0 L309.1,792.1 L309.6,790.1 L310.1,788.0 L310.6,785.6 L311.1,783.2 L311.6,780.7 L312.1,778.1 L312.6,775.4 L313.1,772.7 L313.6,770.1 L314.1,767.5 L314.6,764.9 L315.1,762.4 L315.6,760.0 L316.1,757.7 L316.6,755.6 L317.1,753.7 L317.6,752.0 L318.1,750.5 L318.6,749.3 L319.1,748.3 L319.6,747.7 L320.1,747.4 L320.6,747.4 L321.1,747.9 L321.6,748.9 L322.1,750.2 L322.6,751.9 L323.1,753.9 L323.6,756.2 L324.1,758.9 L324.6,761.7 L325.1,764.8 L325.6,768.0 L326.1,771.4 L326.6,775.0 L327.1,778.6 L327.6,782.3 L328.1,786.0 L328.6,789.8 L329.1,793.5 L329.6,797.1 L330.1,800.7 L330.6,804.1 L331.1,807.4 L331.6,810.5 L332.1,813.4 L332.6,816.1 L333.1,818.5 L333.6,820.6 L334.1,822.4 L334.6,823.8 L335.1,824.9 L335.6,825.5 L336.1,825.6 L336.6,825.4 L337.1,824.8 L337.6,823.8 L338.1,822.5 L338.6,820.9 L339.1,819.1 L339.6,817.0 L340.1,814.8 L340.6,812.3 L341.1,809.8 L341.6,807.1 L342.1,804.3 L342.6,801.5 L343.1,798.6 L343.6,795.8 L344.1,792.9 L344.6,790.2 L345.1,787.5 L345.6,784.9 L346.1,782.5 L346.6,780.3 L347.1,778.3 L347.6,776.5 L348.1,774.9 L348.6,773.7 L349.1,772.7 L349.6,772.1 L350.1,771.9 L350.6,772.1 L351.1,772.6 L351.6,773.5 L352.1,774.6 L352.6,776.0 L353.1,777.5 L353.6,779.3 L354.1,781.1 L354.6,783.1 L355.1,785.1 L355.6,787.1 L356.1,789.1 L356.6,791.0 L357.1,792.8 L357.6,794.5 L358.1,796.0 L358.6,797.2 L359.1,798.2 L359.6,799.0 L360.1,799.4 L360.6,799.4 L361.1,799.0 L361.6,798.4 L362.1,797.4 L362.6,796.2 L363.1,794.7 L363.6,792.9 L364.1,791.0 L364.6,788.9 L365.1,786.6 L365.6,784.2 L366.1,781.7 L366.6,779.2 L367.1,776.5 L367.6,773.9 L368.1,771.2 L368.6,768.6 L369.1,766.0 L369.6,763.4 L370.1,761.0 L370.6,758.7 L371.1,756.5 L371.6,754.5 L372.1,752.7 L372.6,751.1 L373.1,749.8 L373.6,748.7 L374.1,747.9 L374.6,747.5 L375.1,747.4 L375.6,747.7 L376.1,748.4 L376.6,749.6 L377.1,751.1 L377.6,753.0 L378.1,755.2 L378.6,757.7 L379.1,760.5 L379.6,763.5 L380.1,766.6 L380.6,770.0 L381.1,773.5 L381.6,777.1 L382.1,780.7 L382.6,784.5 L383.1,788.2 L383.6,791.9 L384.1,795.6 L384.6,799.2 L385.1,802.7 L385.6,806.0 L386.1,809.2 L386.6,812.2 L387.1,815.0 L387.6,817.5 L388.1,819.8 L388.6,821.7 L389.1,823.3 L389.6,824.5 L390.1,825.3 L390.6,825.6 L391.1,825.5 L391.6,825.1 L392.1,824.2 L392.6,823.1 L393.1,821.6 L393.6,819.9 L394.1,817.9 L394.6,815.8 L395.1,813.4 L395.6,810.9 L396.1,808.2 L396.6,805.5 L397.1,802.7 L397.6,799.8 L398.1,797.0 L398.6,794.1 L399.1,791.3 L399.6,788.6 L400.1,786.0 L400.6,783.5 L401.1,781.2 L401.6,779.1 L402.1,777.2 L402.6,775.5 L403.1,774.1 L403.6,773.1 L404.1,772.3 L404.6,772.0 L405.1,772.0 L405.6,772.4 L406.1,773.1 L406.6,774.1 L407.1,775.4 L407.6,776.9 L408.1,778.5 L408.6,780.3 L409.1,782.3 L409.6,784.2 L410.1,786.2 L410.6,788.2 L411.1,790.2 L411.6,792.0 L412.1,793.8 L412.6,795.4 L413.1,796.7 L413.6,797.8 L414.1,798.7 L414.6,799.2 L415.1,799.4 L415.6,799.2 L416.1,798.7 L416.6,797.9 L417.1,796.7 L417.6,795.3 L418.1,793.7 L418.6,791.8 L419.1,789.8 L419.6,787.6 L420.1,785.3 L420.6,782.8 L421.1,780.3 L421.6,777.6 L422.1,775.0 L422.6,772.3 L423.1,769.7 L423.6,767.1 L424.1,764.5 L424.6,762.0 L425.1,759.6 L425.6,757.4 L426.1,755.3 L426.6,753.4 L427.1,751.8 L427.6,750.3 L428.1,749.1 L428.6,748.2 L429.1,747.6 L429.6,747.4 L430.1,747.5 L430.6,748.1 L431.1,749.0 L431.6,750.4 L432.1,752.2 L432.6,754.3 L433.1,756.6 L433.6,759.3 L434.1,762.2 L434.6,765.3 L435.1,768.6 L435.6,772.0 L436.1,775.5 L436.6,779.2 L437.1,782.9 L437.6,786.6 L438.1,790.3 L438.6,794.0 L439.1,797.7 L439.6,801.2 L440.1,804.6 L440.6,807.9 L441.1,811.0 L441.6,813.9 L442.1,816.5 L442.6,818.9 L443.1,820.9 L443.6,822.7 L444.1,824.0 L444.7,825.0 L445.2,825.5 L445.7,825.6 L446.2,825.3 L446.7,824.6 L447.2,823.6 L447.7,822.3 L448.2,820.7 L448.7,818.8 L449.2,816.7 L449.7,814.4 L450.2,812.0 L450.7,809.4 L451.2,806.7 L451.7,803.9 L452.2,801.0 L452.7,798.2 L453.2,795.3 L453.7,792.5 L454.2,789.8 L454.7,787.1 L455.2,784.6 L455.7,782.2 L456.2,780.0 L456.7,778.0 L457.2,776.2 L457.7,774.7 L458.2,773.5 L458.7,772.6 L459.2,772.1 L459.7,771.9 L460.2,772.1 L460.7,772.7 L461.2,773.5 L461.7,774.6 L462.2,775.9 L462.7,777.4 L463.2,779.0 L463.7,780.8 L464.2,782.7 L464.7,784.6 L465.2,786.6 L465.7,788.6 L466.2,790.6 L466.7,792.5 L467.2,794.4 L467.7,796.1 L468.2,797.7 L468.7,799.1 L469.2,800.5 L469.7,802.1 L470.2,803.7 L470.7,805.2 L471.2,806.5 L471.7,807.5 L472.2,808.1 L472.7,808.1 L473.2,807.6 L473.7,806.6 L474.2,805.1 L474.7,803.3 L475.2,801.0 L475.7,798.5 L476.2,795.7 L476.7,792.7 L477.2,789.5 L477.7,786.1 L478.2,782.8 L478.7,779.3 L479.2,776.0 L479.7,772.6 L480.2,769.5 L480.7,766.4 L481.2,763.6 L481.7,761.1 L482.2,758.9 L482.7,757.0 L483.2,755.5 L483.7,754.5 L484.2,754.1 L484.7,754.1 L485.2,754.6 L485.7,755.5 L486.2,756.8 L486.7,758.5 L487.2,760.5 L487.7,762.8 L488.2,765.4 L488.7,768.2 L489.2,771.2 L489.7,774.4 L490.2,777.8 L490.7,781.3 L491.2,784.9 L491.7,788.6 L492.2,792.3 L492.7,796.1 L493.2,799.8 L493.7,803.4 L494.2,807.0 L494.7,810.5 L495.2,813.8 L495.7,817.0 L496.2,820.0 L496.7,822.8 L497.2,825.3 L497.7,827.5 L498.2,829.5 L498.7,831.1 L499.2,832.3 L499.7,833.1 L500.2,833.5 L500.7,833.5 L501.2,833.1 L501.7,832.3 L502.2,831.2 L502.7,829.8 L503.2,828.1 L503.7,826.2 L504.2,824.0 L504.7,821.7 L505.2,819.2 L505.7,816.6 L506.2,813.9 L506.7,811.1 L507.2,808.3 L507.7,805.4 L508.2,802.6 L508.7,799.8 L509.2,797.1 L509.7,794.5 L510.2,792.1 L510.7,789.7 L511.2,787.6 L511.7,785.7 L512.2,784.0 L512.7,782.6 L513.2,781.5 L513.7,780.7 L514.2,780.3 L514.7,780.3 L515.2,780.6 L515.7,781.2 L516.2,782.1 L516.7,783.2 L517.2,784.6 L517.7,786.1 L518.2,787.8 L518.7,789.6 L519.2,791.4 L519.7,793.4 L520.2,795.3 L520.7,797.2 L521.2,799.1 L521.7,800.9 L522.2,802.6 L522.7,804.2 L523.2,805.6 L523.7,806.8 L524.2,807.8 L524.7,808.5 L525.2,808.9 L525.7,809.0 L526.2,808.6 L526.7,807.9 L527.2,806.8 L527.7,805.3 L528.2,803.6 L528.7,801.5 L529.2,799.2 L529.7,796.7 L530.2,794.1 L530.7,791.3 L531.2,788.4 L531.7,785.4 L532.2,782.3 L532.7,779.3 L533.2,776.3 L533.7,773.3 L534.2,770.4 L534.7,767.7 L535.2,765.1 L535.7,762.7 L536.2,760.5 L536.7,758.6 L537.2,757.0 L537.7,755.7 L538.2,754.7 L538.7,754.2 L539.2,754.0 L539.7,754.3 L540.2,755.1 L540.7,756.2 L541.2,757.7 L541.7,759.6 L542.2,761.8 L542.7,764.2 L543.2,767.0 L543.7,769.9 L544.2,773.1 L544.7,776.4 L545.2,779.8 L545.7,783.4 L546.2,787.1 L546.7,790.8 L547.2,794.5 L547.7,798.2 L548.2,801.9 L548.7,805.5 L549.2,809.0 L549.7,812.4 L550.2,815.7 L550.7,818.8 L551.2,821.6 L551.7,824.3 L552.2,826.6 L552.7,828.7 L553.2,830.4 L553.7,831.8 L554.2,832.8 L554.7,833.4 L555.2,833.6 L555.7,833.3 L556.2,832.7 L556.7,831.7 L557.2,830.4 L557.7,828.8 L558.2,827.0 L558.7,824.9 L559.2,822.7 L559.7,820.3 L560.2,817.7 L560.7,815.0 L561.2,812.3 L561.7,809.5 L562.2,806.6 L562.7,803.8 L563.2,801.0 L563.7,798.3 L564.2,795.6 L564.7,793.1 L565.2,790.7 L565.7,788.5 L566.2,786.5 L566.7,784.7 L567.2,783.2 L567.7,781.9 L568.2,781.0 L568.7,780.4 L569.2,780.3 L569.7,780.4 L570.2,780.9 L570.7,781.7 L571.2,782.7 L571.7,784.0 L572.2,785.4 L572.7,787.1 L573.2,788.8 L573.7,790.6 L574.2,792.5 L574.7,794.5 L575.2,796.4 L575.7,798.3 L576.2,800.2 L576.7,801.9 L577.2,803.6 L577.7,805.1 L578.2,806.3 L578.7,807.4 L579.2,808.2 L579.7,808.8 L580.2,809.0 L580.7,808.8 L581.2,808.3 L581.7,807.3 L582.2,806.0 L582.7,804.3 L583.2,802.4 L583.7,800.2 L584.2,797.8 L584.7,795.2 L585.2,792.5 L585.7,789.6 L586.2,786.6 L586.7,783.6 L587.2,780.6 L587.7,777.5 L588.2,774.5 L588.7,771.6 L589.2,768.8 L589.7,766.2 L590.2,763.7 L590.7,761.4 L591.2,759.4 L591.7,757.6 L592.2,756.2 L592.7,755.1 L593.2,754.3 L593.7,754.0 L594.2,754.1 L594.7,754.7 L595.2,755.7 L595.7,757.1 L596.2,758.8 L596.7,760.8 L597.2,763.2 L597.7,765.8 L598.2,768.6 L598.8,771.7 L599.3,775.0 L599.8,778.4 L600.3,781.9 L600.8,785.5 L601.3,789.2 L601.8,792.9 L602.3,796.6 L602.8,800.3 L603.3,804.0 L603.8,807.6 L604.3,811.0 L604.8,814.3 L605.3,817.5 L605.8,820.5 L606.3,823.2 L606.8,825.7 L607.3,827.9 L607.8,829.7 L608.3,831.3 L608.8,832.4 L609.3,833.2 L609.8,833.6 L610.3,833.5 L610.8,833.0 L611.3,832.1 L611.8,831.0 L612.3,829.5 L612.8,827.8 L613.3,825.8 L613.8,823.7 L614.3,821.3 L614.8,818.8 L615.3,816.2 L615.8,813.5 L616.3,810.7 L616.8,807.8 L617.3,805.0 L617.8,802.2 L618.3,799.4 L618.8,796.7 L619.3,794.1 L619.8,791.7 L620.3,789.4 L620.8,787.3 L621.3,785.4 L621.8,783.8 L622.3,782.4 L622.8,781.4 L623.3,780.6 L623.8,780.3 L624.3,780.3 L624.8,780.7 L625.3,781.3 L625.8,782.3 L626.3,783.4 L626.8,784.8 L627.3,786.4 L627.8,788.0 L628.3,789.8 L628.8,791.7 L629.3,793.7 L629.8,795.6 L630.3,797.5 L630.8,799.4 L631.3,801.2 L631.8,802.9 L632.3,804.4 L632.8,805.8 L633.3,807.0 L633.8,807.9 L634.3,808.6 L634.8,808.9 L635.3,809.0 L635.8,808.6 L636.3,807.7 L636.8,806.6 L637.3,805.1 L637.8,803.3 L638.3,801.2 L638.8,798.9 L639.3,796.3 L639.8,793.6 L640.3,790.8 L640.8,787.9 L641.3,784.9 L641.8,781.9 L642.3,778.8 L642.8,775.8 L643.3,772.9 L643.8,770.0 L644.3,767.3 L644.8,764.7 L645.3,762.3 L645.8,760.2 L646.3,758.3 L646.8,756.7 L647.3,755.5 L647.8,754.6 L648.3,754.1 L648.8,754.0 L649.3,754.4 L649.8,755.2 L650.3,756.4 L650.8,758.0 L651.3,759.9 L651.8,762.1 L652.3,764.7 L652.8,767.4 L653.3,770.4 L653.8,773.6 L654.3,776.9 L654.8,780.4 L655.3,784.0 L655.8,787.6 L656.3,791.3 L656.8,795.1 L657.3,798.8 L657.8,802.5 L658.3,806.1 L658.8,809.6 L659.3,813.0 L659.8,816.2 L660.3,819.2 L660.8,822.1 L661.3,824.7 L661.8,827.0 L662.3,829.0 L662.8,830.7 L663.3,832.0 L663.8,832.9 L664.3,833.5 L664.8,833.5 L665.3,833.2 L665.8,832.5 L666.3,831.5 L666.8,830.2 L667.3,828.6 L667.8,826.7 L668.3,824.6 L668.8,822.3 L669.3,819.9 L669.8,817.3 L670.3,814.6 L670.8,811.9 L671.3,809.0 L671.8,806.2 L672.3,803.4 L672.8,800.6 L673.3,797.9 L673.8,795.2 L674.3,792.7 L674.8,790.3 L675.3,788.2" stroke="#ff0000" stroke-width="1.80" fill="none" stroke-linejoin="round" clip-path="url(#c3)"/>
<path d="M59.40 869.80v-6.2M59.40 703.20v6.2M127.83 869.80v-6.2M127.83 703.20v6.2M196.27 869.80v-6.2M196.27 703.20v6.2M264.70 869.80v-6.2M264.70 703.20v6.2M333.13 869.80v-6.2M333.13 703.20v6.2M401.57 869.80v-6.2M401.57 703.20v6.2M470.00 869.80v-6.2M470.00 703.20v6.2M538.43 869.80v-6.2M538.43 703.20v6.2M606.87 869.80v-6.2M606.87 703.20v6.2M675.30 869.80v-6.2M675.30 703.20v6.2M59.40 869.80h6.2M675.30 869.80h-6.2M59.40 828.15h6.2M675.30 828.15h-6.2M59.40 786.50h6.2M675.30 786.50h-6.2M59.40 744.85h6.2M675.30 744.85h-6.2M59.40 703.20h6.2M675.30 703.20h-6.2" stroke="#262626" stroke-width="1" fill="none"/>
<rect x="59.40" y="703.20" width="615.90" height="166.60" stroke="#262626" stroke-width="1.2" fill="none"/>
<text x="59.40" y="891.20" font-size="16.0" text-anchor="middle" fill="#262626">0</text>
<text x="127.83" y="891.20" font-size="16.0" text-anchor="middle" fill="#262626">5</text>
<text x="196.27" y="891.20" font-size="16.0" text-anchor="middle" fill="#262626">10</text>
<text x="264.70" y="891.20" font-size="16.0" text-anchor="middle" fill="#262626">15</text>
<text x="333.13" y="891.20" font-size="16.0" text-anchor="middle" fill="#262626">20</text>
<text x="401.57" y="891.20" font-size="16.0" text-anchor="middle" fill="#262626">25</text>
<text x="470.00" y="891.20" font-size="16.0" text-anchor="middle" fill="#262626">30</text>
<text x="538.43" y="891.20" font-size="16.0" text-anchor="middle" fill="#262626">35</text>
<text x="606.87" y="891.20" font-size="16.0" text-anchor="middle" fill="#262626">40</text>
<text x="675.30" y="891.20" font-size="16.0" text-anchor="middle" fill="#262626">45</text>
<text x="54.80" y="876.55" font-size="16.0" text-anchor="end" fill="#262626">-2</text>
<text x="54.80" y="834.90" font-size="16.0" text-anchor="end" fill="#262626">-1</text>
<text x="54.80" y="793.25" font-size="16.0" text-anchor="end" fill="#262626">0</text>
<text x="54.80" y="751.60" font-size="16.0" text-anchor="end" fill="#262626">1</text>
<text x="54.80" y="709.95" font-size="16.0" text-anchor="end" fill="#262626">2</text>
<text transform="translate(14.20,90.30) rotate(-90) scale(1,0.960)" font-size="17.80" text-anchor="middle" fill="#000">Angle (°)</text>
<text transform="translate(14.20,322.20) rotate(-90) scale(1,0.960)" font-size="17.80" text-anchor="middle" fill="#000">Tracking Error (°)</text>
<text transform="translate(15.90,554.60) rotate(-90) scale(1,0.960)" font-size="17.80" text-anchor="middle" fill="#000">Estimated p<tspan font-size="15" dy="8.6">k</tspan></text>
<text transform="translate(23.40,795.30) rotate(-90) scale(1,0.960)" font-size="17.80" text-anchor="middle" fill="#000">Control output (x100KPa)</text>
<text transform="translate(366.90,918.80) scale(1,0.960)" font-size="17.80" text-anchor="middle" fill="#000">Time (s)</text>
<path d="M133.80 31.20H186.80" stroke="#000" stroke-width="1.80" stroke-dasharray="6.6,6.8"/>
<text transform="translate(190.80,37.80) scale(1,0.960)" font-size="17.80" text-anchor="start" fill="#000">Desired</text>
<path d="M262.60 31.20H315.90" stroke="#0000ff" stroke-width="1.80"/>
<text transform="translate(319.40,37.80) scale(1,0.960)" font-size="17.80" text-anchor="start" fill="#000">Measured AFSMC</text>
<path d="M476.20 31.20H528.20" stroke="#ff0000" stroke-width="1.80"/>
<text transform="translate(532.60,37.80) scale(1,0.960)" font-size="17.80" text-anchor="start" fill="#000">Measured SMC</text>
<path d="M429.20 263.20H481.90" stroke="#0000ff" stroke-width="1.80"/>
<text transform="translate(487.00,269.80) scale(1,0.960)" font-size="17.80" text-anchor="start" fill="#000">AFSMC</text>
<path d="M559.30 263.20H612.00" stroke="#ff0000" stroke-width="1.80"/>
<text transform="translate(616.00,269.80) scale(1,0.960)" font-size="17.80" text-anchor="start" fill="#000">SMC</text>
<path d="M429.20 495.40H481.90" stroke="#0000ff" stroke-width="1.80"/>
<text transform="translate(487.00,502.00) scale(1,0.960)" font-size="17.80" text-anchor="start" fill="#000">AFSMC</text>
<path d="M559.30 495.40H612.00" stroke="#ff0000" stroke-width="1.80"/>
<text transform="translate(616.00,502.00) scale(1,0.960)" font-size="17.80" text-anchor="start" fill="#000">SMC</text>
<path d="M429.20 727.80H481.90" stroke="#0000ff" stroke-width="1.80"/>
<text transform="translate(487.00,734.40) scale(1,0.960)" font-size="17.80" text-anchor="start" fill="#000">AFSMC</text>
<path d="M559.30 727.80H612.00" stroke="#ff0000" stroke-width="1.80"/>
<text transform="translate(616.00,734.40) scale(1,0.960)" font-size="17.80" text-anchor="start" fill="#000">SMC</text>
<text transform="translate(120.50,276.00) scale(1,0.960)" font-size="17.80" text-anchor="start" fill="#000">Load changed AFSMC</text>
<path d="M309.10 272.40L349.69 279.77" stroke="#000" stroke-width="1"/>
<path d="M361.40 281.90L343.30 285.32L349.69 279.77L345.66 272.33Z" fill="#000"/>
<rect x="361.4" y="272.4" width="11.2" height="18.1" fill="none" stroke="#000" stroke-width="1"/>
<text transform="translate(446.80,382.50) scale(1,0.960)" font-size="17.80" text-anchor="start" fill="#000">Load changed SMC</text>
<path d="M507.70 360.60L481.02 314.03" stroke="#000" stroke-width="1"/>
<path d="M475.10 303.70L489.38 315.34L481.02 314.03L477.92 321.91Z" fill="#000"/>
<rect x="468.6" y="281.6" width="11.6" height="18.9" fill="none" stroke="#000" stroke-width="1"/>
</g></svg>
</body></html>
